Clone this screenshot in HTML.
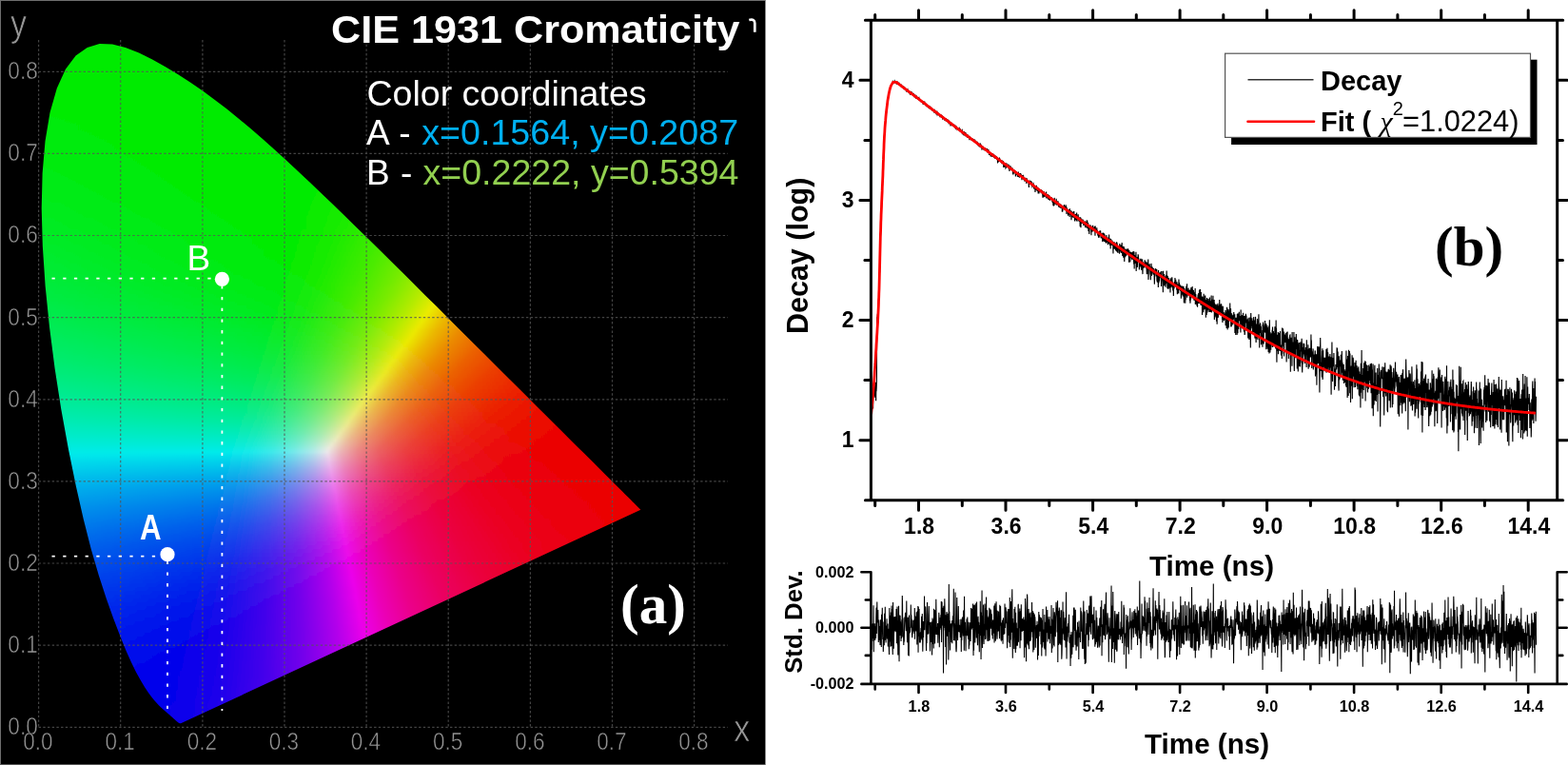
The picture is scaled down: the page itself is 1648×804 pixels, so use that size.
<!DOCTYPE html><html><head><meta charset="utf-8"><title>CIE 1931 chromaticity and decay</title><style>html,body{margin:0;padding:0;background:#fff;overflow:hidden}svg{display:block}</style></head><body><svg width="1648" height="804" viewBox="0 0 1648 804"><rect width="1648" height="804" fill="#fff"/><defs><linearGradient id="g0" gradientUnits="userSpaceOnUse" x1="91" x2="129"><stop offset="0" stop-color="#00eb00"/><stop offset="1" stop-color="#00eb00"/></linearGradient><linearGradient id="g1" gradientUnits="userSpaceOnUse" x1="83" x2="143"><stop offset="0" stop-color="#00eb00"/><stop offset="1" stop-color="#00eb00"/></linearGradient><linearGradient id="g2" gradientUnits="userSpaceOnUse" x1="77" x2="153"><stop offset="0" stop-color="#00eb00"/><stop offset="1" stop-color="#00eb00"/></linearGradient><linearGradient id="g3" gradientUnits="userSpaceOnUse" x1="73" x2="161"><stop offset="0" stop-color="#00eb00"/><stop offset="1" stop-color="#00eb00"/></linearGradient><linearGradient id="g4" gradientUnits="userSpaceOnUse" x1="70" x2="168"><stop offset="0" stop-color="#00eb00"/><stop offset="1" stop-color="#00eb00"/></linearGradient><linearGradient id="g5" gradientUnits="userSpaceOnUse" x1="67" x2="175"><stop offset="0" stop-color="#00eb00"/><stop offset="1" stop-color="#00eb00"/></linearGradient><linearGradient id="g6" gradientUnits="userSpaceOnUse" x1="64" x2="181"><stop offset="0" stop-color="#00eb00"/><stop offset="1" stop-color="#00eb00"/></linearGradient><linearGradient id="g7" gradientUnits="userSpaceOnUse" x1="62" x2="188"><stop offset="0" stop-color="#00eb00"/><stop offset="1" stop-color="#00eb00"/></linearGradient><linearGradient id="g8" gradientUnits="userSpaceOnUse" x1="61" x2="195"><stop offset="0" stop-color="#00eb00"/><stop offset="1" stop-color="#00eb00"/></linearGradient><linearGradient id="g9" gradientUnits="userSpaceOnUse" x1="59" x2="201"><stop offset="0" stop-color="#00eb01"/><stop offset="1" stop-color="#00eb00"/></linearGradient><linearGradient id="g10" gradientUnits="userSpaceOnUse" x1="57" x2="207"><stop offset="0" stop-color="#00eb01"/><stop offset="1" stop-color="#00eb00"/></linearGradient><linearGradient id="g11" gradientUnits="userSpaceOnUse" x1="55" x2="213"><stop offset="0" stop-color="#00eb02"/><stop offset="1" stop-color="#00eb00"/></linearGradient><linearGradient id="g12" gradientUnits="userSpaceOnUse" x1="54" x2="219"><stop offset="0" stop-color="#00eb02"/><stop offset="1" stop-color="#00eb00"/></linearGradient><linearGradient id="g13" gradientUnits="userSpaceOnUse" x1="52" x2="224"><stop offset="0" stop-color="#00eb03"/><stop offset="0.901" stop-color="#00eb00"/><stop offset="1" stop-color="#00eb00"/></linearGradient><linearGradient id="g14" gradientUnits="userSpaceOnUse" x1="51" x2="230"><stop offset="0" stop-color="#00eb03"/><stop offset="0.715" stop-color="#00eb00"/><stop offset="1" stop-color="#00eb00"/></linearGradient><linearGradient id="g15" gradientUnits="userSpaceOnUse" x1="50" x2="236"><stop offset="0" stop-color="#00eb04"/><stop offset="0.634" stop-color="#00eb00"/><stop offset="1" stop-color="#00eb00"/></linearGradient><linearGradient id="g16" gradientUnits="userSpaceOnUse" x1="49" x2="241"><stop offset="0" stop-color="#00eb05"/><stop offset="0.599" stop-color="#00eb00"/><stop offset="1" stop-color="#00eb00"/></linearGradient><linearGradient id="g17" gradientUnits="userSpaceOnUse" x1="48" x2="245"><stop offset="0" stop-color="#00eb05"/><stop offset="0.579" stop-color="#00eb00"/><stop offset="1" stop-color="#00eb00"/></linearGradient><linearGradient id="g18" gradientUnits="userSpaceOnUse" x1="48" x2="250"><stop offset="0" stop-color="#00eb06"/><stop offset="0.569" stop-color="#00eb00"/><stop offset="1" stop-color="#00eb00"/></linearGradient><linearGradient id="g19" gradientUnits="userSpaceOnUse" x1="47" x2="255"><stop offset="0" stop-color="#00eb06"/><stop offset="0.562" stop-color="#00eb00"/><stop offset="1" stop-color="#00eb00"/></linearGradient><linearGradient id="g20" gradientUnits="userSpaceOnUse" x1="46" x2="261"><stop offset="0" stop-color="#00eb07"/><stop offset="0.558" stop-color="#00eb00"/><stop offset="1" stop-color="#00eb00"/></linearGradient><linearGradient id="g21" gradientUnits="userSpaceOnUse" x1="45" x2="265"><stop offset="0" stop-color="#00eb08"/><stop offset="0.559" stop-color="#00eb00"/><stop offset="1" stop-color="#00eb00"/></linearGradient><linearGradient id="g22" gradientUnits="userSpaceOnUse" x1="45" x2="269"><stop offset="0" stop-color="#00eb09"/><stop offset="0.562" stop-color="#00eb00"/><stop offset="1" stop-color="#00eb00"/></linearGradient><linearGradient id="g23" gradientUnits="userSpaceOnUse" x1="44" x2="274"><stop offset="0" stop-color="#00eb09"/><stop offset="0.565" stop-color="#00eb00"/><stop offset="1" stop-color="#00eb00"/></linearGradient><linearGradient id="g24" gradientUnits="userSpaceOnUse" x1="44" x2="279"><stop offset="0" stop-color="#00eb0a"/><stop offset="0.57" stop-color="#00eb00"/><stop offset="1" stop-color="#00eb00"/></linearGradient><linearGradient id="g25" gradientUnits="userSpaceOnUse" x1="43" x2="283"><stop offset="0" stop-color="#00eb0b"/><stop offset="0.575" stop-color="#00eb00"/><stop offset="1" stop-color="#00eb00"/></linearGradient><linearGradient id="g26" gradientUnits="userSpaceOnUse" x1="43" x2="287"><stop offset="0" stop-color="#00eb0c"/><stop offset="0.582" stop-color="#00eb00"/><stop offset="1" stop-color="#00eb00"/></linearGradient><linearGradient id="g27" gradientUnits="userSpaceOnUse" x1="42" x2="293"><stop offset="0" stop-color="#00eb0d"/><stop offset="0.586" stop-color="#00eb00"/><stop offset="1" stop-color="#00eb00"/></linearGradient><linearGradient id="g28" gradientUnits="userSpaceOnUse" x1="42" x2="297"><stop offset="0" stop-color="#00eb0d"/><stop offset="0.592" stop-color="#00eb00"/><stop offset="1" stop-color="#00eb00"/></linearGradient><linearGradient id="g29" gradientUnits="userSpaceOnUse" x1="41" x2="301"><stop offset="0" stop-color="#00eb0e"/><stop offset="0.6" stop-color="#00eb00"/><stop offset="1" stop-color="#00eb00"/></linearGradient><linearGradient id="g30" gradientUnits="userSpaceOnUse" x1="41" x2="305"><stop offset="0" stop-color="#00eb0f"/><stop offset="0.606" stop-color="#00eb00"/><stop offset="1" stop-color="#00eb00"/></linearGradient><linearGradient id="g31" gradientUnits="userSpaceOnUse" x1="41" x2="310"><stop offset="0" stop-color="#00eb10"/><stop offset="0.61" stop-color="#00eb00"/><stop offset="1" stop-color="#00eb00"/></linearGradient><linearGradient id="g32" gradientUnits="userSpaceOnUse" x1="40" x2="314"><stop offset="0" stop-color="#00eb11"/><stop offset="0.617" stop-color="#00eb00"/><stop offset="1" stop-color="#00eb00"/></linearGradient><linearGradient id="g33" gradientUnits="userSpaceOnUse" x1="40" x2="318"><stop offset="0" stop-color="#00eb12"/><stop offset="0.626" stop-color="#00eb00"/><stop offset="1" stop-color="#00eb00"/></linearGradient><linearGradient id="g34" gradientUnits="userSpaceOnUse" x1="40" x2="322"><stop offset="0" stop-color="#00eb13"/><stop offset="0.631" stop-color="#00eb00"/><stop offset="1" stop-color="#01eb00"/></linearGradient><linearGradient id="g35" gradientUnits="userSpaceOnUse" x1="40" x2="327"><stop offset="0" stop-color="#00eb14"/><stop offset="0.638" stop-color="#00eb00"/><stop offset="1" stop-color="#02eb00"/></linearGradient><linearGradient id="g36" gradientUnits="userSpaceOnUse" x1="39" x2="332"><stop offset="0" stop-color="#00eb15"/><stop offset="0.642" stop-color="#00eb00"/><stop offset="0.98" stop-color="#02eb00"/><stop offset="1" stop-color="#04eb00"/></linearGradient><linearGradient id="g37" gradientUnits="userSpaceOnUse" x1="39" x2="336"><stop offset="0" stop-color="#00eb16"/><stop offset="0.65" stop-color="#00eb00"/><stop offset="0.963" stop-color="#02eb00"/><stop offset="1" stop-color="#06eb00"/></linearGradient><linearGradient id="g38" gradientUnits="userSpaceOnUse" x1="39" x2="340"><stop offset="0" stop-color="#00eb17"/><stop offset="0.654" stop-color="#00eb00"/><stop offset="0.947" stop-color="#02eb00"/><stop offset="1" stop-color="#08eb00"/></linearGradient><linearGradient id="g39" gradientUnits="userSpaceOnUse" x1="39" x2="344"><stop offset="0" stop-color="#00eb18"/><stop offset="0.662" stop-color="#00eb00"/><stop offset="0.931" stop-color="#02eb00"/><stop offset="1" stop-color="#0aeb00"/></linearGradient><linearGradient id="g40" gradientUnits="userSpaceOnUse" x1="39" x2="348"><stop offset="0" stop-color="#00eb19"/><stop offset="0.67" stop-color="#00eb00"/><stop offset="0.916" stop-color="#02eb00"/><stop offset="1" stop-color="#0deb00"/></linearGradient><linearGradient id="g41" gradientUnits="userSpaceOnUse" x1="39" x2="352"><stop offset="0" stop-color="#00eb1a"/><stop offset="0.677" stop-color="#00eb00"/><stop offset="0.901" stop-color="#02eb00"/><stop offset="1" stop-color="#10eb00"/></linearGradient><linearGradient id="g42" gradientUnits="userSpaceOnUse" x1="39" x2="356"><stop offset="0" stop-color="#00eb1b"/><stop offset="0.685" stop-color="#00eb00"/><stop offset="0.883" stop-color="#02eb00"/><stop offset="1" stop-color="#13eb00"/></linearGradient><linearGradient id="g43" gradientUnits="userSpaceOnUse" x1="39" x2="360"><stop offset="0" stop-color="#00eb1d"/><stop offset="0.692" stop-color="#00eb00"/><stop offset="0.869" stop-color="#02eb00"/><stop offset="1" stop-color="#16eb00"/></linearGradient><linearGradient id="g44" gradientUnits="userSpaceOnUse" x1="39" x2="364"><stop offset="0" stop-color="#00eb1e"/><stop offset="0.698" stop-color="#00eb00"/><stop offset="0.855" stop-color="#02eb00"/><stop offset="1" stop-color="#19eb00"/></linearGradient><linearGradient id="g45" gradientUnits="userSpaceOnUse" x1="39" x2="368"><stop offset="0" stop-color="#00eb1f"/><stop offset="0.702" stop-color="#00eb00"/><stop offset="0.845" stop-color="#03eb00"/><stop offset="0.988" stop-color="#1aeb00"/><stop offset="1" stop-color="#1deb00"/></linearGradient><linearGradient id="g46" gradientUnits="userSpaceOnUse" x1="39" x2="373"><stop offset="0" stop-color="#00eb20"/><stop offset="0.71" stop-color="#00eb00"/><stop offset="0.829" stop-color="#03eb00"/><stop offset="0.967" stop-color="#1aeb00"/><stop offset="1" stop-color="#22eb00"/></linearGradient><linearGradient id="g47" gradientUnits="userSpaceOnUse" x1="39" x2="377"><stop offset="0" stop-color="#00eb22"/><stop offset="0.716" stop-color="#00eb00"/><stop offset="0.82" stop-color="#03eb00"/><stop offset="0.956" stop-color="#1beb00"/><stop offset="1" stop-color="#26eb00"/></linearGradient><linearGradient id="g48" gradientUnits="userSpaceOnUse" x1="40" x2="381"><stop offset="0" stop-color="#00eb23"/><stop offset="0.721" stop-color="#00eb00"/><stop offset="0.809" stop-color="#03eb00"/><stop offset="0.944" stop-color="#1ceb00"/><stop offset="1" stop-color="#2beb00"/></linearGradient><linearGradient id="g49" gradientUnits="userSpaceOnUse" x1="40" x2="385"><stop offset="0" stop-color="#00eb24"/><stop offset="0.728" stop-color="#00eb00"/><stop offset="0.809" stop-color="#05eb00"/><stop offset="0.945" stop-color="#20eb00"/><stop offset="1" stop-color="#30eb00"/></linearGradient><linearGradient id="g50" gradientUnits="userSpaceOnUse" x1="40" x2="389"><stop offset="0" stop-color="#00eb26"/><stop offset="0.734" stop-color="#00eb00"/><stop offset="0.825" stop-color="#0aeb00"/><stop offset="0.96" stop-color="#29eb00"/><stop offset="1" stop-color="#35eb00"/></linearGradient><linearGradient id="g51" gradientUnits="userSpaceOnUse" x1="40" x2="393"><stop offset="0" stop-color="#00eb27"/><stop offset="0.739" stop-color="#00eb00"/><stop offset="0.856" stop-color="#12eb00"/><stop offset="0.989" stop-color="#37eb00"/><stop offset="1" stop-color="#3beb00"/></linearGradient><linearGradient id="g52" gradientUnits="userSpaceOnUse" x1="40" x2="397"><stop offset="0" stop-color="#00eb29"/><stop offset="0.745" stop-color="#02eb00"/><stop offset="0.866" stop-color="#18eb00"/><stop offset="0.994" stop-color="#3feb00"/><stop offset="1" stop-color="#41eb00"/></linearGradient><linearGradient id="g53" gradientUnits="userSpaceOnUse" x1="40" x2="401"><stop offset="0" stop-color="#00eb2a"/><stop offset="0.734" stop-color="#02eb00"/><stop offset="0.853" stop-color="#18eb00"/><stop offset="0.981" stop-color="#40eb00"/><stop offset="1" stop-color="#47eb00"/></linearGradient><linearGradient id="g54" gradientUnits="userSpaceOnUse" x1="40" x2="405"><stop offset="0" stop-color="#00eb2c"/><stop offset="0.723" stop-color="#02eb01"/><stop offset="0.841" stop-color="#19eb00"/><stop offset="0.964" stop-color="#40eb00"/><stop offset="1" stop-color="#4eeb00"/></linearGradient><linearGradient id="g55" gradientUnits="userSpaceOnUse" x1="40" x2="409"><stop offset="0" stop-color="#00eb2d"/><stop offset="0.713" stop-color="#02eb02"/><stop offset="0.827" stop-color="#18eb00"/><stop offset="0.949" stop-color="#40eb00"/><stop offset="1" stop-color="#55eb00"/></linearGradient><linearGradient id="g56" gradientUnits="userSpaceOnUse" x1="40" x2="413"><stop offset="0" stop-color="#00eb2f"/><stop offset="0.702" stop-color="#02eb02"/><stop offset="0.815" stop-color="#19eb00"/><stop offset="0.936" stop-color="#41eb00"/><stop offset="1" stop-color="#5deb00"/></linearGradient><linearGradient id="g57" gradientUnits="userSpaceOnUse" x1="41" x2="417"><stop offset="0" stop-color="#00eb30"/><stop offset="0.691" stop-color="#02eb03"/><stop offset="0.803" stop-color="#19eb00"/><stop offset="0.92" stop-color="#41eb00"/><stop offset="1" stop-color="#65eb00"/></linearGradient><linearGradient id="g58" gradientUnits="userSpaceOnUse" x1="41" x2="422"><stop offset="0" stop-color="#00eb32"/><stop offset="0.677" stop-color="#02eb05"/><stop offset="0.785" stop-color="#18eb00"/><stop offset="0.9" stop-color="#3feb00"/><stop offset="1" stop-color="#6feb00"/></linearGradient><linearGradient id="g59" gradientUnits="userSpaceOnUse" x1="41" x2="426"><stop offset="0" stop-color="#00eb34"/><stop offset="0.668" stop-color="#02eb06"/><stop offset="0.774" stop-color="#18eb00"/><stop offset="0.886" stop-color="#3feb00"/><stop offset="0.99" stop-color="#73eb00"/><stop offset="1" stop-color="#79eb00"/></linearGradient><linearGradient id="g60" gradientUnits="userSpaceOnUse" x1="42" x2="430"><stop offset="0" stop-color="#00eb35"/><stop offset="0.657" stop-color="#02eb07"/><stop offset="0.76" stop-color="#18eb01"/><stop offset="0.871" stop-color="#3feb00"/><stop offset="0.974" stop-color="#73eb00"/><stop offset="1" stop-color="#83eb00"/></linearGradient><linearGradient id="g61" gradientUnits="userSpaceOnUse" x1="42" x2="434"><stop offset="0" stop-color="#00eb37"/><stop offset="0.648" stop-color="#02eb08"/><stop offset="0.75" stop-color="#18eb02"/><stop offset="0.86" stop-color="#40eb00"/><stop offset="0.959" stop-color="#74eb00"/><stop offset="1" stop-color="#8deb00"/></linearGradient><linearGradient id="g62" gradientUnits="userSpaceOnUse" x1="42" x2="438"><stop offset="0" stop-color="#00eb39"/><stop offset="0.639" stop-color="#02eb0a"/><stop offset="0.74" stop-color="#19eb03"/><stop offset="0.846" stop-color="#40eb00"/><stop offset="0.944" stop-color="#74eb00"/><stop offset="1" stop-color="#99eb00"/></linearGradient><linearGradient id="g63" gradientUnits="userSpaceOnUse" x1="42" x2="442"><stop offset="0" stop-color="#00eb3b"/><stop offset="0.627" stop-color="#02eb0c"/><stop offset="0.725" stop-color="#18eb04"/><stop offset="0.83" stop-color="#3feb00"/><stop offset="0.927" stop-color="#73eb00"/><stop offset="1" stop-color="#a5eb00"/></linearGradient><linearGradient id="g64" gradientUnits="userSpaceOnUse" x1="43" x2="446"><stop offset="0" stop-color="#00eb3d"/><stop offset="0.618" stop-color="#02eb0d"/><stop offset="0.715" stop-color="#18eb05"/><stop offset="0.816" stop-color="#3feb00"/><stop offset="0.911" stop-color="#72eb00"/><stop offset="0.995" stop-color="#aeeb00"/><stop offset="1" stop-color="#b2eb00"/></linearGradient><linearGradient id="g65" gradientUnits="userSpaceOnUse" x1="43" x2="450"><stop offset="0" stop-color="#00eb3f"/><stop offset="0.582" stop-color="#00eb11"/><stop offset="0.651" stop-color="#0aeb0b"/><stop offset="0.752" stop-color="#29eb03"/><stop offset="0.85" stop-color="#57eb00"/><stop offset="0.939" stop-color="#8feb00"/><stop offset="1" stop-color="#c0eb00"/></linearGradient><linearGradient id="g66" gradientUnits="userSpaceOnUse" x1="43" x2="454"><stop offset="0" stop-color="#00eb41"/><stop offset="0.557" stop-color="#00eb15"/><stop offset="0.616" stop-color="#04eb10"/><stop offset="0.713" stop-color="#1feb07"/><stop offset="0.81" stop-color="#49eb00"/><stop offset="0.9" stop-color="#7eeb00"/><stop offset="0.981" stop-color="#bdeb00"/><stop offset="1" stop-color="#cfeb00"/></linearGradient><linearGradient id="g67" gradientUnits="userSpaceOnUse" x1="43" x2="457"><stop offset="0" stop-color="#00eb43"/><stop offset="0.536" stop-color="#00eb18"/><stop offset="0.601" stop-color="#03eb12"/><stop offset="0.696" stop-color="#1ceb09"/><stop offset="0.792" stop-color="#45eb01"/><stop offset="0.882" stop-color="#7aeb00"/><stop offset="0.961" stop-color="#b8eb00"/><stop offset="1" stop-color="#ddeb00"/></linearGradient><linearGradient id="g68" gradientUnits="userSpaceOnUse" x1="44" x2="461"><stop offset="0" stop-color="#00eb45"/><stop offset="0.52" stop-color="#00eb1b"/><stop offset="0.59" stop-color="#03eb14"/><stop offset="0.681" stop-color="#1beb0b"/><stop offset="0.777" stop-color="#44eb03"/><stop offset="0.863" stop-color="#77eb00"/><stop offset="0.942" stop-color="#b5eb00"/><stop offset="0.998" stop-color="#ebea00"/><stop offset="1" stop-color="#ebe700"/></linearGradient><linearGradient id="g69" gradientUnits="userSpaceOnUse" x1="44" x2="465"><stop offset="0" stop-color="#00eb47"/><stop offset="0.504" stop-color="#00eb1e"/><stop offset="0.58" stop-color="#03eb17"/><stop offset="0.667" stop-color="#1aeb0e"/><stop offset="0.76" stop-color="#41eb05"/><stop offset="0.846" stop-color="#75eb00"/><stop offset="0.922" stop-color="#b1eb00"/><stop offset="0.981" stop-color="#ebea00"/><stop offset="1" stop-color="#ebd700"/></linearGradient><linearGradient id="g70" gradientUnits="userSpaceOnUse" x1="45" x2="470"><stop offset="0" stop-color="#00eb4a"/><stop offset="0.489" stop-color="#00eb21"/><stop offset="0.569" stop-color="#03eb19"/><stop offset="0.656" stop-color="#1aeb10"/><stop offset="0.748" stop-color="#43eb06"/><stop offset="0.833" stop-color="#77eb00"/><stop offset="0.908" stop-color="#b4eb00"/><stop offset="0.962" stop-color="#ebea00"/><stop offset="1" stop-color="#ebc500"/></linearGradient><linearGradient id="g71" gradientUnits="userSpaceOnUse" x1="45" x2="474"><stop offset="0" stop-color="#00eb4c"/><stop offset="0.476" stop-color="#00eb24"/><stop offset="0.559" stop-color="#02eb1b"/><stop offset="0.646" stop-color="#1aeb12"/><stop offset="0.734" stop-color="#41eb09"/><stop offset="0.816" stop-color="#74eb01"/><stop offset="0.89" stop-color="#b1eb00"/><stop offset="0.946" stop-color="#ebeb00"/><stop offset="0.998" stop-color="#ebb900"/><stop offset="1" stop-color="#ebb700"/></linearGradient><linearGradient id="g72" gradientUnits="userSpaceOnUse" x1="45" x2="478"><stop offset="0" stop-color="#00eb4e"/><stop offset="0.462" stop-color="#00eb27"/><stop offset="0.552" stop-color="#02eb1e"/><stop offset="0.635" stop-color="#19eb15"/><stop offset="0.723" stop-color="#41eb0b"/><stop offset="0.804" stop-color="#75eb02"/><stop offset="0.875" stop-color="#b1eb00"/><stop offset="0.931" stop-color="#eaeb00"/><stop offset="0.984" stop-color="#ebb700"/><stop offset="1" stop-color="#ebaa00"/></linearGradient><linearGradient id="g73" gradientUnits="userSpaceOnUse" x1="46" x2="482"><stop offset="0" stop-color="#00eb51"/><stop offset="0.452" stop-color="#00eb2a"/><stop offset="0.544" stop-color="#02eb20"/><stop offset="0.626" stop-color="#1aeb17"/><stop offset="0.713" stop-color="#42eb0d"/><stop offset="0.794" stop-color="#77eb04"/><stop offset="0.865" stop-color="#b4eb00"/><stop offset="0.915" stop-color="#eaeb00"/><stop offset="0.968" stop-color="#ebb600"/><stop offset="1" stop-color="#eb9d00"/></linearGradient><linearGradient id="g74" gradientUnits="userSpaceOnUse" x1="46" x2="486"><stop offset="0" stop-color="#00eb53"/><stop offset="0.441" stop-color="#00eb2d"/><stop offset="0.534" stop-color="#02eb23"/><stop offset="0.614" stop-color="#19eb1a"/><stop offset="0.698" stop-color="#40eb10"/><stop offset="0.775" stop-color="#72eb06"/><stop offset="0.845" stop-color="#afeb00"/><stop offset="0.902" stop-color="#ebe900"/><stop offset="0.952" stop-color="#ebb600"/><stop offset="1" stop-color="#eb9200"/></linearGradient><linearGradient id="g75" gradientUnits="userSpaceOnUse" x1="46" x2="490"><stop offset="0" stop-color="#00eb56"/><stop offset="0.432" stop-color="#00eb30"/><stop offset="0.527" stop-color="#02eb26"/><stop offset="0.606" stop-color="#19eb1d"/><stop offset="0.689" stop-color="#41eb12"/><stop offset="0.766" stop-color="#75eb08"/><stop offset="0.833" stop-color="#b1eb01"/><stop offset="0.887" stop-color="#ebe900"/><stop offset="0.937" stop-color="#ebb600"/><stop offset="0.998" stop-color="#eb8800"/><stop offset="1" stop-color="#eb8700"/></linearGradient><linearGradient id="g76" gradientUnits="userSpaceOnUse" x1="47" x2="494"><stop offset="0" stop-color="#00eb58"/><stop offset="0.423" stop-color="#00eb34"/><stop offset="0.519" stop-color="#02eb29"/><stop offset="0.597" stop-color="#1aeb1f"/><stop offset="0.678" stop-color="#41eb15"/><stop offset="0.754" stop-color="#75eb0b"/><stop offset="0.821" stop-color="#b2eb03"/><stop offset="0.872" stop-color="#ebe900"/><stop offset="0.919" stop-color="#ebb700"/><stop offset="0.98" stop-color="#eb8900"/><stop offset="1" stop-color="#eb7d00"/></linearGradient><linearGradient id="g77" gradientUnits="userSpaceOnUse" x1="47" x2="498"><stop offset="0" stop-color="#00eb5b"/><stop offset="0.415" stop-color="#00eb37"/><stop offset="0.512" stop-color="#02eb2c"/><stop offset="0.588" stop-color="#19eb22"/><stop offset="0.667" stop-color="#41eb18"/><stop offset="0.741" stop-color="#74eb0e"/><stop offset="0.807" stop-color="#b1eb05"/><stop offset="0.858" stop-color="#ebe900"/><stop offset="0.905" stop-color="#ebb700"/><stop offset="0.962" stop-color="#eb8a00"/><stop offset="1" stop-color="#eb7300"/></linearGradient><linearGradient id="g78" gradientUnits="userSpaceOnUse" x1="48" x2="502"><stop offset="0" stop-color="#00eb5e"/><stop offset="0.407" stop-color="#00eb3a"/><stop offset="0.502" stop-color="#02eb2f"/><stop offset="0.577" stop-color="#19eb26"/><stop offset="0.656" stop-color="#41eb1b"/><stop offset="0.729" stop-color="#75eb11"/><stop offset="0.793" stop-color="#b1eb08"/><stop offset="0.844" stop-color="#ebe901"/><stop offset="0.89" stop-color="#ebb700"/><stop offset="0.947" stop-color="#eb8900"/><stop offset="1" stop-color="#eb6b00"/></linearGradient><linearGradient id="g79" gradientUnits="userSpaceOnUse" x1="48" x2="506"><stop offset="0" stop-color="#00eb61"/><stop offset="0.4" stop-color="#00eb3e"/><stop offset="0.496" stop-color="#02eb32"/><stop offset="0.568" stop-color="#19eb29"/><stop offset="0.644" stop-color="#40eb1f"/><stop offset="0.716" stop-color="#74eb14"/><stop offset="0.779" stop-color="#b0eb0b"/><stop offset="0.83" stop-color="#ebea04"/><stop offset="0.876" stop-color="#ebb600"/><stop offset="0.932" stop-color="#eb8900"/><stop offset="1" stop-color="#eb6200"/></linearGradient><linearGradient id="g80" gradientUnits="userSpaceOnUse" x1="49" x2="510"><stop offset="0" stop-color="#00eb64"/><stop offset="0.393" stop-color="#00eb41"/><stop offset="0.488" stop-color="#02eb36"/><stop offset="0.56" stop-color="#19eb2c"/><stop offset="0.636" stop-color="#41eb22"/><stop offset="0.705" stop-color="#74eb17"/><stop offset="0.768" stop-color="#b1eb0d"/><stop offset="0.816" stop-color="#ebea06"/><stop offset="0.859" stop-color="#ebb801"/><stop offset="0.913" stop-color="#eb8b00"/><stop offset="0.983" stop-color="#eb6300"/><stop offset="1" stop-color="#eb5b00"/></linearGradient><linearGradient id="g81" gradientUnits="userSpaceOnUse" x1="49" x2="514"><stop offset="0" stop-color="#00eb67"/><stop offset="0.387" stop-color="#00eb44"/><stop offset="0.482" stop-color="#02eb39"/><stop offset="0.553" stop-color="#1aeb30"/><stop offset="0.626" stop-color="#41eb25"/><stop offset="0.695" stop-color="#75eb1b"/><stop offset="0.755" stop-color="#b0eb11"/><stop offset="0.802" stop-color="#ebea09"/><stop offset="0.845" stop-color="#ebb802"/><stop offset="0.899" stop-color="#eb8a00"/><stop offset="0.968" stop-color="#eb6200"/><stop offset="1" stop-color="#eb5300"/></linearGradient><linearGradient id="g82" gradientUnits="userSpaceOnUse" x1="50" x2="518"><stop offset="0" stop-color="#00eb6a"/><stop offset="0.38" stop-color="#00eb48"/><stop offset="0.474" stop-color="#02eb3d"/><stop offset="0.543" stop-color="#19eb34"/><stop offset="0.615" stop-color="#41eb29"/><stop offset="0.682" stop-color="#74eb1f"/><stop offset="0.741" stop-color="#b0eb15"/><stop offset="0.788" stop-color="#ebea0d"/><stop offset="0.831" stop-color="#ebb804"/><stop offset="0.885" stop-color="#eb8a00"/><stop offset="0.953" stop-color="#eb6100"/><stop offset="1" stop-color="#eb4c00"/></linearGradient><linearGradient id="g83" gradientUnits="userSpaceOnUse" x1="51" x2="522"><stop offset="0" stop-color="#00eb6d"/><stop offset="0.376" stop-color="#00eb4c"/><stop offset="0.465" stop-color="#02eb41"/><stop offset="0.533" stop-color="#19eb38"/><stop offset="0.605" stop-color="#41eb2d"/><stop offset="0.671" stop-color="#74eb23"/><stop offset="0.73" stop-color="#b1eb18"/><stop offset="0.775" stop-color="#ebeb10"/><stop offset="0.817" stop-color="#ebb707"/><stop offset="0.868" stop-color="#eb8b01"/><stop offset="0.934" stop-color="#eb6200"/><stop offset="1" stop-color="#eb4600"/></linearGradient><linearGradient id="g84" gradientUnits="userSpaceOnUse" x1="51" x2="526"><stop offset="0" stop-color="#00eb70"/><stop offset="0.371" stop-color="#00eb50"/><stop offset="0.459" stop-color="#02eb45"/><stop offset="0.524" stop-color="#18eb3c"/><stop offset="0.594" stop-color="#3feb32"/><stop offset="0.659" stop-color="#73eb27"/><stop offset="0.716" stop-color="#aeeb1d"/><stop offset="0.762" stop-color="#eaeb15"/><stop offset="0.804" stop-color="#ebb70a"/><stop offset="0.855" stop-color="#eb8a02"/><stop offset="0.92" stop-color="#eb6100"/><stop offset="1" stop-color="#eb4000"/></linearGradient><linearGradient id="g85" gradientUnits="userSpaceOnUse" x1="52" x2="530"><stop offset="0" stop-color="#00eb73"/><stop offset="0.366" stop-color="#00eb53"/><stop offset="0.452" stop-color="#02eb49"/><stop offset="0.517" stop-color="#19eb40"/><stop offset="0.586" stop-color="#41eb36"/><stop offset="0.649" stop-color="#73eb2c"/><stop offset="0.705" stop-color="#b0eb21"/><stop offset="0.749" stop-color="#eaeb19"/><stop offset="0.791" stop-color="#ebb70d"/><stop offset="0.841" stop-color="#eb8904"/><stop offset="0.906" stop-color="#eb6000"/><stop offset="0.99" stop-color="#eb3e00"/><stop offset="1" stop-color="#eb3a00"/></linearGradient><linearGradient id="g86" gradientUnits="userSpaceOnUse" x1="52" x2="534"><stop offset="0" stop-color="#00eb77"/><stop offset="0.361" stop-color="#00eb57"/><stop offset="0.446" stop-color="#02eb4d"/><stop offset="0.51" stop-color="#1aeb45"/><stop offset="0.577" stop-color="#41eb3b"/><stop offset="0.639" stop-color="#74eb30"/><stop offset="0.695" stop-color="#b1eb26"/><stop offset="0.737" stop-color="#eaeb1e"/><stop offset="0.78" stop-color="#ebb410"/><stop offset="0.83" stop-color="#eb8706"/><stop offset="0.894" stop-color="#eb5e00"/><stop offset="0.979" stop-color="#eb3b00"/><stop offset="1" stop-color="#eb3500"/></linearGradient><linearGradient id="g87" gradientUnits="userSpaceOnUse" x1="53" x2="538"><stop offset="0" stop-color="#00eb7a"/><stop offset="0.357" stop-color="#00eb5c"/><stop offset="0.439" stop-color="#02eb52"/><stop offset="0.501" stop-color="#19eb49"/><stop offset="0.567" stop-color="#41eb3f"/><stop offset="0.629" stop-color="#75eb35"/><stop offset="0.682" stop-color="#b0eb2b"/><stop offset="0.726" stop-color="#ebe922"/><stop offset="0.765" stop-color="#ebb614"/><stop offset="0.812" stop-color="#eb8909"/><stop offset="0.874" stop-color="#eb6101"/><stop offset="0.955" stop-color="#eb3e00"/><stop offset="1" stop-color="#eb3000"/></linearGradient><linearGradient id="g88" gradientUnits="userSpaceOnUse" x1="53" x2="542"><stop offset="0" stop-color="#00eb7e"/><stop offset="0.354" stop-color="#00eb60"/><stop offset="0.431" stop-color="#02eb57"/><stop offset="0.493" stop-color="#19eb4e"/><stop offset="0.558" stop-color="#41eb45"/><stop offset="0.618" stop-color="#73eb3b"/><stop offset="0.671" stop-color="#b0eb31"/><stop offset="0.714" stop-color="#ebe928"/><stop offset="0.751" stop-color="#ebb819"/><stop offset="0.798" stop-color="#eb8a0c"/><stop offset="0.857" stop-color="#eb6203"/><stop offset="0.935" stop-color="#eb3f00"/><stop offset="1" stop-color="#eb2b00"/></linearGradient><linearGradient id="g89" gradientUnits="userSpaceOnUse" x1="54" x2="546"><stop offset="0" stop-color="#00eb82"/><stop offset="0.352" stop-color="#00eb64"/><stop offset="0.425" stop-color="#02eb5b"/><stop offset="0.484" stop-color="#18eb54"/><stop offset="0.547" stop-color="#3feb4a"/><stop offset="0.606" stop-color="#72eb40"/><stop offset="0.659" stop-color="#afeb36"/><stop offset="0.701" stop-color="#ebe92d"/><stop offset="0.738" stop-color="#ebb71d"/><stop offset="0.785" stop-color="#eb890f"/><stop offset="0.843" stop-color="#eb6105"/><stop offset="0.921" stop-color="#eb3e00"/><stop offset="1" stop-color="#eb2700"/></linearGradient><linearGradient id="g90" gradientUnits="userSpaceOnUse" x1="54" x2="550"><stop offset="0" stop-color="#00eb86"/><stop offset="0.349" stop-color="#00eb69"/><stop offset="0.419" stop-color="#02eb60"/><stop offset="0.478" stop-color="#19eb59"/><stop offset="0.54" stop-color="#40eb4f"/><stop offset="0.597" stop-color="#73eb46"/><stop offset="0.647" stop-color="#aeeb3c"/><stop offset="0.69" stop-color="#ebe933"/><stop offset="0.726" stop-color="#ebb722"/><stop offset="0.77" stop-color="#eb8a13"/><stop offset="0.829" stop-color="#eb6107"/><stop offset="0.905" stop-color="#eb3e00"/><stop offset="1" stop-color="#eb2300"/></linearGradient><linearGradient id="g91" gradientUnits="userSpaceOnUse" x1="55" x2="554"><stop offset="0" stop-color="#00eb8a"/><stop offset="0.347" stop-color="#00eb6d"/><stop offset="0.413" stop-color="#02eb66"/><stop offset="0.471" stop-color="#19eb5e"/><stop offset="0.531" stop-color="#40eb55"/><stop offset="0.587" stop-color="#73eb4c"/><stop offset="0.637" stop-color="#b0eb42"/><stop offset="0.677" stop-color="#ebea3a"/><stop offset="0.713" stop-color="#ebb727"/><stop offset="0.758" stop-color="#eb8a17"/><stop offset="0.814" stop-color="#eb620a"/><stop offset="0.888" stop-color="#eb3f01"/><stop offset="0.988" stop-color="#eb2100"/><stop offset="1" stop-color="#eb1f00"/></linearGradient><linearGradient id="g92" gradientUnits="userSpaceOnUse" x1="56" x2="558"><stop offset="0" stop-color="#00eb8e"/><stop offset="0.345" stop-color="#00eb72"/><stop offset="0.406" stop-color="#02eb6b"/><stop offset="0.464" stop-color="#1aeb64"/><stop offset="0.524" stop-color="#42eb5b"/><stop offset="0.58" stop-color="#76eb52"/><stop offset="0.629" stop-color="#b4eb48"/><stop offset="0.665" stop-color="#ebea41"/><stop offset="0.699" stop-color="#ebb92d"/><stop offset="0.743" stop-color="#eb8b1c"/><stop offset="0.799" stop-color="#eb620d"/><stop offset="0.873" stop-color="#eb3e02"/><stop offset="0.972" stop-color="#eb2100"/><stop offset="1" stop-color="#eb1b00"/></linearGradient><linearGradient id="g93" gradientUnits="userSpaceOnUse" x1="56" x2="562"><stop offset="0" stop-color="#00eb92"/><stop offset="0.344" stop-color="#00eb77"/><stop offset="0.401" stop-color="#02eb71"/><stop offset="0.457" stop-color="#1aeb6a"/><stop offset="0.516" stop-color="#42eb61"/><stop offset="0.569" stop-color="#75eb59"/><stop offset="0.617" stop-color="#b0eb50"/><stop offset="0.654" stop-color="#ebea48"/><stop offset="0.688" stop-color="#ebb833"/><stop offset="0.729" stop-color="#eb8c20"/><stop offset="0.783" stop-color="#eb6311"/><stop offset="0.854" stop-color="#eb4005"/><stop offset="0.949" stop-color="#eb2200"/><stop offset="1" stop-color="#eb1800"/></linearGradient><linearGradient id="g94" gradientUnits="userSpaceOnUse" x1="57" x2="566"><stop offset="0" stop-color="#00eb97"/><stop offset="0.344" stop-color="#00eb7c"/><stop offset="0.395" stop-color="#03eb77"/><stop offset="0.45" stop-color="#1aeb70"/><stop offset="0.507" stop-color="#42eb68"/><stop offset="0.56" stop-color="#76eb5f"/><stop offset="0.607" stop-color="#b2eb57"/><stop offset="0.642" stop-color="#ebea50"/><stop offset="0.676" stop-color="#ebb839"/><stop offset="0.717" stop-color="#eb8b25"/><stop offset="0.77" stop-color="#eb6214"/><stop offset="0.839" stop-color="#eb3f07"/><stop offset="0.933" stop-color="#eb2200"/><stop offset="1" stop-color="#eb1500"/></linearGradient><linearGradient id="g95" gradientUnits="userSpaceOnUse" x1="58" x2="570"><stop offset="0" stop-color="#00eb9b"/><stop offset="0.344" stop-color="#00eb82"/><stop offset="0.389" stop-color="#03eb7d"/><stop offset="0.443" stop-color="#1beb76"/><stop offset="0.5" stop-color="#44eb6f"/><stop offset="0.551" stop-color="#76eb67"/><stop offset="0.598" stop-color="#b4eb5e"/><stop offset="0.631" stop-color="#ebeb58"/><stop offset="0.664" stop-color="#ebb83f"/><stop offset="0.705" stop-color="#eb8a2a"/><stop offset="0.758" stop-color="#eb6117"/><stop offset="0.826" stop-color="#eb3e09"/><stop offset="0.92" stop-color="#eb2100"/><stop offset="1" stop-color="#eb1200"/></linearGradient><linearGradient id="g96" gradientUnits="userSpaceOnUse" x1="58" x2="574"><stop offset="0" stop-color="#00eba0"/><stop offset="0.345" stop-color="#00eb87"/><stop offset="0.384" stop-color="#03eb83"/><stop offset="0.436" stop-color="#1aeb7d"/><stop offset="0.49" stop-color="#42eb76"/><stop offset="0.541" stop-color="#75eb6f"/><stop offset="0.585" stop-color="#b0eb67"/><stop offset="0.62" stop-color="#eaeb60"/><stop offset="0.653" stop-color="#ebb746"/><stop offset="0.694" stop-color="#eb892f"/><stop offset="0.744" stop-color="#eb621b"/><stop offset="0.812" stop-color="#eb3e0b"/><stop offset="0.903" stop-color="#eb2101"/><stop offset="1" stop-color="#eb0f00"/></linearGradient><linearGradient id="g97" gradientUnits="userSpaceOnUse" x1="59" x2="578"><stop offset="0" stop-color="#00eba5"/><stop offset="0.347" stop-color="#00eb8d"/><stop offset="0.38" stop-color="#03eb8a"/><stop offset="0.432" stop-color="#1ceb84"/><stop offset="0.486" stop-color="#45eb7d"/><stop offset="0.536" stop-color="#7aeb76"/><stop offset="0.58" stop-color="#b8eb6f"/><stop offset="0.609" stop-color="#eaeb69"/><stop offset="0.644" stop-color="#ebb44b"/><stop offset="0.684" stop-color="#eb8733"/><stop offset="0.736" stop-color="#eb5e1e"/><stop offset="0.803" stop-color="#eb3c0d"/><stop offset="0.896" stop-color="#eb1f01"/><stop offset="1" stop-color="#eb0c00"/></linearGradient><linearGradient id="g98" gradientUnits="userSpaceOnUse" x1="60" x2="582"><stop offset="0" stop-color="#00ebaa"/><stop offset="0.351" stop-color="#00eb93"/><stop offset="0.383" stop-color="#07eb90"/><stop offset="0.435" stop-color="#23eb8a"/><stop offset="0.487" stop-color="#4eeb84"/><stop offset="0.534" stop-color="#85eb7d"/><stop offset="0.577" stop-color="#c4eb76"/><stop offset="0.598" stop-color="#eaeb73"/><stop offset="0.632" stop-color="#ebb453"/><stop offset="0.67" stop-color="#eb8839"/><stop offset="0.72" stop-color="#eb5f23"/><stop offset="0.785" stop-color="#eb3d11"/><stop offset="0.874" stop-color="#eb2004"/><stop offset="0.994" stop-color="#eb0b00"/><stop offset="1" stop-color="#eb0a00"/></linearGradient><linearGradient id="g99" gradientUnits="userSpaceOnUse" x1="60" x2="586"><stop offset="0" stop-color="#00ebaf"/><stop offset="0.356" stop-color="#00eb99"/><stop offset="0.401" stop-color="#12eb95"/><stop offset="0.452" stop-color="#36eb8f"/><stop offset="0.502" stop-color="#67eb89"/><stop offset="0.546" stop-color="#a2eb83"/><stop offset="0.584" stop-color="#e2eb7d"/><stop offset="0.589" stop-color="#ebe87b"/><stop offset="0.62" stop-color="#ebb65c"/><stop offset="0.658" stop-color="#eb8940"/><stop offset="0.705" stop-color="#eb6129"/><stop offset="0.768" stop-color="#eb3e15"/><stop offset="0.854" stop-color="#eb2106"/><stop offset="0.962" stop-color="#eb0d00"/><stop offset="1" stop-color="#eb0800"/></linearGradient><linearGradient id="g100" gradientUnits="userSpaceOnUse" x1="61" x2="590"><stop offset="0" stop-color="#00ebb4"/><stop offset="0.355" stop-color="#02eba0"/><stop offset="0.403" stop-color="#17eb9c"/><stop offset="0.454" stop-color="#3eeb97"/><stop offset="0.501" stop-color="#71eb91"/><stop offset="0.543" stop-color="#aceb8c"/><stop offset="0.577" stop-color="#e9eb87"/><stop offset="0.612" stop-color="#ebb060"/><stop offset="0.65" stop-color="#eb8444"/><stop offset="0.699" stop-color="#eb5c2b"/><stop offset="0.764" stop-color="#eb3a16"/><stop offset="0.853" stop-color="#eb1d06"/><stop offset="0.962" stop-color="#eb0a00"/><stop offset="1" stop-color="#eb0600"/></linearGradient><linearGradient id="g101" gradientUnits="userSpaceOnUse" x1="62" x2="594"><stop offset="0" stop-color="#00ebba"/><stop offset="0.35" stop-color="#02eba8"/><stop offset="0.397" stop-color="#18eba4"/><stop offset="0.445" stop-color="#3eeba0"/><stop offset="0.491" stop-color="#6feb9b"/><stop offset="0.532" stop-color="#abeb96"/><stop offset="0.568" stop-color="#ebe990"/><stop offset="0.596" stop-color="#ebb86e"/><stop offset="0.632" stop-color="#eb8b50"/><stop offset="0.677" stop-color="#eb6335"/><stop offset="0.737" stop-color="#eb3f1e"/><stop offset="0.818" stop-color="#eb220b"/><stop offset="0.932" stop-color="#eb0c00"/><stop offset="1" stop-color="#eb0400"/></linearGradient><linearGradient id="g102" gradientUnits="userSpaceOnUse" x1="62" x2="598"><stop offset="0" stop-color="#00ebc0"/><stop offset="0.345" stop-color="#02ebb0"/><stop offset="0.39" stop-color="#17ebad"/><stop offset="0.438" stop-color="#3eeba9"/><stop offset="0.483" stop-color="#70eba5"/><stop offset="0.524" stop-color="#adeba1"/><stop offset="0.558" stop-color="#ebe99c"/><stop offset="0.586" stop-color="#ebb777"/><stop offset="0.621" stop-color="#eb8a57"/><stop offset="0.666" stop-color="#eb623a"/><stop offset="0.726" stop-color="#eb3e21"/><stop offset="0.806" stop-color="#eb210e"/><stop offset="0.92" stop-color="#eb0b01"/><stop offset="1" stop-color="#eb0300"/></linearGradient><linearGradient id="g103" gradientUnits="userSpaceOnUse" x1="63" x2="602"><stop offset="0" stop-color="#00ebc6"/><stop offset="0.34" stop-color="#02ebb9"/><stop offset="0.384" stop-color="#18ebb6"/><stop offset="0.432" stop-color="#40ebb3"/><stop offset="0.477" stop-color="#73ebaf"/><stop offset="0.516" stop-color="#afebac"/><stop offset="0.547" stop-color="#ebe9a8"/><stop offset="0.575" stop-color="#ebb781"/><stop offset="0.61" stop-color="#eb895e"/><stop offset="0.655" stop-color="#eb613f"/><stop offset="0.712" stop-color="#eb3e25"/><stop offset="0.792" stop-color="#eb2110"/><stop offset="0.904" stop-color="#eb0b02"/><stop offset="1" stop-color="#eb0100"/></linearGradient><linearGradient id="g104" gradientUnits="userSpaceOnUse" x1="63" x2="607"><stop offset="0" stop-color="#00ebcc"/><stop offset="0.335" stop-color="#02ebc2"/><stop offset="0.379" stop-color="#19ebc0"/><stop offset="0.425" stop-color="#40ebbd"/><stop offset="0.467" stop-color="#72ebbb"/><stop offset="0.506" stop-color="#aeebb8"/><stop offset="0.537" stop-color="#ebeab4"/><stop offset="0.564" stop-color="#ebb78b"/><stop offset="0.597" stop-color="#eb8a67"/><stop offset="0.64" stop-color="#eb6247"/><stop offset="0.697" stop-color="#eb3f2b"/><stop offset="0.774" stop-color="#eb2114"/><stop offset="0.882" stop-color="#eb0b04"/><stop offset="1" stop-color="#eb0000"/></linearGradient><linearGradient id="g105" gradientUnits="userSpaceOnUse" x1="64" x2="611"><stop offset="0" stop-color="#00ebd2"/><stop offset="0.327" stop-color="#02ebcb"/><stop offset="0.369" stop-color="#17ebca"/><stop offset="0.415" stop-color="#3eebc8"/><stop offset="0.457" stop-color="#70ebc6"/><stop offset="0.495" stop-color="#adebc4"/><stop offset="0.527" stop-color="#ebeac2"/><stop offset="0.552" stop-color="#ebb998"/><stop offset="0.585" stop-color="#eb8b71"/><stop offset="0.627" stop-color="#eb634e"/><stop offset="0.682" stop-color="#eb3f31"/><stop offset="0.757" stop-color="#eb2218"/><stop offset="0.861" stop-color="#eb0b06"/><stop offset="0.978" stop-color="#eb0000"/><stop offset="1" stop-color="#eb0000"/></linearGradient><linearGradient id="g106" gradientUnits="userSpaceOnUse" x1="65" x2="615"><stop offset="0" stop-color="#00ebd9"/><stop offset="0.322" stop-color="#02ebd5"/><stop offset="0.364" stop-color="#18ebd4"/><stop offset="0.407" stop-color="#3eebd3"/><stop offset="0.449" stop-color="#71ebd2"/><stop offset="0.485" stop-color="#acebd1"/><stop offset="0.516" stop-color="#ebead0"/><stop offset="0.542" stop-color="#ebb9a3"/><stop offset="0.575" stop-color="#eb8a79"/><stop offset="0.616" stop-color="#eb6155"/><stop offset="0.671" stop-color="#eb3e35"/><stop offset="0.745" stop-color="#eb211b"/><stop offset="0.849" stop-color="#eb0b08"/><stop offset="0.969" stop-color="#eb0000"/><stop offset="1" stop-color="#eb0000"/></linearGradient><linearGradient id="g107" gradientUnits="userSpaceOnUse" x1="66" x2="619"><stop offset="0" stop-color="#00ebe0"/><stop offset="0.316" stop-color="#02ebdf"/><stop offset="0.356" stop-color="#17ebdf"/><stop offset="0.4" stop-color="#3debdf"/><stop offset="0.439" stop-color="#6febdf"/><stop offset="0.476" stop-color="#abebdf"/><stop offset="0.506" stop-color="#ebebdf"/><stop offset="0.532" stop-color="#ebb8af"/><stop offset="0.562" stop-color="#eb8c85"/><stop offset="0.602" stop-color="#eb635e"/><stop offset="0.655" stop-color="#eb403c"/><stop offset="0.725" stop-color="#eb2221"/><stop offset="0.825" stop-color="#eb0c0b"/><stop offset="0.953" stop-color="#eb0000"/><stop offset="1" stop-color="#eb0000"/></linearGradient><linearGradient id="g108" gradientUnits="userSpaceOnUse" x1="67" x2="622"><stop offset="0" stop-color="#00ebe7"/><stop offset="0.312" stop-color="#02ebea"/><stop offset="0.351" stop-color="#18eaeb"/><stop offset="0.395" stop-color="#3fe9eb"/><stop offset="0.434" stop-color="#72e9eb"/><stop offset="0.47" stop-color="#aee8eb"/><stop offset="0.499" stop-color="#ebe7ea"/><stop offset="0.524" stop-color="#ebb5b8"/><stop offset="0.555" stop-color="#eb888c"/><stop offset="0.595" stop-color="#eb6064"/><stop offset="0.647" stop-color="#eb3e40"/><stop offset="0.717" stop-color="#eb2123"/><stop offset="0.816" stop-color="#eb0b0d"/><stop offset="0.939" stop-color="#eb0000"/><stop offset="1" stop-color="#eb0000"/></linearGradient><linearGradient id="g109" gradientUnits="userSpaceOnUse" x1="67" x2="626"><stop offset="0" stop-color="#00e7eb"/><stop offset="0.308" stop-color="#02e0eb"/><stop offset="0.349" stop-color="#19dfeb"/><stop offset="0.392" stop-color="#3fddeb"/><stop offset="0.431" stop-color="#71dbeb"/><stop offset="0.467" stop-color="#acd9eb"/><stop offset="0.497" stop-color="#ebd7ea"/><stop offset="0.522" stop-color="#eba8b8"/><stop offset="0.555" stop-color="#eb7d8a"/><stop offset="0.596" stop-color="#eb5762"/><stop offset="0.649" stop-color="#eb363f"/><stop offset="0.723" stop-color="#eb1b22"/><stop offset="0.826" stop-color="#eb070b"/><stop offset="0.939" stop-color="#eb0001"/><stop offset="1" stop-color="#eb0000"/></linearGradient><linearGradient id="g110" gradientUnits="userSpaceOnUse" x1="68" x2="631"><stop offset="0" stop-color="#00e0eb"/><stop offset="0.302" stop-color="#02d6eb"/><stop offset="0.343" stop-color="#18d4eb"/><stop offset="0.387" stop-color="#40d1eb"/><stop offset="0.428" stop-color="#73cfeb"/><stop offset="0.465" stop-color="#b1cceb"/><stop offset="0.494" stop-color="#ebc8e9"/><stop offset="0.519" stop-color="#eb9cb8"/><stop offset="0.551" stop-color="#eb748b"/><stop offset="0.591" stop-color="#eb5063"/><stop offset="0.645" stop-color="#eb3140"/><stop offset="0.718" stop-color="#eb1823"/><stop offset="0.821" stop-color="#eb060c"/><stop offset="0.929" stop-color="#eb0001"/><stop offset="1" stop-color="#eb0000"/></linearGradient><linearGradient id="g111" gradientUnits="userSpaceOnUse" x1="69" x2="634"><stop offset="0" stop-color="#00d8eb"/><stop offset="0.297" stop-color="#02cceb"/><stop offset="0.338" stop-color="#18c9eb"/><stop offset="0.382" stop-color="#3ec6eb"/><stop offset="0.423" stop-color="#70c3eb"/><stop offset="0.46" stop-color="#acbfeb"/><stop offset="0.49" stop-color="#e9bceb"/><stop offset="0.52" stop-color="#eb8cb3"/><stop offset="0.554" stop-color="#eb6686"/><stop offset="0.596" stop-color="#eb455e"/><stop offset="0.653" stop-color="#eb293c"/><stop offset="0.731" stop-color="#eb121f"/><stop offset="0.841" stop-color="#eb020a"/><stop offset="0.972" stop-color="#eb0000"/><stop offset="1" stop-color="#eb0000"/></linearGradient><linearGradient id="g112" gradientUnits="userSpaceOnUse" x1="70" x2="639"><stop offset="0" stop-color="#00d2eb"/><stop offset="0.292" stop-color="#02c3eb"/><stop offset="0.334" stop-color="#18bfeb"/><stop offset="0.38" stop-color="#41bbeb"/><stop offset="0.422" stop-color="#75b7eb"/><stop offset="0.459" stop-color="#b1b3eb"/><stop offset="0.487" stop-color="#eaafeb"/><stop offset="0.515" stop-color="#eb84b6"/><stop offset="0.548" stop-color="#eb6088"/><stop offset="0.591" stop-color="#eb4061"/><stop offset="0.647" stop-color="#eb253e"/><stop offset="0.722" stop-color="#eb1021"/><stop offset="0.83" stop-color="#eb010b"/><stop offset="0.965" stop-color="#eb0000"/><stop offset="1" stop-color="#eb0000"/></linearGradient><linearGradient id="g113" gradientUnits="userSpaceOnUse" x1="71" x2="642"><stop offset="0" stop-color="#00cbeb"/><stop offset="0.287" stop-color="#02baeb"/><stop offset="0.329" stop-color="#18b6eb"/><stop offset="0.375" stop-color="#3fb1eb"/><stop offset="0.417" stop-color="#72aceb"/><stop offset="0.455" stop-color="#afa7eb"/><stop offset="0.485" stop-color="#eba2ea"/><stop offset="0.511" stop-color="#eb7cb9"/><stop offset="0.545" stop-color="#eb5a8b"/><stop offset="0.587" stop-color="#eb3c63"/><stop offset="0.643" stop-color="#eb2240"/><stop offset="0.718" stop-color="#eb0e23"/><stop offset="0.825" stop-color="#eb010c"/><stop offset="0.965" stop-color="#eb0000"/><stop offset="1" stop-color="#eb0000"/></linearGradient><linearGradient id="g114" gradientUnits="userSpaceOnUse" x1="71" x2="646"><stop offset="0" stop-color="#00c4eb"/><stop offset="0.283" stop-color="#02b1eb"/><stop offset="0.327" stop-color="#19adeb"/><stop offset="0.372" stop-color="#40a7eb"/><stop offset="0.414" stop-color="#72a2eb"/><stop offset="0.452" stop-color="#ae9ceb"/><stop offset="0.483" stop-color="#eb96ea"/><stop offset="0.51" stop-color="#eb73b9"/><stop offset="0.543" stop-color="#eb538c"/><stop offset="0.584" stop-color="#eb3764"/><stop offset="0.64" stop-color="#eb1e41"/><stop offset="0.715" stop-color="#eb0c24"/><stop offset="0.821" stop-color="#eb000d"/><stop offset="0.963" stop-color="#eb0000"/><stop offset="1" stop-color="#eb0000"/></linearGradient><linearGradient id="g115" gradientUnits="userSpaceOnUse" x1="72" x2="650"><stop offset="0" stop-color="#00beeb"/><stop offset="0.279" stop-color="#02a9eb"/><stop offset="0.322" stop-color="#18a4eb"/><stop offset="0.369" stop-color="#409eeb"/><stop offset="0.412" stop-color="#7498eb"/><stop offset="0.45" stop-color="#af91eb"/><stop offset="0.481" stop-color="#eb8ae9"/><stop offset="0.509" stop-color="#eb68b6"/><stop offset="0.543" stop-color="#eb4989"/><stop offset="0.587" stop-color="#eb2f61"/><stop offset="0.644" stop-color="#eb193e"/><stop offset="0.721" stop-color="#eb0821"/><stop offset="0.82" stop-color="#eb000d"/><stop offset="0.964" stop-color="#eb0000"/><stop offset="1" stop-color="#eb0000"/></linearGradient><linearGradient id="g116" gradientUnits="userSpaceOnUse" x1="73" x2="655"><stop offset="0" stop-color="#00b8eb"/><stop offset="0.273" stop-color="#02a1eb"/><stop offset="0.318" stop-color="#199ceb"/><stop offset="0.364" stop-color="#4095eb"/><stop offset="0.407" stop-color="#738eeb"/><stop offset="0.447" stop-color="#b187eb"/><stop offset="0.476" stop-color="#ea81eb"/><stop offset="0.507" stop-color="#eb5eb4"/><stop offset="0.541" stop-color="#eb4287"/><stop offset="0.586" stop-color="#eb295f"/><stop offset="0.644" stop-color="#eb143d"/><stop offset="0.725" stop-color="#eb0520"/><stop offset="0.82" stop-color="#eb000d"/><stop offset="0.964" stop-color="#eb0000"/><stop offset="1" stop-color="#eb0000"/></linearGradient><linearGradient id="g117" gradientUnits="userSpaceOnUse" x1="74" x2="658"><stop offset="0" stop-color="#00b1eb"/><stop offset="0.269" stop-color="#0299eb"/><stop offset="0.313" stop-color="#1994eb"/><stop offset="0.361" stop-color="#418deb"/><stop offset="0.406" stop-color="#7585eb"/><stop offset="0.445" stop-color="#b27eeb"/><stop offset="0.474" stop-color="#ea77eb"/><stop offset="0.503" stop-color="#eb57b6"/><stop offset="0.538" stop-color="#eb3d8a"/><stop offset="0.582" stop-color="#eb2562"/><stop offset="0.64" stop-color="#eb123f"/><stop offset="0.719" stop-color="#eb0422"/><stop offset="0.82" stop-color="#eb000d"/><stop offset="0.966" stop-color="#eb0000"/><stop offset="1" stop-color="#eb0000"/></linearGradient><linearGradient id="g118" gradientUnits="userSpaceOnUse" x1="75" x2="663"><stop offset="0" stop-color="#00abeb"/><stop offset="0.264" stop-color="#0292eb"/><stop offset="0.308" stop-color="#188ceb"/><stop offset="0.355" stop-color="#3f85eb"/><stop offset="0.4" stop-color="#737deb"/><stop offset="0.439" stop-color="#ae75eb"/><stop offset="0.471" stop-color="#eb6dea"/><stop offset="0.498" stop-color="#eb51b9"/><stop offset="0.532" stop-color="#eb388d"/><stop offset="0.577" stop-color="#eb2264"/><stop offset="0.634" stop-color="#eb1041"/><stop offset="0.713" stop-color="#eb0323"/><stop offset="0.823" stop-color="#eb000d"/><stop offset="0.971" stop-color="#eb0000"/><stop offset="1" stop-color="#eb0000"/></linearGradient><linearGradient id="g119" gradientUnits="userSpaceOnUse" x1="76" x2="667"><stop offset="0" stop-color="#00a6eb"/><stop offset="0.259" stop-color="#028beb"/><stop offset="0.305" stop-color="#1985eb"/><stop offset="0.352" stop-color="#407deb"/><stop offset="0.396" stop-color="#7275eb"/><stop offset="0.437" stop-color="#af6ceb"/><stop offset="0.469" stop-color="#eb64e9"/><stop offset="0.497" stop-color="#eb48b7"/><stop offset="0.533" stop-color="#eb3089"/><stop offset="0.579" stop-color="#eb1c61"/><stop offset="0.638" stop-color="#eb0c3e"/><stop offset="0.719" stop-color="#eb0121"/><stop offset="0.834" stop-color="#eb000b"/><stop offset="0.981" stop-color="#eb0000"/><stop offset="1" stop-color="#eb0000"/></linearGradient><linearGradient id="g120" gradientUnits="userSpaceOnUse" x1="77" x2="671"><stop offset="0" stop-color="#00a0eb"/><stop offset="0.254" stop-color="#0285eb"/><stop offset="0.3" stop-color="#197eeb"/><stop offset="0.348" stop-color="#4075eb"/><stop offset="0.394" stop-color="#746deb"/><stop offset="0.434" stop-color="#b164eb"/><stop offset="0.466" stop-color="#eb5be9"/><stop offset="0.495" stop-color="#eb42b7"/><stop offset="0.53" stop-color="#eb2b8a"/><stop offset="0.576" stop-color="#eb1862"/><stop offset="0.636" stop-color="#eb093f"/><stop offset="0.719" stop-color="#eb0021"/><stop offset="0.835" stop-color="#eb000b"/><stop offset="0.983" stop-color="#eb0000"/><stop offset="1" stop-color="#eb0000"/></linearGradient><linearGradient id="g121" gradientUnits="userSpaceOnUse" x1="77" x2="675"><stop offset="0" stop-color="#009beb"/><stop offset="0.251" stop-color="#027eeb"/><stop offset="0.298" stop-color="#1977eb"/><stop offset="0.346" stop-color="#416eeb"/><stop offset="0.391" stop-color="#7465eb"/><stop offset="0.431" stop-color="#af5ceb"/><stop offset="0.463" stop-color="#ea54eb"/><stop offset="0.495" stop-color="#eb3ab4"/><stop offset="0.532" stop-color="#eb2587"/><stop offset="0.579" stop-color="#eb135f"/><stop offset="0.64" stop-color="#eb063d"/><stop offset="0.722" stop-color="#eb0021"/><stop offset="0.841" stop-color="#eb000b"/><stop offset="0.988" stop-color="#eb0000"/><stop offset="1" stop-color="#eb0000"/></linearGradient><linearGradient id="g122" gradientUnits="userSpaceOnUse" x1="78" x2="678"><stop offset="0" stop-color="#0095eb"/><stop offset="0.245" stop-color="#0278eb"/><stop offset="0.292" stop-color="#1871eb"/><stop offset="0.342" stop-color="#3f68eb"/><stop offset="0.388" stop-color="#735eeb"/><stop offset="0.43" stop-color="#b054eb"/><stop offset="0.462" stop-color="#ea4ceb"/><stop offset="0.492" stop-color="#eb35b7"/><stop offset="0.528" stop-color="#eb218a"/><stop offset="0.575" stop-color="#eb1161"/><stop offset="0.637" stop-color="#eb043e"/><stop offset="0.72" stop-color="#eb0021"/><stop offset="0.838" stop-color="#eb000b"/><stop offset="0.99" stop-color="#eb0000"/><stop offset="1" stop-color="#eb0000"/></linearGradient><linearGradient id="g123" gradientUnits="userSpaceOnUse" x1="79" x2="678"><stop offset="0" stop-color="#0090eb"/><stop offset="0.242" stop-color="#0272eb"/><stop offset="0.289" stop-color="#176beb"/><stop offset="0.339" stop-color="#3e62eb"/><stop offset="0.386" stop-color="#7158eb"/><stop offset="0.427" stop-color="#ac4eeb"/><stop offset="0.462" stop-color="#eb45ea"/><stop offset="0.492" stop-color="#eb2fb7"/><stop offset="0.529" stop-color="#eb1d8a"/><stop offset="0.576" stop-color="#eb0e62"/><stop offset="0.638" stop-color="#eb033f"/><stop offset="0.723" stop-color="#eb0022"/><stop offset="0.843" stop-color="#eb000b"/><stop offset="0.997" stop-color="#eb0000"/><stop offset="1" stop-color="#eb0000"/></linearGradient><linearGradient id="g124" gradientUnits="userSpaceOnUse" x1="80" x2="678"><stop offset="0" stop-color="#008beb"/><stop offset="0.239" stop-color="#026deb"/><stop offset="0.286" stop-color="#1765eb"/><stop offset="0.338" stop-color="#3e5beb"/><stop offset="0.386" stop-color="#7351eb"/><stop offset="0.43" stop-color="#b047eb"/><stop offset="0.463" stop-color="#eb3ee9"/><stop offset="0.493" stop-color="#eb2ab7"/><stop offset="0.53" stop-color="#eb198b"/><stop offset="0.579" stop-color="#eb0b62"/><stop offset="0.642" stop-color="#eb013f"/><stop offset="0.729" stop-color="#eb0021"/><stop offset="0.851" stop-color="#eb000b"/><stop offset="1" stop-color="#eb0000"/></linearGradient><linearGradient id="g125" gradientUnits="userSpaceOnUse" x1="81" x2="674"><stop offset="0" stop-color="#0086eb"/><stop offset="0.238" stop-color="#0267eb"/><stop offset="0.287" stop-color="#185feb"/><stop offset="0.339" stop-color="#3f55eb"/><stop offset="0.388" stop-color="#724beb"/><stop offset="0.432" stop-color="#af40eb"/><stop offset="0.467" stop-color="#eb37e9"/><stop offset="0.497" stop-color="#eb24b7"/><stop offset="0.536" stop-color="#eb148a"/><stop offset="0.585" stop-color="#eb0862"/><stop offset="0.649" stop-color="#eb003f"/><stop offset="0.737" stop-color="#eb0022"/><stop offset="0.862" stop-color="#eb000b"/><stop offset="1" stop-color="#eb0001"/></linearGradient><linearGradient id="g126" gradientUnits="userSpaceOnUse" x1="82" x2="665"><stop offset="0" stop-color="#0081eb"/><stop offset="0.238" stop-color="#0262eb"/><stop offset="0.288" stop-color="#175aeb"/><stop offset="0.343" stop-color="#3f50eb"/><stop offset="0.393" stop-color="#7245eb"/><stop offset="0.437" stop-color="#ae3beb"/><stop offset="0.473" stop-color="#ea31eb"/><stop offset="0.508" stop-color="#eb1fb5"/><stop offset="0.547" stop-color="#eb1189"/><stop offset="0.599" stop-color="#eb0560"/><stop offset="0.666" stop-color="#eb003e"/><stop offset="0.758" stop-color="#eb0021"/><stop offset="0.889" stop-color="#eb000b"/><stop offset="1" stop-color="#eb0002"/></linearGradient><linearGradient id="g127" gradientUnits="userSpaceOnUse" x1="83" x2="657"><stop offset="0" stop-color="#007ceb"/><stop offset="0.239" stop-color="#025deb"/><stop offset="0.291" stop-color="#1854eb"/><stop offset="0.347" stop-color="#3f4aeb"/><stop offset="0.399" stop-color="#743feb"/><stop offset="0.446" stop-color="#b134eb"/><stop offset="0.481" stop-color="#eb2beb"/><stop offset="0.514" stop-color="#eb1bb8"/><stop offset="0.554" stop-color="#eb0e8b"/><stop offset="0.606" stop-color="#eb0362"/><stop offset="0.674" stop-color="#eb003f"/><stop offset="0.767" stop-color="#eb0022"/><stop offset="0.897" stop-color="#eb000c"/><stop offset="1" stop-color="#eb0003"/></linearGradient><linearGradient id="g128" gradientUnits="userSpaceOnUse" x1="84" x2="648"><stop offset="0" stop-color="#0077eb"/><stop offset="0.239" stop-color="#0258eb"/><stop offset="0.293" stop-color="#1850eb"/><stop offset="0.349" stop-color="#3e45eb"/><stop offset="0.402" stop-color="#713aeb"/><stop offset="0.45" stop-color="#ae2feb"/><stop offset="0.489" stop-color="#eb26ea"/><stop offset="0.523" stop-color="#eb17b8"/><stop offset="0.566" stop-color="#eb0a8a"/><stop offset="0.619" stop-color="#eb0262"/><stop offset="0.69" stop-color="#eb003f"/><stop offset="0.785" stop-color="#eb0022"/><stop offset="0.922" stop-color="#eb000b"/><stop offset="1" stop-color="#eb0004"/></linearGradient><linearGradient id="g129" gradientUnits="userSpaceOnUse" x1="85" x2="639"><stop offset="0" stop-color="#0072eb"/><stop offset="0.24" stop-color="#0254eb"/><stop offset="0.296" stop-color="#184beb"/><stop offset="0.356" stop-color="#4040eb"/><stop offset="0.41" stop-color="#7335eb"/><stop offset="0.458" stop-color="#af2aeb"/><stop offset="0.498" stop-color="#eb20e9"/><stop offset="0.532" stop-color="#eb13b8"/><stop offset="0.576" stop-color="#eb088a"/><stop offset="0.632" stop-color="#eb0062"/><stop offset="0.704" stop-color="#eb003f"/><stop offset="0.803" stop-color="#eb0022"/><stop offset="0.944" stop-color="#eb000b"/><stop offset="1" stop-color="#eb0006"/></linearGradient><linearGradient id="g130" gradientUnits="userSpaceOnUse" x1="86" x2="631"><stop offset="0" stop-color="#006eeb"/><stop offset="0.24" stop-color="#024feb"/><stop offset="0.297" stop-color="#1846eb"/><stop offset="0.358" stop-color="#3f3beb"/><stop offset="0.415" stop-color="#7330eb"/><stop offset="0.466" stop-color="#b025eb"/><stop offset="0.506" stop-color="#eb1ce9"/><stop offset="0.543" stop-color="#eb0fb6"/><stop offset="0.589" stop-color="#eb0588"/><stop offset="0.648" stop-color="#eb005f"/><stop offset="0.725" stop-color="#eb003c"/><stop offset="0.829" stop-color="#eb0020"/><stop offset="0.978" stop-color="#eb000a"/><stop offset="1" stop-color="#eb0008"/></linearGradient><linearGradient id="g131" gradientUnits="userSpaceOnUse" x1="87" x2="622"><stop offset="0" stop-color="#006aeb"/><stop offset="0.241" stop-color="#024beb"/><stop offset="0.299" stop-color="#1842eb"/><stop offset="0.363" stop-color="#3f37eb"/><stop offset="0.421" stop-color="#722ceb"/><stop offset="0.473" stop-color="#af21eb"/><stop offset="0.514" stop-color="#ea18eb"/><stop offset="0.553" stop-color="#eb0bb6"/><stop offset="0.6" stop-color="#eb0388"/><stop offset="0.66" stop-color="#eb0060"/><stop offset="0.738" stop-color="#eb003d"/><stop offset="0.845" stop-color="#eb0021"/><stop offset="0.996" stop-color="#eb000b"/><stop offset="1" stop-color="#eb000a"/></linearGradient><linearGradient id="g132" gradientUnits="userSpaceOnUse" x1="88" x2="614"><stop offset="0" stop-color="#0065eb"/><stop offset="0.241" stop-color="#0247eb"/><stop offset="0.302" stop-color="#183deb"/><stop offset="0.367" stop-color="#4032eb"/><stop offset="0.428" stop-color="#7427eb"/><stop offset="0.481" stop-color="#b01ceb"/><stop offset="0.523" stop-color="#eb13ea"/><stop offset="0.561" stop-color="#eb09b8"/><stop offset="0.608" stop-color="#eb018a"/><stop offset="0.669" stop-color="#eb0062"/><stop offset="0.749" stop-color="#eb003f"/><stop offset="0.857" stop-color="#eb0022"/><stop offset="1" stop-color="#eb000d"/></linearGradient><linearGradient id="g133" gradientUnits="userSpaceOnUse" x1="89" x2="605"><stop offset="0" stop-color="#0061eb"/><stop offset="0.242" stop-color="#0243eb"/><stop offset="0.304" stop-color="#183aeb"/><stop offset="0.372" stop-color="#402eeb"/><stop offset="0.434" stop-color="#7323eb"/><stop offset="0.49" stop-color="#b118eb"/><stop offset="0.533" stop-color="#eb0fea"/><stop offset="0.572" stop-color="#eb06b8"/><stop offset="0.62" stop-color="#eb008b"/><stop offset="0.682" stop-color="#eb0063"/><stop offset="0.764" stop-color="#eb0040"/><stop offset="0.874" stop-color="#eb0022"/><stop offset="1" stop-color="#eb000f"/></linearGradient><linearGradient id="g134" gradientUnits="userSpaceOnUse" x1="90" x2="596"><stop offset="0" stop-color="#005deb"/><stop offset="0.243" stop-color="#023feb"/><stop offset="0.308" stop-color="#1836eb"/><stop offset="0.377" stop-color="#402aeb"/><stop offset="0.441" stop-color="#731feb"/><stop offset="0.498" stop-color="#b014eb"/><stop offset="0.543" stop-color="#eb0ce9"/><stop offset="0.583" stop-color="#eb04b8"/><stop offset="0.632" stop-color="#eb008b"/><stop offset="0.696" stop-color="#eb0063"/><stop offset="0.781" stop-color="#eb0040"/><stop offset="0.895" stop-color="#eb0022"/><stop offset="1" stop-color="#eb0012"/></linearGradient><linearGradient id="g135" gradientUnits="userSpaceOnUse" x1="91" x2="588"><stop offset="0" stop-color="#0059eb"/><stop offset="0.243" stop-color="#023ceb"/><stop offset="0.31" stop-color="#1832eb"/><stop offset="0.38" stop-color="#3f27eb"/><stop offset="0.447" stop-color="#731beb"/><stop offset="0.505" stop-color="#af11eb"/><stop offset="0.553" stop-color="#eb08e9"/><stop offset="0.596" stop-color="#eb01b6"/><stop offset="0.648" stop-color="#eb0089"/><stop offset="0.714" stop-color="#eb0061"/><stop offset="0.803" stop-color="#eb003e"/><stop offset="0.924" stop-color="#eb0021"/><stop offset="1" stop-color="#eb0015"/></linearGradient><linearGradient id="g136" gradientUnits="userSpaceOnUse" x1="92" x2="579"><stop offset="0" stop-color="#0055eb"/><stop offset="0.244" stop-color="#0238eb"/><stop offset="0.312" stop-color="#182eeb"/><stop offset="0.386" stop-color="#3f23eb"/><stop offset="0.454" stop-color="#7318eb"/><stop offset="0.515" stop-color="#b00deb"/><stop offset="0.563" stop-color="#ea06eb"/><stop offset="0.608" stop-color="#eb00b6"/><stop offset="0.661" stop-color="#eb008a"/><stop offset="0.731" stop-color="#eb0061"/><stop offset="0.821" stop-color="#eb003e"/><stop offset="0.945" stop-color="#eb0021"/><stop offset="1" stop-color="#eb0019"/></linearGradient><linearGradient id="g137" gradientUnits="userSpaceOnUse" x1="93" x2="571"><stop offset="0" stop-color="#0051eb"/><stop offset="0.245" stop-color="#0235eb"/><stop offset="0.316" stop-color="#182beb"/><stop offset="0.391" stop-color="#4020eb"/><stop offset="0.462" stop-color="#7414eb"/><stop offset="0.525" stop-color="#b10aeb"/><stop offset="0.573" stop-color="#eb03ea"/><stop offset="0.617" stop-color="#eb00b8"/><stop offset="0.672" stop-color="#eb008b"/><stop offset="0.743" stop-color="#eb0063"/><stop offset="0.835" stop-color="#eb0040"/><stop offset="0.96" stop-color="#eb0022"/><stop offset="1" stop-color="#eb001c"/></linearGradient><linearGradient id="g138" gradientUnits="userSpaceOnUse" x1="94" x2="562"><stop offset="0" stop-color="#004eeb"/><stop offset="0.246" stop-color="#0232eb"/><stop offset="0.318" stop-color="#1828eb"/><stop offset="0.397" stop-color="#401ceb"/><stop offset="0.47" stop-color="#7411eb"/><stop offset="0.536" stop-color="#b207eb"/><stop offset="0.585" stop-color="#eb01ea"/><stop offset="0.63" stop-color="#eb00b8"/><stop offset="0.688" stop-color="#eb008b"/><stop offset="0.761" stop-color="#eb0062"/><stop offset="0.857" stop-color="#eb003f"/><stop offset="0.987" stop-color="#eb0022"/><stop offset="1" stop-color="#eb0020"/></linearGradient><linearGradient id="g139" gradientUnits="userSpaceOnUse" x1="96" x2="553"><stop offset="0" stop-color="#004aeb"/><stop offset="0.245" stop-color="#022eeb"/><stop offset="0.322" stop-color="#1924eb"/><stop offset="0.403" stop-color="#4019eb"/><stop offset="0.477" stop-color="#730eeb"/><stop offset="0.545" stop-color="#b105eb"/><stop offset="0.597" stop-color="#eb00e9"/><stop offset="0.646" stop-color="#eb00b7"/><stop offset="0.705" stop-color="#eb008a"/><stop offset="0.781" stop-color="#eb0061"/><stop offset="0.882" stop-color="#eb003e"/><stop offset="1" stop-color="#eb0024"/></linearGradient><linearGradient id="g140" gradientUnits="userSpaceOnUse" x1="97" x2="545"><stop offset="0" stop-color="#0046eb"/><stop offset="0.246" stop-color="#022beb"/><stop offset="0.324" stop-color="#1822eb"/><stop offset="0.406" stop-color="#3f16eb"/><stop offset="0.484" stop-color="#730ceb"/><stop offset="0.554" stop-color="#b003eb"/><stop offset="0.609" stop-color="#eb00e9"/><stop offset="0.658" stop-color="#eb00b7"/><stop offset="0.721" stop-color="#eb0089"/><stop offset="0.799" stop-color="#eb0061"/><stop offset="0.902" stop-color="#eb003e"/><stop offset="1" stop-color="#eb0028"/></linearGradient><linearGradient id="g141" gradientUnits="userSpaceOnUse" x1="98" x2="536"><stop offset="0" stop-color="#0043eb"/><stop offset="0.247" stop-color="#0229eb"/><stop offset="0.326" stop-color="#181feb"/><stop offset="0.413" stop-color="#4014eb"/><stop offset="0.493" stop-color="#7309eb"/><stop offset="0.566" stop-color="#b101eb"/><stop offset="0.621" stop-color="#ea00eb"/><stop offset="0.674" stop-color="#eb00b7"/><stop offset="0.737" stop-color="#eb0089"/><stop offset="0.82" stop-color="#eb0061"/><stop offset="0.927" stop-color="#eb003e"/><stop offset="1" stop-color="#eb002d"/></linearGradient><linearGradient id="g142" gradientUnits="userSpaceOnUse" x1="99" x2="528"><stop offset="0" stop-color="#0040eb"/><stop offset="0.247" stop-color="#0226eb"/><stop offset="0.331" stop-color="#191ceb"/><stop offset="0.42" stop-color="#4011eb"/><stop offset="0.503" stop-color="#7407eb"/><stop offset="0.578" stop-color="#b200eb"/><stop offset="0.634" stop-color="#eb00ea"/><stop offset="0.685" stop-color="#eb00b9"/><stop offset="0.751" stop-color="#eb008b"/><stop offset="0.834" stop-color="#eb0062"/><stop offset="0.944" stop-color="#eb003f"/><stop offset="1" stop-color="#eb0032"/></linearGradient><linearGradient id="g143" gradientUnits="userSpaceOnUse" x1="101" x2="519"><stop offset="0" stop-color="#003ceb"/><stop offset="0.246" stop-color="#0223eb"/><stop offset="0.333" stop-color="#1819eb"/><stop offset="0.426" stop-color="#400eeb"/><stop offset="0.512" stop-color="#7405eb"/><stop offset="0.589" stop-color="#b100eb"/><stop offset="0.648" stop-color="#eb00ea"/><stop offset="0.703" stop-color="#eb00b7"/><stop offset="0.77" stop-color="#eb008a"/><stop offset="0.856" stop-color="#eb0062"/><stop offset="0.971" stop-color="#eb003f"/><stop offset="1" stop-color="#eb0038"/></linearGradient><linearGradient id="g144" gradientUnits="userSpaceOnUse" x1="102" x2="511"><stop offset="0" stop-color="#0039eb"/><stop offset="0.247" stop-color="#0221eb"/><stop offset="0.337" stop-color="#1917eb"/><stop offset="0.433" stop-color="#400ceb"/><stop offset="0.521" stop-color="#7403eb"/><stop offset="0.601" stop-color="#b200eb"/><stop offset="0.663" stop-color="#eb00e9"/><stop offset="0.719" stop-color="#eb00b7"/><stop offset="0.79" stop-color="#eb0089"/><stop offset="0.88" stop-color="#eb0061"/><stop offset="1" stop-color="#eb003e"/></linearGradient><linearGradient id="g145" gradientUnits="userSpaceOnUse" x1="103" x2="502"><stop offset="0" stop-color="#0036eb"/><stop offset="0.248" stop-color="#021eeb"/><stop offset="0.341" stop-color="#1914eb"/><stop offset="0.441" stop-color="#410aeb"/><stop offset="0.534" stop-color="#7501eb"/><stop offset="0.617" stop-color="#b300eb"/><stop offset="0.679" stop-color="#eb00e9"/><stop offset="0.737" stop-color="#eb00b7"/><stop offset="0.81" stop-color="#eb008a"/><stop offset="0.902" stop-color="#eb0062"/><stop offset="1" stop-color="#eb0044"/></linearGradient><linearGradient id="g146" gradientUnits="userSpaceOnUse" x1="104" x2="493"><stop offset="0" stop-color="#0033eb"/><stop offset="0.249" stop-color="#021ceb"/><stop offset="0.344" stop-color="#1812eb"/><stop offset="0.447" stop-color="#4008eb"/><stop offset="0.542" stop-color="#7300eb"/><stop offset="0.627" stop-color="#af00eb"/><stop offset="0.694" stop-color="#eb00eb"/><stop offset="0.756" stop-color="#eb00b7"/><stop offset="0.83" stop-color="#eb008a"/><stop offset="0.925" stop-color="#eb0062"/><stop offset="1" stop-color="#eb004c"/></linearGradient><linearGradient id="g147" gradientUnits="userSpaceOnUse" x1="106" x2="485"><stop offset="0" stop-color="#0030eb"/><stop offset="0.248" stop-color="#021aeb"/><stop offset="0.348" stop-color="#1910eb"/><stop offset="0.454" stop-color="#4006eb"/><stop offset="0.554" stop-color="#7400eb"/><stop offset="0.644" stop-color="#b200eb"/><stop offset="0.71" stop-color="#eb00ea"/><stop offset="0.773" stop-color="#eb00b7"/><stop offset="0.852" stop-color="#eb0089"/><stop offset="0.953" stop-color="#eb0061"/><stop offset="1" stop-color="#eb0053"/></linearGradient><linearGradient id="g148" gradientUnits="userSpaceOnUse" x1="107" x2="476"><stop offset="0" stop-color="#002deb"/><stop offset="0.249" stop-color="#0217eb"/><stop offset="0.352" stop-color="#180eeb"/><stop offset="0.463" stop-color="#4005eb"/><stop offset="0.566" stop-color="#7400eb"/><stop offset="0.659" stop-color="#b100eb"/><stop offset="0.729" stop-color="#eb00ea"/><stop offset="0.794" stop-color="#eb00b7"/><stop offset="0.875" stop-color="#eb008a"/><stop offset="0.978" stop-color="#eb0062"/><stop offset="1" stop-color="#eb005b"/></linearGradient><linearGradient id="g149" gradientUnits="userSpaceOnUse" x1="108" x2="468"><stop offset="0" stop-color="#002aeb"/><stop offset="0.25" stop-color="#0215eb"/><stop offset="0.358" stop-color="#190ceb"/><stop offset="0.472" stop-color="#4103eb"/><stop offset="0.578" stop-color="#7400eb"/><stop offset="0.672" stop-color="#b000eb"/><stop offset="0.747" stop-color="#eb00e9"/><stop offset="0.814" stop-color="#eb00b7"/><stop offset="0.897" stop-color="#eb008a"/><stop offset="1" stop-color="#eb0063"/></linearGradient><linearGradient id="g150" gradientUnits="userSpaceOnUse" x1="110" x2="459"><stop offset="0" stop-color="#0027eb"/><stop offset="0.249" stop-color="#0213eb"/><stop offset="0.361" stop-color="#190aeb"/><stop offset="0.481" stop-color="#4102eb"/><stop offset="0.593" stop-color="#7500eb"/><stop offset="0.693" stop-color="#b300eb"/><stop offset="0.768" stop-color="#eb00e9"/><stop offset="0.84" stop-color="#eb00b6"/><stop offset="0.928" stop-color="#eb0088"/><stop offset="1" stop-color="#eb006d"/></linearGradient><linearGradient id="g151" gradientUnits="userSpaceOnUse" x1="111" x2="450"><stop offset="0" stop-color="#0025eb"/><stop offset="0.251" stop-color="#0212eb"/><stop offset="0.369" stop-color="#1909eb"/><stop offset="0.493" stop-color="#4101eb"/><stop offset="0.608" stop-color="#7500eb"/><stop offset="0.711" stop-color="#b200eb"/><stop offset="0.788" stop-color="#eb00eb"/><stop offset="0.861" stop-color="#eb00b8"/><stop offset="0.953" stop-color="#eb008a"/><stop offset="1" stop-color="#eb0078"/></linearGradient><linearGradient id="g152" gradientUnits="userSpaceOnUse" x1="113" x2="442"><stop offset="0" stop-color="#0022eb"/><stop offset="0.249" stop-color="#0210eb"/><stop offset="0.371" stop-color="#1907eb"/><stop offset="0.502" stop-color="#4100eb"/><stop offset="0.62" stop-color="#7500eb"/><stop offset="0.726" stop-color="#b100eb"/><stop offset="0.809" stop-color="#eb00ea"/><stop offset="0.884" stop-color="#eb00b8"/><stop offset="0.979" stop-color="#eb008a"/><stop offset="1" stop-color="#eb0082"/></linearGradient><linearGradient id="g153" gradientUnits="userSpaceOnUse" x1="115" x2="433"><stop offset="0" stop-color="#001feb"/><stop offset="0.248" stop-color="#020eeb"/><stop offset="0.374" stop-color="#1906eb"/><stop offset="0.509" stop-color="#4000eb"/><stop offset="0.635" stop-color="#7400eb"/><stop offset="0.748" stop-color="#b200eb"/><stop offset="0.833" stop-color="#eb00ea"/><stop offset="0.912" stop-color="#eb00b8"/><stop offset="1" stop-color="#eb008e"/></linearGradient><linearGradient id="g154" gradientUnits="userSpaceOnUse" x1="116" x2="425"><stop offset="0" stop-color="#001deb"/><stop offset="0.249" stop-color="#020ceb"/><stop offset="0.382" stop-color="#1904eb"/><stop offset="0.521" stop-color="#4100eb"/><stop offset="0.65" stop-color="#7400eb"/><stop offset="0.767" stop-color="#b100eb"/><stop offset="0.858" stop-color="#eb00e9"/><stop offset="0.942" stop-color="#eb00b6"/><stop offset="1" stop-color="#eb009b"/></linearGradient><linearGradient id="g155" gradientUnits="userSpaceOnUse" x1="117" x2="416"><stop offset="0" stop-color="#001aeb"/><stop offset="0.251" stop-color="#020beb"/><stop offset="0.388" stop-color="#1903eb"/><stop offset="0.535" stop-color="#4100eb"/><stop offset="0.672" stop-color="#7500eb"/><stop offset="0.793" stop-color="#b200eb"/><stop offset="0.886" stop-color="#eb00e9"/><stop offset="0.973" stop-color="#eb00b6"/><stop offset="1" stop-color="#eb00a9"/></linearGradient><linearGradient id="g156" gradientUnits="userSpaceOnUse" x1="119" x2="408"><stop offset="0" stop-color="#0018eb"/><stop offset="0.249" stop-color="#0209eb"/><stop offset="0.394" stop-color="#1902eb"/><stop offset="0.547" stop-color="#4100eb"/><stop offset="0.689" stop-color="#7500eb"/><stop offset="0.817" stop-color="#b300eb"/><stop offset="0.91" stop-color="#eb00ea"/><stop offset="1" stop-color="#eb00b8"/></linearGradient><linearGradient id="g157" gradientUnits="userSpaceOnUse" x1="120" x2="399"><stop offset="0" stop-color="#0016eb"/><stop offset="0.251" stop-color="#0208eb"/><stop offset="0.401" stop-color="#1901eb"/><stop offset="0.563" stop-color="#4100eb"/><stop offset="0.71" stop-color="#7500eb"/><stop offset="0.842" stop-color="#b200eb"/><stop offset="0.943" stop-color="#eb00ea"/><stop offset="1" stop-color="#eb00c9"/></linearGradient><linearGradient id="g158" gradientUnits="userSpaceOnUse" x1="122" x2="390"><stop offset="0" stop-color="#0014eb"/><stop offset="0.25" stop-color="#0207eb"/><stop offset="0.407" stop-color="#1900eb"/><stop offset="0.575" stop-color="#4000eb"/><stop offset="0.731" stop-color="#7500eb"/><stop offset="0.873" stop-color="#b300eb"/><stop offset="0.978" stop-color="#eb00ea"/><stop offset="1" stop-color="#eb00dd"/></linearGradient><linearGradient id="g159" gradientUnits="userSpaceOnUse" x1="124" x2="382"><stop offset="0" stop-color="#0011eb"/><stop offset="0.248" stop-color="#0206eb"/><stop offset="0.415" stop-color="#1900eb"/><stop offset="0.593" stop-color="#4200eb"/><stop offset="0.756" stop-color="#7600eb"/><stop offset="0.903" stop-color="#b400eb"/><stop offset="1" stop-color="#e600eb"/></linearGradient><linearGradient id="g160" gradientUnits="userSpaceOnUse" x1="126" x2="373"><stop offset="0" stop-color="#000feb"/><stop offset="0.247" stop-color="#0204eb"/><stop offset="0.421" stop-color="#1900eb"/><stop offset="0.607" stop-color="#4100eb"/><stop offset="0.781" stop-color="#7500eb"/><stop offset="0.935" stop-color="#b300eb"/><stop offset="1" stop-color="#d100eb"/></linearGradient><linearGradient id="g161" gradientUnits="userSpaceOnUse" x1="128" x2="365"><stop offset="0" stop-color="#000deb"/><stop offset="0.245" stop-color="#0203eb"/><stop offset="0.43" stop-color="#1900eb"/><stop offset="0.624" stop-color="#4100eb"/><stop offset="0.806" stop-color="#7500eb"/><stop offset="0.97" stop-color="#b300eb"/><stop offset="1" stop-color="#c000eb"/></linearGradient><linearGradient id="g162" gradientUnits="userSpaceOnUse" x1="129" x2="356"><stop offset="0" stop-color="#000ceb"/><stop offset="0.247" stop-color="#0202eb"/><stop offset="0.441" stop-color="#1900eb"/><stop offset="0.648" stop-color="#4100eb"/><stop offset="0.837" stop-color="#7500eb"/><stop offset="1" stop-color="#af00eb"/></linearGradient><linearGradient id="g163" gradientUnits="userSpaceOnUse" x1="130" x2="347"><stop offset="0" stop-color="#000aeb"/><stop offset="0.249" stop-color="#0202eb"/><stop offset="0.452" stop-color="#1900eb"/><stop offset="0.668" stop-color="#4100eb"/><stop offset="0.871" stop-color="#7500eb"/><stop offset="1" stop-color="#9f00eb"/></linearGradient><linearGradient id="g164" gradientUnits="userSpaceOnUse" x1="132" x2="339"><stop offset="0" stop-color="#0008eb"/><stop offset="0.251" stop-color="#0201eb"/><stop offset="0.469" stop-color="#1a00eb"/><stop offset="0.7" stop-color="#4300eb"/><stop offset="0.913" stop-color="#7700eb"/><stop offset="1" stop-color="#9100eb"/></linearGradient><linearGradient id="g165" gradientUnits="userSpaceOnUse" x1="134" x2="330"><stop offset="0" stop-color="#0007eb"/><stop offset="0.25" stop-color="#0200eb"/><stop offset="0.485" stop-color="#1a00eb"/><stop offset="0.73" stop-color="#4300eb"/><stop offset="0.954" stop-color="#7700eb"/><stop offset="1" stop-color="#8400eb"/></linearGradient><linearGradient id="g166" gradientUnits="userSpaceOnUse" x1="136" x2="322"><stop offset="0" stop-color="#0005eb"/><stop offset="0.247" stop-color="#0300eb"/><stop offset="0.495" stop-color="#1a00eb"/><stop offset="0.753" stop-color="#4200eb"/><stop offset="0.995" stop-color="#7700eb"/><stop offset="1" stop-color="#7800eb"/></linearGradient><linearGradient id="g167" gradientUnits="userSpaceOnUse" x1="138" x2="313"><stop offset="0" stop-color="#0004eb"/><stop offset="0.246" stop-color="#0300eb"/><stop offset="0.509" stop-color="#1a00eb"/><stop offset="0.789" stop-color="#4200eb"/><stop offset="1" stop-color="#6c00eb"/></linearGradient><linearGradient id="g168" gradientUnits="userSpaceOnUse" x1="140" x2="304"><stop offset="0" stop-color="#0002eb"/><stop offset="0.244" stop-color="#0300eb"/><stop offset="0.53" stop-color="#1a00eb"/><stop offset="0.829" stop-color="#4300eb"/><stop offset="1" stop-color="#6100eb"/></linearGradient><linearGradient id="g169" gradientUnits="userSpaceOnUse" x1="143" x2="296"><stop offset="0" stop-color="#0001eb"/><stop offset="0.242" stop-color="#0300eb"/><stop offset="0.556" stop-color="#1b00eb"/><stop offset="0.882" stop-color="#4500eb"/><stop offset="1" stop-color="#5800eb"/></linearGradient><linearGradient id="g170" gradientUnits="userSpaceOnUse" x1="145" x2="287"><stop offset="0" stop-color="#0000eb"/><stop offset="0.246" stop-color="#0300eb"/><stop offset="0.585" stop-color="#1c00eb"/><stop offset="0.937" stop-color="#4500eb"/><stop offset="1" stop-color="#4e00eb"/></linearGradient><linearGradient id="g171" gradientUnits="userSpaceOnUse" x1="147" x2="279"><stop offset="0" stop-color="#0000eb"/><stop offset="0.242" stop-color="#0300eb"/><stop offset="0.614" stop-color="#1c00eb"/><stop offset="0.992" stop-color="#4500eb"/><stop offset="1" stop-color="#4600eb"/></linearGradient><linearGradient id="g172" gradientUnits="userSpaceOnUse" x1="150" x2="270"><stop offset="0" stop-color="#0000eb"/><stop offset="0.25" stop-color="#0400eb"/><stop offset="0.658" stop-color="#1d00eb"/><stop offset="1" stop-color="#3e00eb"/></linearGradient><linearGradient id="g173" gradientUnits="userSpaceOnUse" x1="153" x2="262"><stop offset="0" stop-color="#0000eb"/><stop offset="0.275" stop-color="#0500eb"/><stop offset="0.743" stop-color="#2100eb"/><stop offset="1" stop-color="#3700eb"/></linearGradient><linearGradient id="g174" gradientUnits="userSpaceOnUse" x1="156" x2="253"><stop offset="0" stop-color="#0000eb"/><stop offset="0.33" stop-color="#0800eb"/><stop offset="0.866" stop-color="#2600eb"/><stop offset="1" stop-color="#3000eb"/></linearGradient><linearGradient id="g175" gradientUnits="userSpaceOnUse" x1="159" x2="244"><stop offset="0" stop-color="#0000eb"/><stop offset="0.459" stop-color="#0d00eb"/><stop offset="1" stop-color="#2900eb"/></linearGradient><linearGradient id="g176" gradientUnits="userSpaceOnUse" x1="163" x2="236"><stop offset="0" stop-color="#0000eb"/><stop offset="0.63" stop-color="#1300eb"/><stop offset="1" stop-color="#2400eb"/></linearGradient><linearGradient id="g177" gradientUnits="userSpaceOnUse" x1="167" x2="227"><stop offset="0" stop-color="#0100eb"/><stop offset="0.817" stop-color="#1700eb"/><stop offset="1" stop-color="#1e00eb"/></linearGradient><linearGradient id="g178" gradientUnits="userSpaceOnUse" x1="171" x2="219"><stop offset="0" stop-color="#0300eb"/><stop offset="1" stop-color="#1900eb"/></linearGradient><linearGradient id="g179" gradientUnits="userSpaceOnUse" x1="176" x2="210"><stop offset="0" stop-color="#0500eb"/><stop offset="1" stop-color="#1400eb"/></linearGradient><linearGradient id="g180" gradientUnits="userSpaceOnUse" x1="180" x2="201"><stop offset="0" stop-color="#0700eb"/><stop offset="1" stop-color="#1000eb"/></linearGradient><clipPath id="hs"><path d="M190.6,760.0 190.5,760.0 190.5,760.0 190.4,760.0 190.4,760.1 190.3,760.1 190.2,760.0 190.1,760.0 190.0,760.1 190.0,760.1 189.9,760.2 189.8,760.2 189.7,760.2 189.5,760.2 189.4,760.2 189.2,760.2 189.1,760.2 188.9,760.2 188.7,760.1 188.5,760.0 188.2,759.9 187.9,759.7 187.5,759.5 187.1,759.2 186.6,758.8 186.1,758.4 185.4,757.8 184.7,757.3 184.0,756.6 183.1,755.8 182.2,754.9 181.2,754.0 180.0,753.0 178.7,751.8 177.2,750.5 175.5,749.1 173.7,747.5 171.7,745.7 169.5,743.7 167.1,741.4 164.6,738.7 161.9,735.7 158.9,732.1 155.6,727.5 151.8,721.7 147.5,714.5 142.8,705.9 137.7,695.5 132.1,682.9 126.0,667.8 119.2,650.0 111.8,629.2 103.9,604.9 95.7,577.0 87.7,545.4 79.7,510.2 71.8,471.5 64.3,430.2 57.6,387.3 52.0,343.8 47.6,300.6 44.8,258.6 43.7,219.1 44.6,182.1 47.5,148.2 52.5,118.2 59.8,92.8 68.9,72.7 79.6,58.6 91.7,49.9 104.6,46.1 118.1,46.6 131.9,50.1 146.0,55.6 160.1,62.5 173.9,70.2 187.2,78.3 200.3,86.7 213.1,95.6 225.8,104.9 238.4,114.6 250.9,124.7 263.3,135.1 275.7,145.8 288.0,156.8 300.4,168.0 312.7,179.4 325.0,191.0 337.3,202.7 349.6,214.5 362.0,226.5 374.2,238.4 386.5,250.5 398.8,262.5 410.9,274.5 423.1,286.5 435.1,298.5 447.0,310.4 458.9,322.1 470.5,333.7 482.0,345.2 493.3,356.5 504.4,367.5 515.2,378.2 525.7,388.7 536.0,398.9 545.9,408.8 555.4,418.3 564.3,427.2 572.7,435.5 580.7,443.5 588.3,451.1 595.5,458.3 602.2,464.9 608.3,471.0 614.0,476.6 619.3,481.8 624.1,486.6 628.5,491.1 632.5,495.1 636.2,498.7 639.5,502.1 642.6,505.1 645.4,507.9 648.0,510.4 650.3,512.8 652.6,515.0 654.6,517.1 656.5,519.0 658.3,520.7 659.9,522.3 661.4,523.8 662.7,525.1 663.9,526.3 665.0,527.4 665.9,528.3 666.7,529.1 667.5,529.9 668.2,530.6 668.8,531.2 669.3,531.7 669.8,532.2 670.1,532.5 670.5,532.9 670.8,533.2 671.1,533.5 671.3,533.7 671.6,534.0 671.8,534.2 672.1,534.5 672.3,534.7 672.5,534.9 672.7,535.1 672.9,535.3 673.0,535.4 673.1,535.5 673.2,535.6 673.3,535.7 673.3,535.7 673.4,535.8 673.4,535.8Z"/></clipPath><filter id="bl" x="0" y="0" width="1" height="1"><feGaussianBlur stdDeviation="0.5 1.8"/></filter></defs><rect x="0" y="0" width="805" height="804" fill="#000"/><path d="M0 0.5H805M0.5 0V804" stroke="#6e6e6e" stroke-width="1"/><path d="M0 803.5H804" stroke="#555" stroke-width="1"/><path d="M804.5 0V804" stroke="#8a8a8a" stroke-width="1"/><g clip-path="url(#hs)"><g filter="url(#bl)"><rect x="91" y="41" width="38" height="5" fill="url(#g0)"/><rect x="83" y="45" width="60" height="5" fill="url(#g1)"/><rect x="77" y="49" width="76" height="5" fill="url(#g2)"/><rect x="73" y="53" width="88" height="5" fill="url(#g3)"/><rect x="70" y="57" width="98" height="5" fill="url(#g4)"/><rect x="67" y="61" width="108" height="5" fill="url(#g5)"/><rect x="64" y="65" width="117" height="5" fill="url(#g6)"/><rect x="62" y="69" width="126" height="5" fill="url(#g7)"/><rect x="61" y="73" width="134" height="5" fill="url(#g8)"/><rect x="59" y="77" width="142" height="5" fill="url(#g9)"/><rect x="57" y="81" width="150" height="5" fill="url(#g10)"/><rect x="55" y="85" width="158" height="5" fill="url(#g11)"/><rect x="54" y="89" width="165" height="5" fill="url(#g12)"/><rect x="52" y="93" width="172" height="5" fill="url(#g13)"/><rect x="51" y="97" width="179" height="5" fill="url(#g14)"/><rect x="50" y="101" width="186" height="5" fill="url(#g15)"/><rect x="49" y="105" width="192" height="5" fill="url(#g16)"/><rect x="48" y="109" width="197" height="5" fill="url(#g17)"/><rect x="48" y="113" width="202" height="5" fill="url(#g18)"/><rect x="47" y="117" width="208" height="5" fill="url(#g19)"/><rect x="46" y="121" width="215" height="5" fill="url(#g20)"/><rect x="45" y="125" width="220" height="5" fill="url(#g21)"/><rect x="45" y="129" width="224" height="5" fill="url(#g22)"/><rect x="44" y="133" width="230" height="5" fill="url(#g23)"/><rect x="44" y="137" width="235" height="5" fill="url(#g24)"/><rect x="43" y="141" width="240" height="5" fill="url(#g25)"/><rect x="43" y="145" width="244" height="5" fill="url(#g26)"/><rect x="42" y="149" width="251" height="5" fill="url(#g27)"/><rect x="42" y="153" width="255" height="5" fill="url(#g28)"/><rect x="41" y="157" width="260" height="5" fill="url(#g29)"/><rect x="41" y="161" width="264" height="5" fill="url(#g30)"/><rect x="41" y="165" width="269" height="5" fill="url(#g31)"/><rect x="40" y="169" width="274" height="5" fill="url(#g32)"/><rect x="40" y="173" width="278" height="5" fill="url(#g33)"/><rect x="40" y="177" width="282" height="5" fill="url(#g34)"/><rect x="40" y="181" width="287" height="5" fill="url(#g35)"/><rect x="39" y="185" width="293" height="5" fill="url(#g36)"/><rect x="39" y="189" width="297" height="5" fill="url(#g37)"/><rect x="39" y="193" width="301" height="5" fill="url(#g38)"/><rect x="39" y="197" width="305" height="5" fill="url(#g39)"/><rect x="39" y="201" width="309" height="5" fill="url(#g40)"/><rect x="39" y="205" width="313" height="5" fill="url(#g41)"/><rect x="39" y="209" width="317" height="5" fill="url(#g42)"/><rect x="39" y="213" width="321" height="5" fill="url(#g43)"/><rect x="39" y="217" width="325" height="5" fill="url(#g44)"/><rect x="39" y="221" width="329" height="5" fill="url(#g45)"/><rect x="39" y="225" width="334" height="5" fill="url(#g46)"/><rect x="39" y="229" width="338" height="5" fill="url(#g47)"/><rect x="40" y="233" width="341" height="5" fill="url(#g48)"/><rect x="40" y="237" width="345" height="5" fill="url(#g49)"/><rect x="40" y="241" width="349" height="5" fill="url(#g50)"/><rect x="40" y="245" width="353" height="5" fill="url(#g51)"/><rect x="40" y="249" width="357" height="5" fill="url(#g52)"/><rect x="40" y="253" width="361" height="5" fill="url(#g53)"/><rect x="40" y="257" width="365" height="5" fill="url(#g54)"/><rect x="40" y="261" width="369" height="5" fill="url(#g55)"/><rect x="40" y="265" width="373" height="5" fill="url(#g56)"/><rect x="41" y="269" width="376" height="5" fill="url(#g57)"/><rect x="41" y="273" width="381" height="5" fill="url(#g58)"/><rect x="41" y="277" width="385" height="5" fill="url(#g59)"/><rect x="42" y="281" width="388" height="5" fill="url(#g60)"/><rect x="42" y="285" width="392" height="5" fill="url(#g61)"/><rect x="42" y="289" width="396" height="5" fill="url(#g62)"/><rect x="42" y="293" width="400" height="5" fill="url(#g63)"/><rect x="43" y="297" width="403" height="5" fill="url(#g64)"/><rect x="43" y="301" width="407" height="5" fill="url(#g65)"/><rect x="43" y="305" width="411" height="5" fill="url(#g66)"/><rect x="43" y="309" width="414" height="5" fill="url(#g67)"/><rect x="44" y="313" width="417" height="5" fill="url(#g68)"/><rect x="44" y="317" width="421" height="5" fill="url(#g69)"/><rect x="45" y="321" width="425" height="5" fill="url(#g70)"/><rect x="45" y="325" width="429" height="5" fill="url(#g71)"/><rect x="45" y="329" width="433" height="5" fill="url(#g72)"/><rect x="46" y="333" width="436" height="5" fill="url(#g73)"/><rect x="46" y="337" width="440" height="5" fill="url(#g74)"/><rect x="46" y="341" width="444" height="5" fill="url(#g75)"/><rect x="47" y="345" width="447" height="5" fill="url(#g76)"/><rect x="47" y="349" width="451" height="5" fill="url(#g77)"/><rect x="48" y="353" width="454" height="5" fill="url(#g78)"/><rect x="48" y="357" width="458" height="5" fill="url(#g79)"/><rect x="49" y="361" width="461" height="5" fill="url(#g80)"/><rect x="49" y="365" width="465" height="5" fill="url(#g81)"/><rect x="50" y="369" width="468" height="5" fill="url(#g82)"/><rect x="51" y="373" width="471" height="5" fill="url(#g83)"/><rect x="51" y="377" width="475" height="5" fill="url(#g84)"/><rect x="52" y="381" width="478" height="5" fill="url(#g85)"/><rect x="52" y="385" width="482" height="5" fill="url(#g86)"/><rect x="53" y="389" width="485" height="5" fill="url(#g87)"/><rect x="53" y="393" width="489" height="5" fill="url(#g88)"/><rect x="54" y="397" width="492" height="5" fill="url(#g89)"/><rect x="54" y="401" width="496" height="5" fill="url(#g90)"/><rect x="55" y="405" width="499" height="5" fill="url(#g91)"/><rect x="56" y="409" width="502" height="5" fill="url(#g92)"/><rect x="56" y="413" width="506" height="5" fill="url(#g93)"/><rect x="57" y="417" width="509" height="5" fill="url(#g94)"/><rect x="58" y="421" width="512" height="5" fill="url(#g95)"/><rect x="58" y="425" width="516" height="5" fill="url(#g96)"/><rect x="59" y="429" width="519" height="5" fill="url(#g97)"/><rect x="60" y="433" width="522" height="5" fill="url(#g98)"/><rect x="60" y="437" width="526" height="5" fill="url(#g99)"/><rect x="61" y="441" width="529" height="5" fill="url(#g100)"/><rect x="62" y="445" width="532" height="5" fill="url(#g101)"/><rect x="62" y="449" width="536" height="5" fill="url(#g102)"/><rect x="63" y="453" width="539" height="5" fill="url(#g103)"/><rect x="63" y="457" width="544" height="5" fill="url(#g104)"/><rect x="64" y="461" width="547" height="5" fill="url(#g105)"/><rect x="65" y="465" width="550" height="5" fill="url(#g106)"/><rect x="66" y="469" width="553" height="5" fill="url(#g107)"/><rect x="67" y="473" width="555" height="5" fill="url(#g108)"/><rect x="67" y="477" width="559" height="5" fill="url(#g109)"/><rect x="68" y="481" width="563" height="5" fill="url(#g110)"/><rect x="69" y="485" width="565" height="5" fill="url(#g111)"/><rect x="70" y="489" width="569" height="5" fill="url(#g112)"/><rect x="71" y="493" width="571" height="5" fill="url(#g113)"/><rect x="71" y="497" width="575" height="5" fill="url(#g114)"/><rect x="72" y="501" width="578" height="5" fill="url(#g115)"/><rect x="73" y="505" width="582" height="5" fill="url(#g116)"/><rect x="74" y="509" width="584" height="5" fill="url(#g117)"/><rect x="75" y="513" width="588" height="5" fill="url(#g118)"/><rect x="76" y="517" width="591" height="5" fill="url(#g119)"/><rect x="77" y="521" width="594" height="5" fill="url(#g120)"/><rect x="77" y="525" width="598" height="5" fill="url(#g121)"/><rect x="78" y="529" width="600" height="5" fill="url(#g122)"/><rect x="79" y="533" width="599" height="5" fill="url(#g123)"/><rect x="80" y="537" width="598" height="5" fill="url(#g124)"/><rect x="81" y="541" width="593" height="5" fill="url(#g125)"/><rect x="82" y="545" width="583" height="5" fill="url(#g126)"/><rect x="83" y="549" width="574" height="5" fill="url(#g127)"/><rect x="84" y="553" width="564" height="5" fill="url(#g128)"/><rect x="85" y="557" width="554" height="5" fill="url(#g129)"/><rect x="86" y="561" width="545" height="5" fill="url(#g130)"/><rect x="87" y="565" width="535" height="5" fill="url(#g131)"/><rect x="88" y="569" width="526" height="5" fill="url(#g132)"/><rect x="89" y="573" width="516" height="5" fill="url(#g133)"/><rect x="90" y="577" width="506" height="5" fill="url(#g134)"/><rect x="91" y="581" width="497" height="5" fill="url(#g135)"/><rect x="92" y="585" width="487" height="5" fill="url(#g136)"/><rect x="93" y="589" width="478" height="5" fill="url(#g137)"/><rect x="94" y="593" width="468" height="5" fill="url(#g138)"/><rect x="96" y="597" width="457" height="5" fill="url(#g139)"/><rect x="97" y="601" width="448" height="5" fill="url(#g140)"/><rect x="98" y="605" width="438" height="5" fill="url(#g141)"/><rect x="99" y="609" width="429" height="5" fill="url(#g142)"/><rect x="101" y="613" width="418" height="5" fill="url(#g143)"/><rect x="102" y="617" width="409" height="5" fill="url(#g144)"/><rect x="103" y="621" width="399" height="5" fill="url(#g145)"/><rect x="104" y="625" width="389" height="5" fill="url(#g146)"/><rect x="106" y="629" width="379" height="5" fill="url(#g147)"/><rect x="107" y="633" width="369" height="5" fill="url(#g148)"/><rect x="108" y="637" width="360" height="5" fill="url(#g149)"/><rect x="110" y="641" width="349" height="5" fill="url(#g150)"/><rect x="111" y="645" width="339" height="5" fill="url(#g151)"/><rect x="113" y="649" width="329" height="5" fill="url(#g152)"/><rect x="115" y="653" width="318" height="5" fill="url(#g153)"/><rect x="116" y="657" width="309" height="5" fill="url(#g154)"/><rect x="117" y="661" width="299" height="5" fill="url(#g155)"/><rect x="119" y="665" width="289" height="5" fill="url(#g156)"/><rect x="120" y="669" width="279" height="5" fill="url(#g157)"/><rect x="122" y="673" width="268" height="5" fill="url(#g158)"/><rect x="124" y="677" width="258" height="5" fill="url(#g159)"/><rect x="126" y="681" width="247" height="5" fill="url(#g160)"/><rect x="128" y="685" width="237" height="5" fill="url(#g161)"/><rect x="129" y="689" width="227" height="5" fill="url(#g162)"/><rect x="130" y="693" width="217" height="5" fill="url(#g163)"/><rect x="132" y="697" width="207" height="5" fill="url(#g164)"/><rect x="134" y="701" width="196" height="5" fill="url(#g165)"/><rect x="136" y="705" width="186" height="5" fill="url(#g166)"/><rect x="138" y="709" width="175" height="5" fill="url(#g167)"/><rect x="140" y="713" width="164" height="5" fill="url(#g168)"/><rect x="143" y="717" width="153" height="5" fill="url(#g169)"/><rect x="145" y="721" width="142" height="5" fill="url(#g170)"/><rect x="147" y="725" width="132" height="5" fill="url(#g171)"/><rect x="150" y="729" width="120" height="5" fill="url(#g172)"/><rect x="153" y="733" width="109" height="5" fill="url(#g173)"/><rect x="156" y="737" width="97" height="5" fill="url(#g174)"/><rect x="159" y="741" width="85" height="5" fill="url(#g175)"/><rect x="163" y="745" width="73" height="5" fill="url(#g176)"/><rect x="167" y="749" width="60" height="5" fill="url(#g177)"/><rect x="171" y="753" width="48" height="5" fill="url(#g178)"/><rect x="176" y="757" width="34" height="5" fill="url(#g179)"/><rect x="180" y="761" width="21" height="4" fill="url(#g180)"/></g></g><path d="M40.6 42V764.3M40.6 764.3H765M126.7 42V764.3M40.6 678.2H765M212.9 42V764.3M40.6 592.0H765M299.0 42V764.3M40.6 505.9H765M385.1 42V764.3M40.6 419.8H765M471.2 42V764.3M40.6 333.6H765M557.4 42V764.3M40.6 247.5H765M643.5 42V764.3M40.6 161.4H765M729.6 42V764.3M40.6 75.3H765" stroke="#555" stroke-opacity="0.8" stroke-width="1.2" stroke-dasharray="2.4 2.3" fill="none"/><g fill="#969696" stroke="#000" stroke-width="0.6" paint-order="fill" style="font:26.4px 'Liberation Sans', Arial, sans-serif"><text x="39.8" y="772.2" text-anchor="end" textLength="31.5" lengthAdjust="spacingAndGlyphs">0.0</text><text x="40.0" y="788.4" text-anchor="middle" textLength="31.3" lengthAdjust="spacingAndGlyphs">0.0</text><text x="39.8" y="686.1" text-anchor="end" textLength="31.5" lengthAdjust="spacingAndGlyphs">0.1</text><text x="126.1" y="788.4" text-anchor="middle" textLength="31.3" lengthAdjust="spacingAndGlyphs">0.1</text><text x="39.8" y="599.9" text-anchor="end" textLength="31.5" lengthAdjust="spacingAndGlyphs">0.2</text><text x="212.3" y="788.4" text-anchor="middle" textLength="31.3" lengthAdjust="spacingAndGlyphs">0.2</text><text x="39.8" y="513.8" text-anchor="end" textLength="31.5" lengthAdjust="spacingAndGlyphs">0.3</text><text x="298.4" y="788.4" text-anchor="middle" textLength="31.3" lengthAdjust="spacingAndGlyphs">0.3</text><text x="39.8" y="427.7" text-anchor="end" textLength="31.5" lengthAdjust="spacingAndGlyphs">0.4</text><text x="384.5" y="788.4" text-anchor="middle" textLength="31.3" lengthAdjust="spacingAndGlyphs">0.4</text><text x="39.8" y="341.5" text-anchor="end" textLength="31.5" lengthAdjust="spacingAndGlyphs">0.5</text><text x="470.6" y="788.4" text-anchor="middle" textLength="31.3" lengthAdjust="spacingAndGlyphs">0.5</text><text x="39.8" y="255.4" text-anchor="end" textLength="31.5" lengthAdjust="spacingAndGlyphs">0.6</text><text x="556.8" y="788.4" text-anchor="middle" textLength="31.3" lengthAdjust="spacingAndGlyphs">0.6</text><text x="39.8" y="169.3" text-anchor="end" textLength="31.5" lengthAdjust="spacingAndGlyphs">0.7</text><text x="642.9" y="788.4" text-anchor="middle" textLength="31.3" lengthAdjust="spacingAndGlyphs">0.7</text><text x="39.8" y="83.2" text-anchor="end" textLength="31.5" lengthAdjust="spacingAndGlyphs">0.8</text><text x="729.0" y="788.4" text-anchor="middle" textLength="31.3" lengthAdjust="spacingAndGlyphs">0.8</text></g><text x="771.3" y="779" fill="#969696" stroke="#000" stroke-width="0.7" style="font:38px 'Liberation Sans', Arial, sans-serif" textLength="17" lengthAdjust="spacingAndGlyphs">x</text><text x="11" y="38.3" fill="#969696" stroke="#000" stroke-width="0.7" style="font:38px 'Liberation Sans', Arial, sans-serif" textLength="17" lengthAdjust="spacingAndGlyphs">y</text><path d="M54.5 584.7H170.0M176.0 589.7V747M54.5 292.7H227.4M233.4 300.3V747" stroke="#fff" stroke-width="1.8" stroke-dasharray="3.3 8.4" fill="none"/><circle cx="176.0" cy="582.7" r="7.6" fill="#fff"/><circle cx="233.4" cy="293.3" r="7.6" fill="#fff"/><text x="147" y="567.4" fill="#fff" style="font:bold 37.5px 'Liberation Sans', Arial, sans-serif" textLength="22.6" lengthAdjust="spacingAndGlyphs">A</text><text x="196.6" y="284.3" fill="#fff" style="font:37px 'Liberation Sans', Arial, sans-serif">B</text><text x="348" y="44.7" fill="#fff" style="font:bold 41px 'Liberation Sans', Arial, sans-serif" textLength="429.5" lengthAdjust="spacingAndGlyphs">CIE 1931 Cromaticity</text><path d="M787.3 21Q793.3 19.4 793.3 24.5V33.8" stroke="#fff" stroke-width="2.7" fill="none"/><g style="font:37px 'Liberation Sans', Arial, sans-serif" fill="#fff"><text x="385.5" y="110.5" textLength="294" lengthAdjust="spacingAndGlyphs">Color coordinates</text><text x="385" y="152.3"><tspan textLength="57.5">A - </tspan><tspan fill="#00b0f0" textLength="333" lengthAdjust="spacingAndGlyphs">x=0.1564, y=0.2087</tspan></text><text x="385" y="194"><tspan textLength="59">B - </tspan><tspan fill="#92d050" textLength="332" lengthAdjust="spacingAndGlyphs">x=0.2222, y=0.5394</tspan></text></g><text x="652" y="654.5" fill="#fff" style="font:bold 59px 'Liberation Serif', 'Times New Roman', serif">(a)</text><path d="M915.80 427.1l.2 -5.1l.2 5.4l.2 -2.4l.2 -8.5l.2 5.3l.2 -0.3l.2 -2.8l.2 6.5l.2 4.3l.2 -13.1l.2 -0.5l.2 -12.1l.2 12.1l.2 -2.5l.2 -11.0l.2 14.1l.2 1.2l.2 -8.6l.2 1.5l.2 -4.2l.2 9.7l.2 -14.3l.2 6.6l.2 12.9l.2 -12.0l.2 1.9l.2 -4.4l.2 -6.8l.2 -53.4l.2 -13.3l.2 3.9l.2 -5.6l.2 -1.8l.2 10.0l.2 -15.8l.2 0.8l.2 2.9l.2 -12.9l.2 -2.1l.2 -3.6l.2 -5.9l.2 -12.0l.2 -3.0l.2 -2.5l.2 -19.6l.2 -0.2l.2 -10.7l.2 -9.3l.2 1.6l.2 -10.4l.2 -10.5l.2 -2.7l.2 -3.6l.2 -6.7l.2 -2.7l.2 -6.5l.2 -3.0l.2 -3.0l.2 -8.9l.2 -3.4l.2 -6.1l.2 -4.5l.2 -7.1l.2 -4.7l.2 -4.7l.2 -3.3l.2 -4.1l.2 -7.0l.2 -3.2l.2 -1.9l.2 -5.7l.2 -1.6l.2 -2.4l.2 -1.0l.2 -3.0l.2 -3.4l.2 -2.0l.2 -2.0l.2 0.0l.2 -3.8l.2 -1.6l.2 -1.0l.2 -2.1l.2 -1.5l.2 -2.1l.2 -0.6l.2 -1.6l.2 0.1l.2 -1.7l.2 -1.8l.2 -0.4l.2 -2.0l.2 0.2l.2 -1.9l.2 -0.4l.2 -2.2l.2 0.2l.2 -1.9l.2 -0.8l.2 0.4l.2 -1.0l.2 0.1l.2 1.1l.2 -2.7l.2 -0.3l.2 0.2l.2 -0.1l.2 -0.8l.2 -0.4l.2 0.3l.2 -0.4l.2 -1.4l.2 0.2l.2 -0.3l.2 -0.6l.2 0.8l.2 -0.7l.2 1.2l.2 -0.6l.2 -0.1l.2 -0.4l.2 0.3l.2 -1.1l.2 0.5l.2 0.9l.2 -1.5l.2 1.9l.2 -1.7l.2 1.6l.2 -1.1l.2 1.1l.2 -0.5l.2 -0.8l.2 2.1l.2 0.3l.2 -1.1l.2 0.0l.2 0.3l.2 -0.4l.2 1.6l.2 -1.0l.2 0.4l.2 -0.2l.2 0.2l.2 -0.2l.2 1.9l.2 -1.0l.2 1.1l.2 -0.7l.2 -0.2l.2 0.3l.2 0.0l.2 0.5l.2 0.0l.2 0.1l.2 -0.4l.2 0.5l.2 2.0l.2 -1.7l.2 0.0l.2 1.0l.2 1.1l.2 -1.9l.2 0.9l.2 -0.1l.2 -0.5l.2 1.8l.2 -0.5l.2 0.2l.2 -0.3l.2 0.9l.2 -0.5l.2 0.4l.2 -0.4l.2 0.0l.2 2.1l.2 -1.3l.2 0.7l.2 -0.1l.2 -0.1l.2 0.1l.2 1.0l.2 -0.6l.2 0.2l.2 0.3l.2 1.2l.2 -0.3l.2 -0.1l.2 -0.5l.2 -0.4l.2 1.8l.2 0.2l.2 -0.8l.2 0.7l.2 0.4l.2 0.2l.2 0.2l.2 -0.9l.2 1.8l.2 -2.0l.2 1.7l.2 -0.2l.2 0.5l.2 1.1l.2 -0.2l.2 -1.9l.2 -0.2l.2 1.9l.2 -1.2l.2 0.8l.2 0.9l.2 -1.6l.2 -0.2l.2 1.7l.2 0.0l.2 -0.1l.2 0.4l.2 -0.4l.2 -0.3l.2 1.0l.2 -0.3l.2 -0.3l.2 1.6l.2 -0.3l.2 0.5l.2 -0.8l.2 0.4l.2 -0.1l.2 0.2l.2 0.9l.2 -0.5l.2 1.0l.2 0.1l.2 1.7l.2 -2.6l.2 1.9l.2 -0.8l.2 0.2l.2 -0.7l.2 0.8l.2 1.1l.2 -0.6l.2 0.3l.2 -0.1l.2 1.4l.2 -0.9l.2 -1.3l.2 1.1l.2 -0.7l.2 -0.2l.2 1.5l.2 1.7l.2 -1.0l.2 -0.7l.2 0.3l.2 1.9l.2 -0.8l.2 0.0l.2 0.1l.2 0.2l.2 0.9l.2 -0.1l.2 -0.1l.2 -0.8l.2 1.3l.2 -0.8l.2 1.7l.2 -1.7l.2 0.9l.2 0.2l.2 -0.7l.2 2.7l.2 -0.1l.2 -1.6l.2 1.2l.2 -0.2l.2 -2.0l.2 2.2l.2 -0.2l.2 0.3l.2 -0.7l.2 0.8l.2 0.2l.2 1.4l.2 -0.7l.2 -0.2l.2 1.7l.2 -1.7l.2 0.2l.2 -0.8l.2 3.0l.2 -0.5l.2 0.1l.2 -0.1l.2 -0.4l.2 0.3l.2 -0.3l.2 0.2l.2 0.4l.2 1.6l.2 -0.8l.2 -0.5l.2 -0.2l.2 0.1l.2 2.3l.2 -1.0l.2 -0.3l.2 -0.2l.2 -0.4l.2 0.9l.2 1.1l.2 -1.0l.2 0.3l.2 0.1l.2 0.5l.2 -1.1l.2 1.1l.2 -0.3l.2 1.7l.2 -1.3l.2 1.3l.2 1.1l.2 -1.7l.2 0.0l.2 0.8l.2 -0.1l.2 -0.6l.2 1.4l.2 1.8l.2 -2.2l.2 0.2l.2 -0.4l.2 1.2l.2 -1.1l.2 0.3l.2 2.3l.2 -1.9l.2 2.0l.2 0.6l.2 -1.2l.2 0.5l.2 1.7l.2 -2.1l.2 -0.2l.2 -0.4l.2 1.2l.2 1.7l.2 -0.4l.2 -1.6l.2 0.2l.2 0.4l.2 0.9l.2 -0.3l.2 0.5l.2 0.2l.2 -0.4l.2 0.4l.2 0.4l.2 -0.1l.2 0.7l.2 1.7l.2 -1.3l.2 -0.4l.2 -1.2l.2 1.9l.2 -1.8l.2 0.6l.2 2.2l.2 -0.1l.2 -0.7l.2 -1.1l.2 1.2l.2 -0.1l.2 1.4l.2 2.0l.2 -2.1l.2 -0.8l.2 -0.1l.2 1.0l.2 0.1l.2 -0.6l.2 1.1l.2 -0.8l.2 2.3l.2 0.1l.2 0.2l.2 -1.5l.2 1.1l.2 -0.5l.2 -0.1l.2 0.2l.2 -0.6l.2 0.0l.2 2.3l.2 -1.0l.2 0.6l.2 1.1l.2 -2.5l.2 1.0l.2 1.0l.2 0.4l.2 -0.7l.2 1.7l.2 -0.8l.2 -1.1l.2 0.4l.2 1.9l.2 -0.3l.2 -1.9l.2 3.3l.2 -0.8l.2 1.1l.2 -1.8l.2 0.2l.2 -0.5l.2 4.1l.2 -3.0l.2 2.2l.2 -2.3l.2 0.9l.2 -1.5l.2 1.3l.2 1.6l.2 -2.1l.2 2.5l.2 -0.7l.2 -1.1l.2 0.6l.2 0.2l.2 0.5l.2 -0.3l.2 -0.1l.2 0.6l.2 -0.5l.2 0.0l.2 1.2l.2 1.2l.2 -2.2l.2 1.5l.2 -0.4l.2 -0.2l.2 2.1l.2 -1.4l.2 2.5l.2 -2.4l.2 1.3l.2 -0.5l.2 -0.3l.2 1.5l.2 -0.7l.2 1.0l.2 -0.6l.2 -0.8l.2 1.0l.2 0.3l.2 1.3l.2 -1.8l.2 0.9l.2 -1.3l.2 2.5l.2 -1.7l.2 -0.4l.2 1.6l.2 1.7l.2 -2.7l.2 0.6l.2 0.4l.2 -0.2l.2 1.7l.2 -1.1l.2 0.3l.2 1.5l.2 -1.3l.2 1.4l.2 -1.3l.2 0.0l.2 -0.4l.2 4.2l.2 -2.6l.2 0.8l.2 -0.2l.2 0.4l.2 0.0l.2 2.6l.2 -3.3l.2 -0.3l.2 0.6l.2 -0.1l.2 2.3l.2 0.3l.2 -1.9l.2 -0.2l.2 1.1l.2 2.3l.2 -4.1l.2 3.3l.2 -1.6l.2 2.6l.2 -2.3l.2 0.9l.2 -1.0l.2 0.7l.2 2.9l.2 -0.6l.2 -1.3l.2 -0.3l.2 -0.8l.2 1.5l.2 0.5l.2 0.1l.2 0.2l.2 -0.9l.2 1.2l.2 0.2l.2 1.9l.2 1.0l.2 -2.6l.2 -0.4l.2 0.8l.2 -0.4l.2 0.1l.2 0.8l.2 -0.8l.2 2.0l.2 -0.8l.2 0.6l.2 -0.4l.2 -0.4l.2 0.0l.2 0.8l.2 -0.2l.2 1.1l.2 -0.2l.2 -1.2l.2 1.6l.2 -1.3l.2 0.9l.2 0.4l.2 -1.5l.2 2.3l.2 0.2l.2 -0.2l.2 -0.1l.2 0.2l.2 -0.5l.2 0.9l.2 -0.2l.2 0.9l.2 -1.2l.2 1.7l.2 0.0l.2 -0.2l.2 -0.1l.2 1.4l.2 -2.4l.2 2.5l.2 -0.1l.2 0.2l.2 0.3l.2 -1.1l.2 0.5l.2 1.4l.2 -0.2l.2 -0.1l.2 -1.7l.2 2.5l.2 1.0l.2 0.0l.2 -1.0l.2 -1.8l.2 3.1l.2 -1.4l.2 -2.3l.2 3.3l.2 -1.9l.2 0.3l.2 0.9l.2 2.7l.2 -2.2l.2 1.0l.2 2.4l.2 -0.1l.2 -2.4l.2 0.0l.2 -0.9l.2 0.8l.2 1.5l.2 0.1l.2 -0.3l.2 1.5l.2 -2.2l.2 0.9l.2 1.4l.2 -0.1l.2 0.9l.2 -0.9l.2 -0.8l.2 1.1l.2 -1.5l.2 -0.6l.2 2.8l.2 -0.8l.2 0.7l.2 -2.1l.2 1.6l.2 -0.1l.2 -0.2l.2 -1.3l.2 2.2l.2 1.9l.2 -0.6l.2 -1.1l.2 0.7l.2 1.4l.2 -3.9l.2 2.9l.2 1.1l.2 0.4l.2 1.8l.2 -0.8l.2 -1.1l.2 0.1l.2 0.9l.2 -1.7l.2 0.7l.2 1.7l.2 1.8l.2 -3.2l.2 0.3l.2 0.5l.2 2.0l.2 -2.0l.2 2.5l.2 -3.3l.2 1.1l.2 0.1l.2 1.6l.2 0.6l.2 -3.2l.2 0.8l.2 1.7l.2 -1.1l.2 -0.8l.2 3.5l.2 -0.7l.2 0.1l.2 -1.2l.2 2.4l.2 -1.8l.2 2.2l.2 -2.7l.2 0.3l.2 1.4l.2 -1.0l.2 2.1l.2 -0.5l.2 -1.4l.2 1.4l.2 -0.4l.2 2.1l.2 -2.2l.2 0.4l.2 2.7l.2 1.9l.2 -0.2l.2 -3.2l.2 0.5l.2 2.3l.2 -2.6l.2 -0.8l.2 1.5l.2 0.7l.2 -1.6l.2 -0.8l.2 0.4l.2 3.0l.2 -1.9l.2 0.9l.2 0.7l.2 0.8l.2 -1.3l.2 1.4l.2 -1.8l.2 0.8l.2 -0.6l.2 3.3l.2 -1.8l.2 -0.7l.2 0.6l.2 0.3l.2 1.6l.2 -3.0l.2 0.8l.2 1.0l.2 5.0l.2 -2.6l.2 -1.6l.2 1.5l.2 2.5l.2 -3.7l.2 -0.1l.2 2.8l.2 -1.1l.2 0.4l.2 -1.6l.2 4.2l.2 -0.3l.2 -1.8l.2 0.3l.2 -3.6l.2 3.8l.2 -1.2l.2 1.2l.2 0.6l.2 -1.5l.2 -1.6l.2 3.0l.2 -1.5l.2 0.7l.2 -0.2l.2 0.5l.2 -2.4l.2 5.3l.2 -1.6l.2 1.7l.2 1.8l.2 -3.5l.2 -2.1l.2 1.3l.2 -0.3l.2 1.1l.2 0.9l.2 -2.6l.2 3.4l.2 -2.4l.2 2.6l.2 -0.6l.2 -0.1l.2 0.5l.2 -0.5l.2 0.1l.2 -1.2l.2 2.3l.2 3.6l.2 0.4l.2 -1.1l.2 -1.0l.2 -2.0l.2 3.7l.2 -2.6l.2 0.1l.2 -0.1l.2 0.7l.2 -0.6l.2 0.6l.2 -1.2l.2 1.1l.2 5.0l.2 -4.3l.2 -0.1l.2 1.5l.2 0.5l.2 -2.7l.2 1.4l.2 2.2l.2 -1.1l.2 -0.2l.2 3.0l.2 -3.8l.2 1.2l.2 -0.7l.2 3.7l.2 -5.4l.2 1.9l.2 0.4l.2 2.1l.2 0.1l.2 1.7l.2 -4.8l.2 3.8l.2 -1.7l.2 -0.4l.2 2.1l.2 -2.1l.2 -1.5l.2 2.5l.2 -1.4l.2 1.3l.2 1.8l.2 0.0l.2 2.8l.2 -3.4l.2 -1.7l.2 1.3l.2 -0.1l.2 -0.3l.2 2.7l.2 -1.6l.2 -1.7l.2 4.3l.2 -1.4l.2 1.0l.2 -0.3l.2 1.2l.2 -1.1l.2 2.6l.2 -1.5l.2 0.1l.2 0.2l.2 -2.8l.2 2.0l.2 0.0l.2 1.0l.2 -2.2l.2 5.4l.2 -3.0l.2 -1.8l.2 -0.6l.2 2.2l.2 0.5l.2 -0.8l.2 1.4l.2 -1.0l.2 2.2l.2 -2.0l.2 1.1l.2 2.3l.2 3.5l.2 -6.7l.2 0.9l.2 -0.4l.2 3.0l.2 -3.2l.2 1.2l.2 0.8l.2 -1.3l.2 0.2l.2 0.9l.2 -2.3l.2 1.1l.2 1.7l.2 1.1l.2 -0.5l.2 -2.2l.2 2.1l.2 2.6l.2 -0.4l.2 -1.2l.2 -1.0l.2 2.8l.2 -2.1l.2 -0.7l.2 0.7l.2 4.5l.2 -2.5l.2 2.2l.2 -3.1l.2 2.9l.2 -2.8l.2 0.8l.2 5.9l.2 -3.7l.2 -2.3l.2 0.8l.2 1.0l.2 2.1l.2 -3.3l.2 -1.7l.2 2.4l.2 0.6l.2 0.3l.2 2.9l.2 -2.1l.2 1.3l.2 -3.4l.2 3.8l.2 2.9l.2 -2.8l.2 -1.1l.2 0.0l.2 3.8l.2 -5.3l.2 1.4l.2 1.4l.2 0.8l.2 -2.3l.2 1.6l.2 -1.0l.2 0.8l.2 -0.3l.2 -1.5l.2 2.0l.2 2.2l.2 -3.4l.2 1.3l.2 2.0l.2 -3.1l.2 2.3l.2 -2.0l.2 4.5l.2 2.9l.2 -0.5l.2 -4.9l.2 2.2l.2 -1.3l.2 0.1l.2 3.5l.2 -5.6l.2 4.8l.2 -2.4l.2 3.5l.2 -2.7l.2 -1.4l.2 1.9l.2 1.2l.2 -1.5l.2 1.3l.2 -1.9l.2 -2.5l.2 5.8l.2 -0.3l.2 -1.2l.2 -0.1l.2 2.5l.2 -3.1l.2 -0.2l.2 1.0l.2 3.3l.2 -5.0l.2 5.3l.2 -3.8l.2 -0.6l.2 5.0l.2 -3.1l.2 -1.8l.2 1.7l.2 3.0l.2 0.8l.2 -3.5l.2 1.9l.2 0.9l.2 -2.7l.2 2.1l.2 -0.8l.2 -0.7l.2 0.2l.2 1.2l.2 0.0l.2 -0.9l.2 0.4l.2 3.7l.2 -2.1l.2 1.8l.2 1.0l.2 -1.4l.2 4.3l.2 -6.9l.2 3.6l.2 -2.5l.2 5.4l.2 -0.2l.2 -7.6l.2 1.9l.2 3.5l.2 0.5l.2 0.0l.2 -1.9l.2 1.5l.2 0.6l.2 -1.6l.2 2.9l.2 -6.5l.2 5.8l.2 -3.3l.2 4.4l.2 -2.7l.2 -1.0l.2 2.6l.2 -2.4l.2 0.1l.2 -1.0l.2 2.9l.2 1.5l.2 1.5l.2 -2.7l.2 3.1l.2 -2.5l.2 -0.1l.2 1.8l.2 1.4l.2 -3.2l.2 0.3l.2 0.3l.2 0.6l.2 -1.7l.2 4.5l.2 -3.3l.2 2.1l.2 -2.5l.2 2.6l.2 0.2l.2 -1.7l.2 6.3l.2 -4.2l.2 3.9l.2 -2.0l.2 -3.7l.2 0.7l.2 2.0l.2 -0.9l.2 0.2l.2 -0.6l.2 -2.7l.2 3.1l.2 -3.5l.2 5.3l.2 -2.3l.2 0.2l.2 1.1l.2 1.3l.2 -3.3l.2 -0.5l.2 1.5l.2 -1.7l.2 2.1l.2 6.4l.2 -6.3l.2 4.0l.2 -4.3l.2 3.6l.2 -1.3l.2 0.7l.2 1.8l.2 3.5l.2 -4.2l.2 -0.1l.2 -2.1l.2 3.7l.2 -2.0l.2 3.0l.2 -2.3l.2 5.1l.2 -8.6l.2 3.5l.2 3.2l.2 -3.1l.2 -0.7l.2 1.2l.2 -2.0l.2 3.1l.2 6.8l.2 -3.5l.2 -5.3l.2 0.6l.2 1.0l.2 3.9l.2 -4.4l.2 0.4l.2 4.1l.2 0.1l.2 -3.1l.2 -1.4l.2 -0.7l.2 1.9l.2 -3.0l.2 6.8l.2 -3.3l.2 2.8l.2 4.2l.2 -1.9l.2 -5.6l.2 5.1l.2 0.9l.2 -4.7l.2 -0.3l.2 1.9l.2 -2.9l.2 7.7l.2 -9.1l.2 2.8l.2 1.9l.2 0.2l.2 1.1l.2 0.5l.2 -1.1l.2 3.9l.2 -7.6l.2 4.5l.2 -1.3l.2 2.0l.2 0.4l.2 -2.4l.2 0.7l.2 3.9l.2 -1.2l.2 -2.3l.2 7.7l.2 1.0l.2 -9.9l.2 4.1l.2 6.8l.2 -5.1l.2 -1.5l.2 -1.0l.2 -0.6l.2 0.9l.2 -0.6l.2 3.6l.2 -3.0l.2 0.1l.2 -1.5l.2 2.6l.2 -1.7l.2 1.7l.2 3.8l.2 -2.0l.2 0.6l.2 -0.3l.2 -0.8l.2 -0.3l.2 -0.3l.2 3.2l.2 -4.6l.2 6.7l.2 -3.9l.2 -1.6l.2 0.7l.2 -0.3l.2 2.2l.2 -2.0l.2 5.3l.2 -5.1l.2 -3.2l.2 3.6l.2 -2.7l.2 4.5l.2 3.6l.2 -1.2l.2 -4.9l.2 1.4l.2 7.6l.2 -4.6l.2 -0.8l.2 3.5l.2 4.7l.2 -3.6l.2 -3.6l.2 0.8l.2 1.0l.2 -3.2l.2 -0.9l.2 2.7l.2 -2.1l.2 2.1l.2 0.6l.2 7.5l.2 -9.5l.2 1.8l.2 0.1l.2 1.9l.2 2.2l.2 -4.4l.2 -0.6l.2 -1.8l.2 1.8l.2 4.0l.2 -1.5l.2 -2.3l.2 1.6l.2 1.1l.2 1.7l.2 -2.9l.2 1.0l.2 -3.5l.2 1.7l.2 8.2l.2 -10.3l.2 4.4l.2 1.6l.2 -1.4l.2 -0.9l.2 1.9l.2 0.3l.2 -0.1l.2 -4.0l.2 4.2l.2 -1.6l.2 0.9l.2 2.2l.2 1.6l.2 1.0l.2 -4.1l.2 4.5l.2 1.0l.2 0.0l.2 1.0l.2 -5.0l.2 0.1l.2 3.4l.2 -6.0l.2 4.2l.2 -1.9l.2 0.5l.2 -3.1l.2 2.2l.2 2.2l.2 3.3l.2 0.5l.2 -3.5l.2 -0.1l.2 -1.4l.2 3.5l.2 -1.9l.2 2.9l.2 4.2l.2 -6.1l.2 -3.4l.2 1.7l.2 -1.4l.2 0.8l.2 7.7l.2 -3.7l.2 -4.4l.2 6.2l.2 2.4l.2 -5.3l.2 -0.6l.2 0.9l.2 2.0l.2 1.5l.2 2.1l.2 0.2l.2 0.1l.2 0.7l.2 -2.3l.2 -6.1l.2 3.6l.2 1.6l.2 -1.9l.2 4.4l.2 -4.1l.2 -1.3l.2 7.8l.2 -2.7l.2 -1.5l.2 2.7l.2 0.7l.2 -2.5l.2 -7.4l.2 4.7l.2 0.7l.2 -1.3l.2 3.4l.2 3.9l.2 -5.6l.2 -1.5l.2 10.6l.2 -8.6l.2 -1.8l.2 4.2l.2 0.8l.2 -3.3l.2 5.0l.2 -4.1l.2 -1.0l.2 3.2l.2 2.4l.2 -4.4l.2 3.0l.2 -1.4l.2 11.1l.2 -12.4l.2 7.3l.2 -5.3l.2 0.0l.2 3.2l.2 0.8l.2 1.6l.2 -3.5l.2 -2.7l.2 0.3l.2 3.5l.2 0.4l.2 3.3l.2 -3.6l.2 2.6l.2 1.9l.2 -5.1l.2 -4.4l.2 0.9l.2 -0.5l.2 10.2l.2 -8.4l.2 7.3l.2 -2.4l.2 4.5l.2 -2.6l.2 -4.1l.2 -0.1l.2 1.0l.2 0.5l.2 -2.0l.2 1.5l.2 6.6l.2 -10.9l.2 5.8l.2 -3.3l.2 3.3l.2 2.8l.2 -3.4l.2 3.4l.2 -7.3l.2 8.9l.2 -5.9l.2 4.3l.2 -1.7l.2 -7.7l.2 5.2l.2 3.1l.2 5.5l.2 -4.9l.2 0.0l.2 -4.9l.2 9.9l.2 1.7l.2 -7.1l.2 -0.6l.2 -3.8l.2 8.3l.2 7.6l.2 -8.0l.2 2.4l.2 -2.8l.2 -4.9l.2 8.5l.2 -8.9l.2 3.0l.2 1.9l.2 2.7l.2 -1.8l.2 0.0l.2 -3.7l.2 -1.3l.2 4.0l.2 -2.1l.2 -1.6l.2 0.3l.2 2.3l.2 -3.8l.2 1.6l.2 -0.7l.2 5.7l.2 1.1l.2 6.8l.2 -12.7l.2 2.6l.2 5.9l.2 -4.3l.2 -0.2l.2 8.4l.2 -8.2l.2 -2.2l.2 -0.4l.2 5.5l.2 0.0l.2 -5.2l.2 1.2l.2 5.4l.2 0.3l.2 -4.2l.2 4.7l.2 -0.1l.2 -7.6l.2 4.5l.2 2.9l.2 -3.4l.2 -4.6l.2 5.7l.2 4.3l.2 3.7l.2 -13.3l.2 18.1l.2 -14.6l.2 7.7l.2 1.3l.2 -0.9l.2 -3.5l.2 -4.1l.2 6.4l.2 -4.8l.2 -5.3l.2 20.3l.2 -9.2l.2 5.0l.2 -10.7l.2 9.5l.2 0.7l.2 -0.1l.2 -6.8l.2 -3.5l.2 3.3l.2 -6.1l.2 1.6l.2 5.8l.2 -3.3l.2 2.7l.2 0.3l.2 9.2l.2 -2.7l.2 -5.9l.2 5.8l.2 -7.8l.2 1.5l.2 5.3l.2 -7.9l.2 3.2l.2 -3.2l.2 4.9l.2 7.0l.2 -9.7l.2 3.6l.2 -3.8l.2 -0.6l.2 -0.2l.2 10.8l.2 4.3l.2 -8.5l.2 -4.4l.2 5.7l.2 -4.2l.2 4.9l.2 -2.2l.2 0.1l.2 1.6l.2 -4.5l.2 0.7l.2 -4.1l.2 4.2l.2 -3.0l.2 4.3l.2 -2.5l.2 3.7l.2 1.8l.2 -6.7l.2 2.1l.2 -0.2l.2 6.7l.2 4.7l.2 -3.9l.2 -5.1l.2 8.3l.2 -11.8l.2 12.2l.2 -9.1l.2 -6.3l.2 21.4l.2 -5.0l.2 -10.9l.2 4.4l.2 -1.4l.2 1.3l.2 -5.2l.2 2.8l.2 4.6l.2 -1.0l.2 4.8l.2 -5.2l.2 11.1l.2 -13.7l.2 3.8l.2 -7.5l.2 2.3l.2 10.9l.2 -9.6l.2 5.9l.2 -2.6l.2 -3.2l.2 2.5l.2 -0.5l.2 0.3l.2 5.5l.2 -0.4l.2 -5.1l.2 -1.0l.2 4.7l.2 -1.6l.2 5.6l.2 8.2l.2 -8.9l.2 -4.2l.2 -0.3l.2 -2.2l.2 -0.1l.2 -0.2l.2 2.2l.2 0.1l.2 5.3l.2 -5.0l.2 0.9l.2 -3.5l.2 12.7l.2 -5.6l.2 6.7l.2 -4.9l.2 3.6l.2 -8.3l.2 4.7l.2 10.3l.2 -18.0l.2 10.4l.2 2.9l.2 -6.5l.2 1.9l.2 2.8l.2 -8.8l.2 4.7l.2 -5.2l.2 0.8l.2 0.4l.2 1.8l.2 1.5l.2 1.7l.2 -7.4l.2 15.8l.2 -4.2l.2 -2.2l.2 -5.0l.2 1.1l.2 3.4l.2 -0.6l.2 -8.3l.2 10.3l.2 11.9l.2 -22.5l.2 12.4l.2 -3.2l.2 -2.3l.2 8.0l.2 -11.8l.2 5.5l.2 7.2l.2 -8.6l.2 -0.7l.2 2.4l.2 -2.2l.2 10.3l.2 -11.8l.2 8.4l.2 -9.5l.2 8.6l.2 -3.9l.2 -9.2l.2 9.8l.2 -3.9l.2 2.5l.2 10.4l.2 -12.7l.2 0.3l.2 12.2l.2 -7.2l.2 8.1l.2 -6.7l.2 -5.1l.2 3.3l.2 7.3l.2 -1.5l.2 -5.1l.2 0.4l.2 -0.6l.2 -1.7l.2 13.3l.2 -10.7l.2 -4.4l.2 2.7l.2 6.1l.2 -0.3l.2 -4.1l.2 -1.9l.2 2.9l.2 -6.6l.2 1.6l.2 9.8l.2 -6.3l.2 4.2l.2 4.9l.2 -3.1l.2 -3.5l.2 12.3l.2 -8.3l.2 -5.1l.2 5.8l.2 -1.8l.2 -5.7l.2 4.0l.2 -0.9l.2 -7.1l.2 7.3l.2 -0.3l.2 -0.5l.2 -4.8l.2 5.4l.2 1.4l.2 0.9l.2 -5.1l.2 8.5l.2 -8.6l.2 4.2l.2 8.8l.2 -10.5l.2 0.9l.2 8.6l.2 -7.8l.2 0.5l.2 2.6l.2 5.1l.2 -15.2l.2 5.7l.2 -0.6l.2 -0.2l.2 1.1l.2 0.1l.2 5.4l.2 -5.3l.2 4.5l.2 1.8l.2 -5.4l.2 4.0l.2 9.2l.2 -7.8l.2 -4.5l.2 2.5l.2 -3.5l.2 5.6l.2 3.7l.2 -8.5l.2 2.6l.2 7.8l.2 -8.8l.2 3.4l.2 -5.4l.2 1.0l.2 1.4l.2 15.3l.2 -14.6l.2 -0.4l.2 0.0l.2 1.7l.2 4.8l.2 -2.7l.2 11.4l.2 -11.0l.2 7.6l.2 -7.0l.2 2.1l.2 -9.6l.2 5.6l.2 0.4l.2 -0.7l.2 -7.9l.2 14.6l.2 -6.9l.2 -0.1l.2 0.8l.2 0.3l.2 3.5l.2 -7.7l.2 1.5l.2 5.9l.2 -0.8l.2 -2.4l.2 -0.7l.2 -1.1l.2 3.5l.2 7.7l.2 -11.8l.2 14.2l.2 -4.2l.2 -7.1l.2 7.0l.2 -11.1l.2 -1.1l.2 2.0l.2 4.0l.2 0.4l.2 -0.7l.2 3.0l.2 -9.8l.2 12.5l.2 -9.2l.2 3.4l.2 1.2l.2 -3.1l.2 -0.9l.2 1.7l.2 4.5l.2 3.9l.2 0.0l.2 -7.9l.2 1.0l.2 -0.5l.2 7.1l.2 -11.8l.2 17.1l.2 -10.0l.2 -1.2l.2 5.7l.2 4.6l.2 -4.3l.2 4.7l.2 -5.8l.2 7.2l.2 0.2l.2 -8.4l.2 9.9l.2 -8.2l.2 -0.4l.2 -4.6l.2 3.0l.2 6.5l.2 -11.0l.2 10.4l.2 -1.9l.2 -0.4l.2 -11.7l.2 9.6l.2 4.9l.2 -7.6l.2 4.1l.2 -11.3l.2 15.4l.2 -7.4l.2 9.0l.2 -14.2l.2 13.2l.2 -5.6l.2 6.6l.2 -9.6l.2 1.6l.2 18.0l.2 -18.8l.2 0.7l.2 2.1l.2 -3.4l.2 12.9l.2 3.7l.2 -14.8l.2 -4.7l.2 16.1l.2 -0.3l.2 -1.8l.2 2.4l.2 -11.9l.2 3.4l.2 -5.6l.2 0.0l.2 13.5l.2 -9.8l.2 18.9l.2 -15.0l.2 -3.5l.2 8.7l.2 7.0l.2 -9.0l.2 -9.0l.2 8.5l.2 7.0l.2 -11.7l.2 -1.3l.2 10.9l.2 -6.0l.2 -6.2l.2 3.6l.2 -1.7l.2 5.8l.2 -1.2l.2 7.4l.2 -3.0l.2 -12.4l.2 10.5l.2 3.6l.2 -3.0l.2 4.2l.2 -9.9l.2 -1.8l.2 11.3l.2 -11.7l.2 -5.2l.2 17.9l.2 -10.7l.2 2.1l.2 -5.2l.2 0.4l.2 1.0l.2 4.0l.2 4.5l.2 -13.9l.2 16.9l.2 -11.2l.2 0.7l.2 10.3l.2 -5.2l.2 -7.1l.2 21.0l.2 -17.5l.2 6.2l.2 -0.2l.2 8.8l.2 -12.4l.2 9.7l.2 -10.9l.2 12.0l.2 -11.9l.2 2.1l.2 15.8l.2 -11.4l.2 -1.5l.2 15.8l.2 -13.7l.2 -6.7l.2 9.7l.2 -11.3l.2 14.4l.2 0.7l.2 -11.8l.2 -0.1l.2 4.6l.2 -1.1l.2 -5.0l.2 9.3l.2 -14.6l.2 8.4l.2 0.2l.2 0.8l.2 3.8l.2 -8.5l.2 10.8l.2 -5.2l.2 -2.4l.2 -3.6l.2 1.1l.2 8.9l.2 -7.6l.2 5.6l.2 7.6l.2 -0.1l.2 4.1l.2 -13.2l.2 -4.1l.2 13.6l.2 -5.3l.2 6.3l.2 -8.4l.2 9.2l.2 -2.6l.2 -0.9l.2 -1.5l.2 -0.7l.2 -1.2l.2 0.1l.2 6.0l.2 -10.3l.2 16.2l.2 -13.8l.2 8.3l.2 -8.0l.2 -0.8l.2 17.2l.2 -17.3l.2 -5.1l.2 3.1l.2 2.2l.2 18.6l.2 -15.0l.2 5.7l.2 -12.6l.2 8.3l.2 2.6l.2 9.0l.2 -17.8l.2 8.6l.2 -2.3l.2 -7.8l.2 5.5l.2 -1.2l.2 -11.1l.2 17.5l.2 -0.4l.2 -6.6l.2 -4.8l.2 19.2l.2 -9.5l.2 6.0l.2 3.3l.2 -14.0l.2 9.4l.2 -7.7l.2 1.1l.2 0.0l.2 0.5l.2 9.1l.2 -7.9l.2 -1.7l.2 -0.6l.2 4.4l.2 -7.7l.2 2.3l.2 2.6l.2 -2.8l.2 2.6l.2 -2.6l.2 19.8l.2 -5.4l.2 -7.0l.2 -3.9l.2 18.3l.2 -15.2l.2 -3.0l.2 3.1l.2 0.1l.2 9.2l.2 -11.6l.2 17.5l.2 -22.2l.2 10.8l.2 -11.3l.2 20.8l.2 -16.8l.2 1.6l.2 8.1l.2 2.9l.2 -16.7l.2 4.5l.2 -6.0l.2 9.3l.2 -1.6l.2 -1.4l.2 -1.8l.2 1.8l.2 -2.0l.2 8.9l.2 8.4l.2 -23.9l.2 10.6l.2 -1.6l.2 6.7l.2 -9.7l.2 4.8l.2 -5.1l.2 12.1l.2 -5.0l.2 -1.7l.2 4.2l.2 -4.5l.2 -7.6l.2 14.3l.2 -2.5l.2 -3.3l.2 9.5l.2 2.1l.2 -16.8l.2 1.9l.2 18.0l.2 -1.0l.2 -16.5l.2 -2.5l.2 3.3l.2 0.9l.2 -6.4l.2 9.8l.2 -7.8l.2 0.5l.2 15.3l.2 -11.9l.2 3.7l.2 6.0l.2 1.7l.2 -9.0l.2 2.5l.2 -5.3l.2 20.4l.2 -9.5l.2 -12.3l.2 6.8l.2 6.4l.2 -2.0l.2 12.0l.2 -3.9l.2 -15.3l.2 2.8l.2 -7.2l.2 10.1l.2 -0.7l.2 22.7l.2 -23.0l.2 -13.6l.2 8.8l.2 5.2l.2 -8.6l.2 2.4l.2 3.2l.2 5.4l.2 -4.0l.2 -4.4l.2 12.7l.2 -10.3l.2 0.3l.2 -5.4l.2 3.8l.2 10.9l.2 -15.9l.2 9.7l.2 7.1l.2 -8.8l.2 4.6l.2 -9.1l.2 19.1l.2 -1.8l.2 -7.8l.2 -13.1l.2 4.5l.2 15.6l.2 6.9l.2 -12.9l.2 8.8l.2 -15.2l.2 2.7l.2 1.3l.2 4.0l.2 -13.5l.2 18.5l.2 3.6l.2 -19.4l.2 -1.3l.2 12.0l.2 -7.3l.2 -10.9l.2 22.7l.2 -5.9l.2 -4.5l.2 22.9l.2 -18.3l.2 -6.1l.2 5.9l.2 -7.6l.2 1.9l.2 8.7l.2 -7.2l.2 0.8l.2 18.7l.2 -7.5l.2 -0.5l.2 -2.4l.2 -0.4l.2 9.3l.2 -13.8l.2 17.8l.2 -23.7l.2 4.6l.2 -7.3l.2 6.9l.2 7.3l.2 9.0l.2 -18.1l.2 4.5l.2 -2.3l.2 -2.4l.2 -2.8l.2 8.5l.2 -11.9l.2 12.6l.2 -0.7l.2 -4.5l.2 -2.2l.2 -2.4l.2 27.4l.2 -26.9l.2 24.1l.2 -9.1l.2 -8.2l.2 -5.2l.2 18.0l.2 6.8l.2 -23.0l.2 4.4l.2 12.4l.2 -6.9l.2 16.4l.2 -23.3l.2 9.3l.2 -13.7l.2 29.1l.2 -25.4l.2 -9.9l.2 14.2l.2 0.0l.2 20.0l.2 -21.1l.2 2.3l.2 6.1l.2 10.0l.2 -16.1l.2 10.9l.2 -5.1l.2 -7.1l.2 3.0l.2 -0.4l.2 -6.5l.2 18.5l.2 -21.5l.2 21.3l.2 -2.0l.2 -10.1l.2 -4.6l.2 3.9l.2 6.4l.2 2.8l.2 -4.4l.2 7.2l.2 -13.8l.2 6.4l.2 -13.2l.2 18.7l.2 -6.0l.2 -4.4l.2 14.8l.2 -4.6l.2 -25.2l.2 18.8l.2 -10.6l.2 21.2l.2 14.7l.2 -29.0l.2 4.5l.2 -2.4l.2 5.5l.2 3.1l.2 6.7l.2 -20.1l.2 23.3l.2 -22.7l.2 9.6l.2 9.2l.2 -4.5l.2 -13.9l.2 1.7l.2 1.9l.2 3.0l.2 12.4l.2 -21.1l.2 14.2l.2 1.6l.2 -0.4l.2 -0.8l.2 11.0l.2 -10.6l.2 4.0l.2 -3.0l.2 13.0l.2 -32.4l.2 27.3l.2 -15.3l.2 0.0l.2 -4.9l.2 -6.4l.2 10.9l.2 -2.2l.2 10.4l.2 -15.9l.2 26.0l.2 -12.2l.2 -4.6l.2 -3.2l.2 -0.5l.2 -2.4l.2 4.4l.2 4.1l.2 -1.2l.2 -9.0l.2 8.5l.2 -4.5l.2 8.4l.2 18.4l.2 -13.2l.2 -8.9l.2 -9.6l.2 1.6l.2 -1.9l.2 20.4l.2 -13.4l.2 6.5l.2 -5.2l.2 5.7l.2 14.3l.2 -20.2l.2 2.7l.2 -3.4l.2 15.6l.2 -17.1l.2 -0.7l.2 -1.8l.2 -0.1l.2 15.9l.2 23.0l.2 -35.5l.2 18.1l.2 -7.6l.2 -11.0l.2 6.3l.2 0.5l.2 -3.4l.2 26.6l.2 -35.7l.2 18.8l.2 -0.4l.2 -8.0l.2 6.2l.2 8.1l.2 -7.9l.2 3.1l.2 3.1l.2 -23.1l.2 32.1l.2 9.0l.2 -14.3l.2 0.4l.2 -22.0l.2 10.0l.2 -5.2l.2 1.8l.2 15.5l.2 -17.0l.2 5.3l.2 -13.7l.2 13.7l.2 2.3l.2 -6.4l.2 0.0l.2 27.0l.2 -30.6l.2 1.3l.2 2.0l.2 20.0l.2 10.3l.2 -19.9l.2 -9.3l.2 2.3l.2 15.6l.2 -19.2l.2 23.8l.2 -0.3l.2 -15.2l.2 6.6l.2 1.3l.2 9.3l.2 -26.0l.2 22.0l.2 -16.4l.2 -3.0l.2 7.3l.2 -2.8l.2 -6.0l.2 -4.8l.2 5.3l.2 24.4l.2 6.0l.2 -15.1l.2 6.3l.2 -17.7l.2 3.6l.2 4.0l.2 -11.9l.2 0.8l.2 9.2l.2 -3.6l.2 -5.9l.2 13.2l.2 -6.6l.2 14.2l.2 -11.9l.2 -2.3l.2 4.0l.2 -2.8l.2 -3.9l.2 2.3l.2 12.1l.2 -1.1l.2 7.6l.2 -28.8l.2 10.7l.2 -0.1l.2 5.5l.2 -5.6l.2 -0.4l.2 13.5l.2 -7.1l.2 -11.5l.2 25.5l.2 -3.9l.2 -16.5l.2 14.7l.2 -15.8l.2 19.5l.2 -15.1l.2 -4.7l.2 3.6l.2 -3.2l.2 8.7l.2 -0.1l.2 -1.5l.2 -5.0l.2 -16.8l.2 22.7l.2 -16.8l.2 18.8l.2 10.8l.2 -10.2l.2 -6.5l.2 1.8l.2 0.5l.2 -3.4l.2 -0.2l.2 -2.7l.2 22.2l.2 -14.4l.2 11.8l.2 -13.6l.2 3.0l.2 -2.2l.2 7.2l.2 4.5l.2 -7.1l.2 -8.5l.2 -0.8l.2 27.0l.2 -22.6l.2 0.0l.2 20.5l.2 -4.5l.2 -6.7l.2 -9.9l.2 32.5l.2 -24.1l.2 2.0l.2 -8.1l.2 -10.5l.2 0.8l.2 16.5l.2 -0.1l.2 -6.8l.2 -7.9l.2 -2.3l.2 9.7l.2 -9.6l.2 23.7l.2 3.3l.2 21.0l.2 -24.2l.2 -16.0l.2 -2.3l.2 -14.9l.2 17.4l.2 3.7l.2 13.8l.2 -4.4l.2 -0.2l.2 -4.6l.2 5.7l.2 10.0l.2 -27.4l.2 5.4l.2 -8.1l.2 32.6l.2 -3.9l.2 -6.8l.2 -19.9l.2 12.7l.2 -4.1l.2 3.1l.2 -2.5l.2 8.3l.2 -10.0l.2 14.4l.2 -7.7l.2 -5.5l.2 1.6l.2 -2.8l.2 14.4l.2 -12.7l.2 6.2l.2 -7.1l.2 -9.6l.2 24.8l.2 -20.9l.2 18.2l.2 -3.2l.2 -20.1l.2 6.4l.2 3.9l.2 -2.6l.2 -3.2l.2 20.2l.2 -11.6l.2 7.2l.2 -8.7l.2 7.8l.2 -10.6l.2 6.6l.2 7.9l.2 -6.9l.2 -4.6l.2 -5.6l.2 12.0l.2 2.4l.2 -6.7l.2 -4.5l.2 14.1l.2 25.4l.2 -35.1l.2 7.2l.2 0.6l.2 -28.0l.2 24.9l.2 -7.9l.2 24.6l.2 -20.4l.2 -4.7l.2 5.2l.2 4.2l.2 -7.2l.2 4.7l.2 -11.7l.2 10.3l.2 12.4l.2 15.9l.2 -16.6l.2 -5.7l.2 12.2l.2 -2.1l.2 8.6l.2 -7.6l.2 -15.4l.2 4.6l.2 -1.0l.2 1.7l.2 -1.2l.2 -9.8l.2 -12.1l.2 13.2l.2 -12.4l.2 19.7l.2 -0.8l.2 -15.4l.2 24.8l.2 2.4l.2 -10.2l.2 21.2l.2 2.8l.2 -36.3l.2 25.3l.2 -8.0l.2 -0.2l.2 7.0l.2 -19.2l.2 1.3l.2 -2.2l.2 0.8l.2 6.2l.2 -12.6l.2 3.9l.2 17.7l.2 -8.5l.2 6.0l.2 -22.9l.2 10.5l.2 2.2l.2 5.7l.2 -5.9l.2 18.4l.2 -13.2l.2 0.8l.2 0.0l.2 9.6l.2 -14.0l.2 19.9l.2 -9.0l.2 -4.1l.2 -1.5l.2 6.6l.2 6.9l.2 -0.9l.2 -7.7l.2 7.0l.2 -10.4l.2 15.7l.2 -17.5l.2 -19.4l.2 38.3l.2 -16.9l.2 -12.6l.2 9.4l.2 -6.5l.2 37.7l.2 -22.2l.2 -21.9l.2 22.7l.2 -11.3l.2 30.6l.2 -36.8l.2 -11.4l.2 22.6l.2 -4.2l.2 -0.6l.2 -16.5l.2 26.7l.2 17.5l.2 -41.8l.2 34.9l.2 -21.8l.2 38.5l.2 -26.8l.2 -7.8l.2 17.4l.2 -8.1l.2 -13.1l.2 15.9l.2 -14.9l.2 -12.4l.2 46.1l.2 -32.0l.2 -2.4l.2 10.8l.2 -20.0l.2 2.1l.2 8.4l.2 -0.1l.2 6.2l.2 14.9l.2 -20.5l.2 11.8l.2 1.6l.2 -19.1l.2 13.9l.2 -12.4l.2 24.5l.2 -8.6l.2 -6.2l.2 -13.4l.2 14.9l.2 -9.1l.2 17.7l.2 -11.2l.2 -6.8l.2 21.4l.2 -2.9l.2 -16.1l.2 22.6l.2 -19.6l.2 0.0l.2 4.9l.2 -9.2l.2 3.2l.2 2.8l.2 23.8l.2 -0.4l.2 -24.2l.2 26.0l.2 -23.7l.2 6.0l.2 7.4l.2 -8.5l.2 30.8l.2 -31.4l.2 -15.4l.2 31.0l.2 -23.0l.2 1.1l.2 -23.0l.2 40.7l.2 -2.5l.2 -0.2l.2 2.6l.2 10.5l.2 -25.1l.2 14.3l.2 -21.2l.2 4.0l.2 19.1l.2 -9.6l.2 -19.2l.2 18.9l.2 -7.1l.2 -6.4l.2 14.7l.2 -10.4l.2 -11.7l.2 4.7l.2 37.4l.2 -41.4l.2 18.7l.2 5.8l.2 0.5l.2 -21.8l.2 9.2l.2 5.4l.2 9.9l.2 -18.4l.2 -5.2l.2 26.8l.2 1.5l.2 -10.8l.2 -11.6l.2 12.3l.2 -4.4l.2 10.9l.2 -25.2l.2 14.6l.2 -3.3l.2 -9.7l.2 14.7l.2 -2.6l.2 -4.7l.2 10.2l.2 -20.5l.2 14.1l.2 7.1l.2 -2.1l.2 11.9l.2 -28.5l.2 -3.1l.2 19.3l.2 3.3l.2 25.0l.2 -22.5l.2 -18.3l.2 21.3l.2 -20.8l.2 -6.6l.2 54.8l.2 -34.4l.2 6.0l.2 -2.3l.2 18.9l.2 -23.0l.2 14.2l.2 -29.0l.2 -3.8l.2 36.2l.2 0.8l.2 -14.6l.2 -4.2l.2 -0.9l.2 -9.6l.2 30.6l.2 -13.3l.2 -2.3l.2 -1.9l.2 10.3l.2 -8.2l.2 3.7l.2 -23.5l.2 20.1l.2 25.6l.2 -38.7l.2 4.1l.2 15.1l.2 1.0l.2 -5.0l.2 -26.6l.2 24.9l.2 -20.2l.2 3.9l.2 17.1l.2 -11.4l.2 15.6l.2 36.0l.2 -36.4l.2 -0.8l.2 -20.5l.2 2.7l.2 -4.4l.2 5.7l.2 -5.9l.2 4.6l.2 4.9l.2 -8.4l.2 -4.4l.2 0.7l.2 21.6l.2 -6.1l.2 15.0l.2 0.4l.2 -19.8l.2 14.1l.2 -25.7l.2 50.9l.2 -16.9l.2 -20.8l.2 -10.1l.2 18.5l.2 -26.0l.2 11.8l.2 20.1l.2 -10.5l.2 -6.4l.2 20.2l.2 -26.0l.2 15.7l.2 -9.7l.2 -3.7l.2 16.4l.2 -17.9l.2 40.5l.2 -36.0l.2 37.5l.2 -42.9l.2 21.4l.2 -22.5l.2 -1.5l.2 17.1l.2 8.2l.2 -24.4l.2 32.5l.2 -27.2l.2 10.7l.2 4.0l.2 3.5l.2 -28.9l.2 45.1l.2 -16.6l.2 -13.4l.2 -6.5l.2 -7.3l.2 3.7l.2 23.5l.2 -12.3l.2 -8.5l.2 6.6l.2 30.6l.2 -28.4l.2 -2.7l.2 27.9l.2 -14.1l.2 -6.5l.2 -7.3l.2 -10.4l.2 4.3l.2 7.6l.2 2.9l.2 8.1l.2 3.2l.2 -5.2l.2 0.0l.2 -14.5l.2 -12.6l.2 18.0l.2 -4.7l.2 3.4l.2 4.2l.2 -10.7l.2 1.6l.2 11.2l.2 3.0l.2 -9.1l.2 15.3l.2 -10.4l.2 -8.8l.2 12.0l.2 29.7l.2 -37.7l.2 26.3l.2 3.4l.2 2.0l.2 -33.2l.2 41.7l.2 -30.6l.2 -4.6l.2 0.3l.2 12.3l.2 -8.8l.2 -2.8l.2 22.8l.2 -28.8l.2 -3.5l.2 24.5l.2 -1.4l.2 6.4l.2 -29.7l.2 29.6l.2 -9.7l.2 20.9l.2 -42.6l.2 17.6l.2 -6.6l.2 -14.7l.2 9.9l.2 26.4l.2 -23.6l.2 -2.8l.2 22.3l.2 2.0l.2 0.1l.2 -25.0l.2 8.3l.2 17.5l.2 -24.1l.2 -1.0l.2 22.0l.2 12.0l.2 -38.4l.2 -16.3l.2 13.0l.2 5.0l.2 9.9l.2 11.7l.2 -11.7l.2 -6.3l.2 10.5l.2 -13.3l.2 10.4l.2 -6.7l.2 51.3l.2 -30.5l.2 -22.9l.2 -1.8l.2 6.4l.2 -13.7l.2 10.5l.2 -0.1l.2 23.0l.2 -19.4l.2 -4.1l.2 -6.2l.2 1.9l.2 12.7l.2 -1.6l.2 21.2l.2 -25.9l.2 24.8l.2 -13.3l.2 -4.2l.2 -22.9l.2 8.3l.2 27.0l.2 11.0l.2 -19.7l.2 9.2l.2 -17.2l.2 0.4l.2 -3.3l.2 23.9l.2 -10.5l.2 -8.3l.2 -1.1l.2 13.1l.2 -3.8l.2 -15.0l.2 38.3l.2 -24.3l.2 -4.1l.2 24.5l.2 -7.5l.2 -18.1l.2 10.1l.2 -21.3l.2 5.0l.2 -18.6l.2 46.5l.2 -42.3l.2 33.4l.2 -21.0l.2 -1.7l.2 9.1l.2 6.8l.2 5.8l.2 19.5l.2 -23.6l.2 8.8l.2 -21.7l.2 19.0l.2 -9.4l.2 -7.9l.2 4.3l.2 0.4l.2 4.0l.2 3.6l.2 -12.7l.2 -2.6l.2 21.2l.2 -32.3l.2 12.6l.2 33.5l.2 -56.5l.2 22.2l.2 19.8l.2 -30.8l.2 63.2l.2 -74.1l.2 54.5l.2 2.1l.2 -10.8l.2 -18.1l.2 8.7l.2 -16.5l.2 24.3l.2 -26.8l.2 9.9l.2 20.2l.2 -29.9l.2 8.8l.2 7.1l.2 -18.5l.2 35.6l.2 -14.0l.2 -23.6l.2 17.3l.2 -8.5l.2 1.4l.2 9.1l.2 -9.6l.2 24.8l.2 -24.7l.2 25.1l.2 -17.2l.2 15.1l.2 -20.9l.2 0.4l.2 -7.6l.2 23.6l.2 6.1l.2 20.3l.2 -14.1l.2 -17.8l.2 -6.7l.2 9.2l.2 -7.0l.2 25.5l.2 -8.9l.2 -26.1l.2 1.8l.2 31.7l.2 -18.2l.2 -8.0l.2 23.2l.2 -24.9l.2 1.3l.2 -2.1l.2 -17.8l.2 38.2l.2 -29.2l.2 7.6l.2 -2.0l.2 21.4l.2 -13.3l.2 1.1l.2 -20.2l.2 18.9l.2 -16.5l.2 23.0l.2 1.0l.2 -6.5l.2 35.6l.2 -26.2l.2 1.2l.2 -7.8l.2 -4.7l.2 19.1l.2 2.4l.2 -34.6l.2 33.8l.2 -9.3l.2 7.8l.2 -8.6l.2 -22.9l.2 0.9l.2 45.7l.2 -27.2l.2 -21.4l.2 23.1l.2 -10.4l.2 -17.7l.2 -5.3l.2 8.2l.2 24.1l.2 -5.3l.2 -2.4l.2 8.0l.2 5.5l.2 -35.7l.2 21.7l.2 -6.3l.2 -4.9l.2 8.3l.2 5.2l.2 -1.7l.2 -14.3l.2 11.7l.2 41.1l.2 -47.9l.2 -7.6l.2 25.2l.2 5.7l.2 -2.3l.2 -21.6l.2 31.0l.2 -26.9l.2 -4.2l.2 6.4l.2 6.0l.2 13.9l.2 -1.5l.2 -11.2l.2 16.7l.2 -15.0l.2 14.4l.2 -32.7l.2 -2.1l.2 32.8l.2 -30.5l.2 13.2l.2 2.5l.2 -4.7l.2 0.5l.2 30.1l.2 -55.3l.2 46.4l.2 24.9l.2 -40.0l.2 -0.6l.2 13.0l.2 19.5l.2 -46.7l.2 16.1l.2 -3.8l.2 12.2l.2 -7.1l.2 8.9l.2 -16.8l.2 6.1l.2 -9.1l.2 0.1l.2 6.5l.2 0.0l.2 -12.6l.2 42.2l.2 -29.4l.2 -15.3l.2 36.5l.2 -28.7l.2 18.3l.2 -9.2l.2 4.6l.2 -1.3l.2 -10.1l.2 7.8l.2 35.5l.2 -63.6l.2 28.6l.2 6.6l.2 -20.6l.2 -3.9l.2 55.3l.2 -42.9l.2 41.6l.2 -27.5l.2 -8.1l.2 7.1l.2 2.9l.2 9.7l.2 -13.2l.2 -5.2l.2 0.6l.2 21.1l.2 -9.6l.2 -26.9l.2 4.6l.2 13.7l.2 -13.5l.2 3.0l.2 -7.1l.2 8.6l.2 10.9l.2 10.2l.2 -17.6l.2 37.0l.2 -38.1l.2 58.3l.2 -39.3l.2 -9.0l.2 -15.1l.2 -26.0l.2 30.3l.2 5.2l.2 31.3l.2 -51.6l.2 51.4l.2 -37.3l.2 16.1l.2 -44.5l.2 34.1l.2 -6.8l.2 16.6l.2 -10.6l.2 -15.8l.2 31.3l.2 -4.5l.2 -1.8l.2 7.5l.2 1.7l.2 -20.1l.2 -16.6l.2 -0.3l.2 41.6l.2 -11.5l.2 -11.0l.2 -7.2l.2 6.0l.2 -0.1l.2 -4.6l.2 -4.5l.2 47.9l.2 -35.0l.2 -11.7l.2 -8.6l.2 7.2l.2 22.1l.2 0.7l.2 -16.4l.2 3.7l.2 -4.7l.2 -10.0l.2 37.4l.2 -16.8l.2 38.2l.2 -54.3l.2 7.7l.2 17.8l.2 -19.1l.2 -14.3l.2 5.6l.2 13.7l.2 4.4l.2 -7.4l.2 19.5l.2 -0.2l.2 -12.1l.2 -5.4l.2 -3.6l.2 13.2l.2 6.7l.2 -15.6l.2 7.1l.2 -12.2l.2 -13.6l.2 5.1l.2 26.6l.2 -5.8l.2 20.9l.2 -27.9l.2 14.7l.2 8.4l.2 -5.9l.2 -25.8l.2 5.3l.2 4.7l.2 -14.7l.2 21.1l.2 10.1l.2 -24.8l.2 42.2l.2 -39.7l.2 1.1l.2 -0.4l.2 -5.9l.2 16.6l.2 -7.3l.2 30.1l.2 -19.3l.2 -1.2l.2 -12.7l.2 -15.0l.2 16.8l.2 -9.6l.2 28.2l.2 -17.8l.2 31.0l.2 -17.1l.2 1.9l.2 -11.1l.2 -0.4l.2 8.2l.2 5.0l.2 -26.0l.2 18.1l.2 39.2l.2 -49.3l.2 -2.1l.2 -5.5l.2 -9.6l.2 40.3l.2 -20.7l.2 4.4l.2 28.5l.2 12.2l.2 -57.5l.2 30.8l.2 -7.9l.2 -4.1l.2 1.5l.2 -9.1l.2 29.6l.2 -17.9l.2 -5.0l.2 16.7l.2 -6.4l.2 -8.1l.2 -2.4l.2 26.4l.2 -23.0l.2 -10.5l.2 -9.8l.2 6.6l.2 -9.0l.2 15.4l.2 2.8l.2 -30.9l.2 26.5l.2 11.7l.2 -8.9l.2 -15.3l.2 35.8l.2 -32.4l.2 -6.8l.2 1.9l.2 13.6l.2 18.5l.2 3.4l.2 -17.7l.2 -19.2l.2 6.9l.2 -3.0l.2 9.2l.2 -20.4l.2 24.8l.2 9.9l.2 -13.9l.2 10.5l.2 -20.5l.2 -6.6l.2 10.5l.2 29.7l.2 -2.4l.2 -25.0l.2 28.3l.2 -26.5l.2 32.3l.2 -19.1l.2 -14.8l.2 20.6l.2 -24.7l.2 -2.1l.2 -6.6l.2 23.5l.2 -5.5l.2 -0.2l.2 -4.3l.2 32.1l.2 -32.2l.2 -3.9l.2 32.6l.2 3.3l.2 -20.2l.2 -28.7l.2 14.7l.2 19.2l.2 -11.1l.2 28.7l.2 -46.6l.2 30.3l.2 -20.7l.2 32.8l.2 -25.7l.2 20.3l.2 -27.6l.2 -9.8l.2 3.8l.2 6.6l.2 -5.4l.2 35.7l.2 2.6l.2 -19.9l.2 -18.5l.2 11.9l.2 -7.3l.2 36.1l.2 -21.3l.2 3.3l.2 -14.4l.2 -20.8l.2 16.1l.2 -4.5l.2 21.4l.2 -5.1l.2 -12.2l.2 5.4l.2 34.5l.2 -41.9l.2 0.6l.2 9.0l.2 -6.1l.2 3.5l.2 15.6l.2 22.6l.2 -55.7l.2 22.9l.2 1.0l.2 -1.8l.2 -1.3l.2 -2.0l.2 23.3l.2 -24.9l.2 4.4l.2 1.7l.2 2.0l.2 -4.2l.2 21.1l.2 -18.9l.2 3.4l.2 -4.0l.2 -12.3l.2 2.2l.2 -2.8l.2 17.3l.2 -12.9l.2 -4.5l.2 18.3l.2 5.5l.2 -32.9l.2 54.9l.2 -31.3l.2 -1.9l.2 21.5l.2 -18.8l.2 -9.2l.2 49.4l.2 -55.5l.2 12.8l.2 17.3l.2 -30.0l.2 12.7l.2 8.6l.2 38.2l.2 -57.1l.2 11.0l.2 13.2l.2 -11.0l.2 -17.2l.2 23.5l.2 -5.7l.2 6.4l.2 13.0l.2 -2.2l.2 -11.4l.2 -1.9l.2 -20.2l.2 12.6l.2 6.0l.2 -9.4l.2 7.1l.2 -12.7l.2 40.0l.2 11.8l.2 -46.0l.2 12.7l.2 -10.6l.2 27.1l.2 -15.8l.2 -6.8l.2 -4.3l.2 5.3l.2 -15.5l.2 26.0l.2 -22.2l.2 19.6l.2 -7.7l.2 18.4l.2 -21.1l.2 19.7l.2 -31.6l.2 23.8l.2 -14.5l.2 6.6l.2 -2.3l.2 16.5l.2 -44.4l.2 32.7l.2 -25.8l.2 42.7l.2 -48.9l.2 12.7l.2 -8.8l.2 53.4l.2 -48.3l.2 19.2l.2 -9.2l.2 -16.7l.2 19.3l.2 17.1l.2 -15.0l.2 20.4l.2 -22.7l.2 4.9l.2 -5.2l.2 11.6l.2 29.8l.2 -29.4l.2 -3.2l.2 -11.8l.2 -1.8l.2 38.0l.2 -42.7l.2 2.6l.2 10.8l.2 -4.3l.2 43.1l.2 -68.7l.2 38.2l.2 6.8l.2 -28.5l.2 6.3l.2 16.8l.2 23.0l.2 -43.4l.2 -8.7l.2 39.6l.2 10.6l.2 -33.7l.2 -24.8l.2 57.1l.2 -30.4l.2 24.2l.2 -22.2l.2 -4.3l.2 -1.0l.2 34.3l.2 -0.8l.2 -55.8l.2 15.9l.2 46.6l.2 -39.0l.2 -13.2l.2 18.2l.2 -1.6l.2 0.2l.2 -5.0l.2 2.2l.2 -1.9l.2 12.5l.2 -17.2l.2 6.9l.2 2.0l.2 27.1l.2 -18.0l.2 -8.6l.2 11.8l.2 -2.5l.2 13.2l.2 -11.2l.2 24.8l.2 -8.6l.2 -26.5l.2 -4.9l.2 22.5l.2 -7.0l.2 -11.2l.2 -18.4l.2 -4.7l.2 31.1l.2 8.1l.2 0.7l.2 -32.6l.2 37.1l.2 -27.1l.2 14.6l.2 0.6l.2 -18.7l.2 2.8l.2 -19.7l.2 15.4l.2 -11.8l.2 32.5l.2 -7.3l.2 16.5l.2 -10.8l.2 -15.3" stroke="#000" stroke-width="1.15" fill="none"/><path d="M915.6 435.7 916.0 431.6 916.4 427.5 916.8 423.4 917.1 419.3 917.5 415.2 917.8 411.0 918.2 406.9 918.5 402.8 918.8 398.7 919.1 394.6 919.3 390.5 919.6 386.4 919.9 382.2 920.1 378.1 920.4 374.0 920.6 369.9 920.9 365.8 921.1 361.6 921.4 357.5 921.6 353.4 921.9 349.3 922.1 345.2 922.4 341.0 922.6 336.9 922.8 332.8 923.0 328.7 923.2 324.6 923.4 320.4 923.5 316.3 923.7 312.2 923.8 308.1 924.0 304.0 924.1 299.8 924.2 295.7 924.3 291.6 924.4 287.5 924.5 283.3 924.6 279.2 924.7 275.1 924.8 271.0 924.9 266.8 925.0 262.7 925.1 258.6 925.2 254.5 925.3 250.3 925.4 246.2 925.6 242.1 925.7 238.0 925.8 233.8 926.0 229.7 926.1 225.6 926.3 221.5 926.5 217.3 926.6 213.2 926.8 209.1 927.0 205.0 927.2 200.9 927.3 196.7 927.5 192.6 927.7 188.5 927.9 184.4 928.0 180.2 928.2 176.1 928.3 172.0 928.5 167.9 928.6 163.7 928.8 159.6 929.0 155.5 929.1 151.4 929.3 147.2 929.5 143.1 929.8 139.0 930.0 134.9 930.3 130.8 930.7 126.7 931.0 122.6 931.4 118.5 931.9 114.4 932.4 110.3 932.9 106.1 933.6 102.0 934.3 98.0 935.2 94.0 936.4 90.1 938.6 86.4 942.1 86.3 945.4 88.8 948.7 91.3 952.0 93.8 953.0 94.5 954.0 95.3 955.0 96.1 956.0 96.8 957.0 97.6 958.0 98.3 959.0 99.1 960.0 99.9 961.0 100.6 962.0 101.4 963.0 102.1 964.0 102.9 965.0 103.7 966.0 104.4 967.0 105.2 968.0 105.9 969.0 106.7 970.0 107.5 971.0 108.2 972.0 109.0 973.0 109.7 974.0 110.5 975.0 111.3 976.0 112.0 977.0 112.8 978.0 113.5 979.0 114.3 980.0 115.1 981.0 115.8 982.0 116.6 983.0 117.3 984.0 118.1 985.0 118.9 986.0 119.6 987.0 120.4 988.0 121.1 989.0 121.9 990.0 122.6 991.0 123.4 992.0 124.2 993.0 124.9 994.0 125.7 995.0 126.4 996.0 127.2 997.0 128.0 998.0 128.7 999.0 129.5 1000.0 130.2 1001.0 131.0 1002.0 131.7 1003.0 132.5 1004.0 133.3 1005.0 134.0 1006.0 134.8 1007.0 135.5 1008.0 136.3 1009.0 137.0 1010.0 137.8 1011.0 138.6 1012.0 139.3 1013.0 140.1 1014.0 140.8 1015.0 141.6 1016.0 142.3 1017.0 143.1 1018.0 143.9 1019.0 144.6 1020.0 145.4 1021.0 146.1 1022.0 146.9 1023.0 147.6 1024.0 148.4 1025.0 149.1 1026.0 149.9 1027.0 150.7 1028.0 151.4 1029.0 152.2 1030.0 152.9 1031.0 153.7 1032.0 154.4 1033.0 155.2 1034.0 155.9 1035.0 156.7 1036.0 157.4 1037.0 158.2 1038.0 159.0 1039.0 159.7 1040.0 160.5 1041.0 161.2 1042.0 162.0 1043.0 162.7 1044.0 163.5 1045.0 164.2 1046.0 165.0 1047.0 165.7 1048.0 166.5 1049.0 167.2 1050.0 168.0 1051.0 168.7 1052.0 169.5 1053.0 170.2 1054.0 171.0 1055.0 171.7 1056.0 172.5 1057.0 173.2 1058.0 174.0 1059.0 174.7 1060.0 175.5 1061.0 176.2 1062.0 177.0 1063.0 177.7 1064.0 178.5 1065.0 179.2 1066.0 180.0 1067.0 180.7 1068.0 181.5 1069.0 182.2 1070.0 183.0 1071.0 183.7 1072.0 184.5 1073.0 185.2 1074.0 186.0 1075.0 186.7 1076.0 187.5 1077.0 188.2 1078.0 189.0 1079.0 189.7 1080.0 190.4 1081.0 191.2 1082.0 191.9 1083.0 192.7 1084.0 193.4 1085.0 194.2 1086.0 194.9 1087.0 195.7 1088.0 196.4 1089.0 197.1 1090.0 197.9 1091.0 198.6 1092.0 199.4 1093.0 200.1 1094.0 200.8 1095.0 201.6 1096.0 202.3 1097.0 203.1 1098.0 203.8 1099.0 204.5 1100.0 205.3 1101.0 206.0 1102.0 206.8 1103.0 207.5 1104.0 208.2 1105.0 209.0 1106.0 209.7 1107.0 210.4 1108.0 211.2 1109.0 211.9 1110.0 212.7 1111.0 213.4 1112.0 214.1 1113.0 214.9 1114.0 215.6 1115.0 216.3 1116.0 217.1 1117.0 217.8 1118.0 218.5 1119.0 219.3 1120.0 220.0 1121.0 220.7 1122.0 221.4 1123.0 222.2 1124.0 222.9 1125.0 223.6 1126.0 224.4 1127.0 225.1 1128.0 225.8 1129.0 226.5 1130.0 227.3 1131.0 228.0 1132.0 228.7 1133.0 229.4 1134.0 230.2 1135.0 230.9 1136.0 231.6 1137.0 232.3 1138.0 233.1 1139.0 233.8 1140.0 234.5 1141.0 235.2 1142.0 235.9 1143.0 236.7 1144.0 237.4 1145.0 238.1 1146.0 238.8 1147.0 239.5 1148.0 240.2 1149.0 241.0 1150.0 241.7 1151.0 242.4 1152.0 243.1 1153.0 243.8 1154.0 244.5 1155.0 245.2 1156.0 245.9 1157.0 246.7 1158.0 247.4 1159.0 248.1 1160.0 248.8 1161.0 249.5 1162.0 250.2 1163.0 250.9 1164.0 251.6 1165.0 252.3 1166.0 253.0 1167.0 253.7 1168.0 254.4 1169.0 255.1 1170.0 255.8 1171.0 256.5 1172.0 257.2 1173.0 257.9 1174.0 258.6 1175.0 259.3 1176.0 260.0 1177.0 260.7 1178.0 261.4 1179.0 262.1 1180.0 262.8 1181.0 263.5 1182.0 264.2 1183.0 264.9 1184.0 265.6 1185.0 266.3 1186.0 267.0 1187.0 267.6 1188.0 268.3 1189.0 269.0 1190.0 269.7 1191.0 270.4 1192.0 271.1 1193.0 271.8 1194.0 272.5 1195.0 273.1 1196.0 273.8 1197.0 274.5 1198.0 275.2 1199.0 275.9 1200.0 276.5 1201.0 277.2 1202.0 277.9 1203.0 278.6 1204.0 279.3 1205.0 279.9 1206.0 280.6 1207.0 281.3 1208.0 282.0 1209.0 282.6 1210.0 283.3 1211.0 284.0 1212.0 284.6 1213.0 285.3 1214.0 286.0 1215.0 286.7 1216.0 287.3 1217.0 288.0 1218.0 288.7 1219.0 289.3 1220.0 290.0 1221.0 290.6 1222.0 291.3 1223.0 292.0 1224.0 292.6 1225.0 293.3 1226.0 294.0 1227.0 294.6 1228.0 295.3 1229.0 295.9 1230.0 296.6 1231.0 297.2 1232.0 297.9 1233.0 298.6 1234.0 299.2 1235.0 299.9 1236.0 300.5 1237.0 301.2 1238.0 301.8 1239.0 302.5 1240.0 303.1 1241.0 303.8 1242.0 304.4 1243.0 305.1 1244.0 305.7 1245.0 306.4 1246.0 307.0 1247.0 307.6 1248.0 308.3 1249.0 308.9 1250.0 309.6 1251.0 310.2 1252.0 310.9 1253.0 311.5 1254.0 312.1 1255.0 312.8 1256.0 313.4 1257.0 314.0 1258.0 314.7 1259.0 315.3 1260.0 315.9 1261.0 316.6 1262.0 317.2 1263.0 317.8 1264.0 318.5 1265.0 319.1 1266.0 319.7 1267.0 320.4 1268.0 321.0 1269.0 321.6 1270.0 322.2 1271.0 322.9 1272.0 323.5 1273.0 324.1 1274.0 324.7 1275.0 325.3 1276.0 326.0 1277.0 326.6 1278.0 327.2 1279.0 327.8 1280.0 328.4 1281.0 329.0 1282.0 329.7 1283.0 330.3 1284.0 330.9 1285.0 331.5 1286.0 332.1 1287.0 332.7 1288.0 333.3 1289.0 333.9 1290.0 334.5 1291.0 335.1 1292.0 335.7 1293.0 336.3 1294.0 336.9 1295.0 337.5 1296.0 338.1 1297.0 338.7 1298.0 339.3 1299.0 339.9 1300.0 340.5 1301.0 341.1 1302.0 341.7 1303.0 342.3 1304.0 342.9 1305.0 343.5 1306.0 344.1 1307.0 344.7 1308.0 345.2 1309.0 345.8 1310.0 346.4 1311.0 347.0 1312.0 347.6 1313.0 348.2 1314.0 348.7 1315.0 349.3 1316.0 349.9 1317.0 350.5 1318.0 351.0 1319.0 351.6 1320.0 352.2 1321.0 352.7 1322.0 353.3 1323.0 353.9 1324.0 354.4 1325.0 355.0 1326.0 355.5 1327.0 356.1 1328.0 356.7 1329.0 357.2 1330.0 357.8 1331.0 358.3 1332.0 358.9 1333.0 359.4 1334.0 360.0 1335.0 360.5 1336.0 361.0 1337.0 361.6 1338.0 362.1 1339.0 362.7 1340.0 363.2 1341.0 363.7 1342.0 364.3 1343.0 364.8 1344.0 365.3 1345.0 365.9 1346.0 366.4 1347.0 366.9 1348.0 367.4 1349.0 367.9 1350.0 368.5 1351.0 369.0 1352.0 369.5 1353.0 370.0 1354.0 370.5 1355.0 371.0 1356.0 371.5 1357.0 372.0 1358.0 372.5 1359.0 373.0 1360.0 373.5 1361.0 374.0 1362.0 374.5 1363.0 375.0 1364.0 375.5 1365.0 376.0 1366.0 376.5 1367.0 377.0 1368.0 377.4 1369.0 377.9 1370.0 378.4 1371.0 378.9 1372.0 379.3 1373.0 379.8 1374.0 380.3 1375.0 380.7 1376.0 381.2 1377.0 381.7 1378.0 382.1 1379.0 382.6 1380.0 383.0 1381.0 383.5 1382.0 383.9 1383.0 384.4 1384.0 384.8 1385.0 385.3 1386.0 385.7 1387.0 386.1 1388.0 386.6 1389.0 387.0 1390.0 387.4 1391.0 387.9 1392.0 388.3 1393.0 388.7 1394.0 389.1 1395.0 389.5 1396.0 390.0 1397.0 390.4 1398.0 390.8 1399.0 391.2 1400.0 391.6 1401.0 392.0 1402.0 392.4 1403.0 392.8 1404.0 393.2 1405.0 393.6 1406.0 394.0 1407.0 394.4 1408.0 394.7 1409.0 395.1 1410.0 395.5 1411.0 395.9 1412.0 396.3 1413.0 396.6 1414.0 397.0 1415.0 397.4 1416.0 397.7 1417.0 398.1 1418.0 398.5 1419.0 398.8 1420.0 399.2 1421.0 399.5 1422.0 399.9 1423.0 400.2 1424.0 400.6 1425.0 400.9 1426.0 401.3 1427.0 401.6 1428.0 402.0 1429.0 402.3 1430.0 402.6 1431.0 402.9 1432.0 403.3 1433.0 403.6 1434.0 403.9 1435.0 404.2 1436.0 404.6 1437.0 404.9 1438.0 405.2 1439.0 405.5 1440.0 405.8 1441.0 406.1 1442.0 406.4 1443.0 406.7 1444.0 407.0 1445.0 407.3 1446.0 407.6 1447.0 407.9 1448.0 408.2 1449.0 408.5 1450.0 408.8 1451.0 409.1 1452.0 409.3 1453.0 409.6 1454.0 409.9 1455.0 410.2 1456.0 410.5 1457.0 410.7 1458.0 411.0 1459.0 411.3 1460.0 411.5 1461.0 411.8 1462.0 412.0 1463.0 412.3 1464.0 412.6 1465.0 412.8 1466.0 413.1 1467.0 413.3 1468.0 413.6 1469.0 413.8 1470.0 414.1 1471.0 414.3 1472.0 414.5 1473.0 414.8 1474.0 415.0 1475.0 415.2 1476.0 415.5 1477.0 415.7 1478.0 415.9 1479.0 416.2 1480.0 416.4 1481.0 416.6 1482.0 416.8 1483.0 417.1 1484.0 417.3 1485.0 417.5 1486.0 417.7 1487.0 417.9 1488.0 418.1 1489.0 418.3 1490.0 418.5 1491.0 418.7 1492.0 418.9 1493.0 419.1 1494.0 419.3 1495.0 419.5 1496.0 419.7 1497.0 419.9 1498.0 420.1 1499.0 420.3 1500.0 420.5 1501.0 420.7 1502.0 420.9 1503.0 421.1 1504.0 421.2 1505.0 421.4 1506.0 421.6 1507.0 421.8 1508.0 422.0 1509.0 422.1 1510.0 422.3 1511.0 422.5 1512.0 422.7 1513.0 422.8 1514.0 423.0 1515.0 423.2 1516.0 423.3 1517.0 423.5 1518.0 423.6 1519.0 423.8 1520.0 424.0 1521.0 424.1 1522.0 424.3 1523.0 424.4 1524.0 424.6 1525.0 424.7 1526.0 424.9 1527.0 425.0 1528.0 425.2 1529.0 425.3 1530.0 425.5 1531.0 425.6 1532.0 425.8 1533.0 425.9 1534.0 426.1 1535.0 426.2 1536.0 426.3 1537.0 426.5 1538.0 426.6 1539.0 426.7 1540.0 426.9 1541.0 427.0 1542.0 427.1 1543.0 427.3 1544.0 427.4 1545.0 427.5 1546.0 427.7 1547.0 427.8 1548.0 427.9 1549.0 428.0 1550.0 428.1 1551.0 428.3 1552.0 428.4 1553.0 428.5 1554.0 428.6 1555.0 428.7 1556.0 428.9 1557.0 429.0 1558.0 429.1 1559.0 429.2 1560.0 429.3 1561.0 429.4 1562.0 429.5 1563.0 429.6 1564.0 429.8 1565.0 429.9 1566.0 430.0 1567.0 430.1 1568.0 430.2 1569.0 430.3 1570.0 430.4 1571.0 430.5 1572.0 430.6 1573.0 430.7 1574.0 430.8 1575.0 430.9 1576.0 431.0 1577.0 431.1 1578.0 431.2 1579.0 431.3 1580.0 431.4 1581.0 431.5 1582.0 431.6 1583.0 431.6 1584.0 431.7 1585.0 431.8 1586.0 431.9 1587.0 432.0 1588.0 432.1 1589.0 432.2 1590.0 432.3 1591.0 432.4 1592.0 432.4 1593.0 432.5 1594.0 432.6 1595.0 432.7 1596.0 432.8 1597.0 432.9 1598.0 432.9 1599.0 433.0 1600.0 433.1 1601.0 433.2 1602.0 433.3 1603.0 433.3 1604.0 433.4 1605.0 433.5 1606.0 433.6 1607.0 433.6 1608.0 433.7 1609.0 433.8 1610.0 433.9 1611.0 433.9 1612.0 434.0 1613.0 434.1 1614.0 434.2" stroke="#f00" stroke-width="2.8" fill="none" stroke-linejoin="round"/><path d="M909.4 21.3H1642.7M909.4 525.8H1642.7M915.4 21.3V525.8M1636.7 21.3V525.8M965.5 525.8v10.5M965.5 21.3v-10.5M1057.0 525.8v10.5M1057.0 21.3v-10.5M1148.6 525.8v10.5M1148.6 21.3v-10.5M1240.1 525.8v10.5M1240.1 21.3v-10.5M1331.6 525.8v10.5M1331.6 21.3v-10.5M1423.1 525.8v10.5M1423.1 21.3v-10.5M1514.7 525.8v10.5M1514.7 21.3v-10.5M1606.2 525.8v10.5M1606.2 21.3v-10.5M919.7 525.8v5.8M919.7 21.3v-5.8M1011.3 525.8v5.8M1011.3 21.3v-5.8M1102.8 525.8v5.8M1102.8 21.3v-5.8M1194.3 525.8v5.8M1194.3 21.3v-5.8M1285.8 525.8v5.8M1285.8 21.3v-5.8M1377.4 525.8v5.8M1377.4 21.3v-5.8M1468.9 525.8v5.8M1468.9 21.3v-5.8M1560.4 525.8v5.8M1560.4 21.3v-5.8M915.4 462.7h-11.5M1636.7 462.7h10.5M915.4 336.6h-11.5M1636.7 336.6h10.5M915.4 210.4h-11.5M1636.7 210.4h10.5M915.4 84.3h-11.5M1636.7 84.3h10.5M915.4 399.6h-6.5M1636.7 399.6h5.8M915.4 273.5h-6.5M1636.7 273.5h5.8M915.4 147.4h-6.5M1636.7 147.4h5.8" stroke="#000" stroke-width="3" stroke-linecap="round" fill="none"/><g style="font:bold 23px 'Liberation Sans', Arial, sans-serif" fill="#000"><text x="897.6" y="470.2" text-anchor="end">1</text><text x="897.6" y="344.1" text-anchor="end">2</text><text x="897.6" y="217.9" text-anchor="end">3</text><text x="897.6" y="91.8" text-anchor="end">4</text><text x="966.1" y="561" text-anchor="middle">1.8</text><text x="1057.6" y="561" text-anchor="middle">3.6</text><text x="1149.2" y="561" text-anchor="middle">5.4</text><text x="1240.7" y="561" text-anchor="middle">7.2</text><text x="1332.2" y="561" text-anchor="middle">9.0</text><text x="1423.7" y="561" text-anchor="middle">10.8</text><text x="1515.3" y="561" text-anchor="middle">12.6</text><text x="1606.8" y="561" text-anchor="middle">14.4</text></g><text x="1273.5" y="604.5" text-anchor="middle" style="font:bold 29.6px 'Liberation Sans', Arial, sans-serif">Time (ns)</text><text transform="translate(848.8 268.9) rotate(-90)" text-anchor="middle" style="font:bold 30.5px 'Liberation Sans', Arial, sans-serif">Decay (log)</text><rect x="1294.1" y="62.7" width="321.4" height="89.3" fill="#000"/><rect x="1287.6" y="56.2" width="320.9" height="88.2" fill="#fff" stroke="#555" stroke-width="1.2"/><path d="M1311.5 83.8H1380.5" stroke="#333" stroke-width="1.5"/><path d="M1311.5 127.7H1381" stroke="#f00" stroke-width="2.6" stroke-linecap="round"/><text x="1388" y="94.5" style="font:bold 29px 'Liberation Sans', Arial, sans-serif">Decay</text><text x="1388" y="137.6" style="font:bold 29px 'Liberation Sans', Arial, sans-serif">Fit (</text><text x="1450.4" y="137.6" style="font:italic 30px 'Liberation Serif', 'Times New Roman', serif">&#967;</text><text x="1463.8" y="121" style="font:20px 'Liberation Sans', Arial, sans-serif">2</text><text x="1474" y="137.6" style="font:31px 'Liberation Sans', Arial, sans-serif" textLength="122.5" lengthAdjust="spacingAndGlyphs">=1.0224)</text><text x="1508" y="278.7" style="font:bold 59px 'Liberation Serif', 'Times New Roman', serif">(b)</text><path d="M915.80 664.1l.25 18.7l.25 -2.0l.25 -25.1l.25 3.4l.25 -3.9l.25 15.8l.25 -8.8l.25 11.6l.25 -37.6l.25 49.0l.25 -24.4l.25 10.6l.25 -11.9l.25 -4.2l.25 12.6l.25 5.2l.25 -14.8l.25 0.7l.25 11.7l.25 -22.4l.25 -9.9l.25 27.7l.25 -15.5l.25 -18.1l.25 16.6l.25 5.3l.25 -9.5l.25 -3.8l.25 21.6l.25 12.3l.25 -16.3l.25 -7.2l.25 16.3l.25 4.8l.25 -14.7l.25 12.5l.25 7.5l.25 -18.1l.25 -8.6l.25 17.1l.25 -1.4l.25 13.1l.25 -34.3l.25 8.9l.25 -2.7l.25 -13.1l.25 26.9l.25 6.2l.25 -18.5l.25 31.5l.25 -8.0l.25 -3.4l.25 -3.5l.25 8.2l.25 -33.5l.25 27.8l.25 -0.2l.25 -34.6l.25 30.9l.25 -7.9l.25 14.9l.25 -18.0l.25 5.5l.25 5.0l.25 -17.9l.25 21.4l.25 -10.5l.25 8.7l.25 -14.2l.25 23.8l.25 -7.5l.25 -11.2l.25 11.6l.25 8.7l.25 7.1l.25 -49.0l.25 35.5l.25 -5.8l.25 -8.3l.25 -13.8l.25 33.0l.25 -36.3l.25 25.4l.25 10.1l.25 -42.5l.25 18.8l.25 -15.1l.25 22.2l.25 18.2l.25 7.6l.25 -55.2l.25 17.8l.25 18.8l.25 12.3l.25 -16.5l.25 -17.1l.25 14.7l.25 -4.6l.25 -2.7l.25 -7.6l.25 16.2l.25 -1.9l.25 -5.5l.25 -1.4l.25 -15.3l.25 11.6l.25 24.4l.25 -20.5l.25 -18.1l.25 40.0l.25 -11.4l.25 22.5l.25 -29.3l.25 -8.0l.25 -14.6l.25 40.3l.25 18.3l.25 -48.8l.25 2.8l.25 18.6l.25 -21.1l.25 7.9l.25 -1.4l.25 8.0l.25 12.8l.25 -15.9l.25 12.9l.25 -19.8l.25 10.1l.25 -35.4l.25 10.4l.25 33.2l.25 -20.1l.25 17.5l.25 -0.6l.25 11.6l.25 -6.7l.25 3.1l.25 -16.6l.25 -8.8l.25 0.0l.25 3.7l.25 -8.9l.25 8.4l.25 6.6l.25 4.5l.25 -8.6l.25 -23.1l.25 26.6l.25 4.4l.25 12.6l.25 -7.2l.25 -17.9l.25 -1.4l.25 40.1l.25 -18.8l.25 15.1l.25 4.4l.25 -43.0l.25 16.8l.25 0.6l.25 0.6l.25 -0.6l.25 -4.2l.25 -0.2l.25 -23.9l.25 19.4l.25 -8.7l.25 13.2l.25 -8.8l.25 15.8l.25 3.8l.25 -7.1l.25 0.5l.25 -3.3l.25 -8.3l.25 4.3l.25 -4.9l.25 12.3l.25 -5.9l.25 8.2l.25 -27.0l.25 32.7l.25 -24.1l.25 0.7l.25 8.0l.25 -5.1l.25 12.3l.25 -13.2l.25 -7.1l.25 2.9l.25 31.3l.25 -18.4l.25 -17.1l.25 17.4l.25 -22.4l.25 48.8l.25 -48.0l.25 29.4l.25 1.5l.25 -28.6l.25 25.2l.25 10.3l.25 -7.5l.25 -3.4l.25 10.7l.25 -11.2l.25 2.4l.25 -6.5l.25 10.6l.25 -23.0l.25 24.9l.25 -18.9l.25 -8.7l.25 20.5l.25 19.2l.25 -10.4l.25 -21.4l.25 17.1l.25 -16.8l.25 5.0l.25 3.3l.25 -35.0l.25 35.7l.25 -17.4l.25 4.7l.25 -11.1l.25 -0.9l.25 8.7l.25 25.7l.25 12.2l.25 -24.4l.25 16.3l.25 -19.3l.25 -23.7l.25 29.7l.25 4.0l.25 -13.8l.25 9.9l.25 3.4l.25 -20.8l.25 -8.4l.25 18.7l.25 0.4l.25 -2.0l.25 19.5l.25 10.9l.25 -30.8l.25 16.6l.25 3.5l.25 -3.5l.25 4.6l.25 -21.5l.25 16.6l.25 18.6l.25 -18.4l.25 -20.8l.25 17.6l.25 10.1l.25 -12.3l.25 -13.5l.25 30.1l.25 -41.6l.25 26.1l.25 -7.5l.25 -17.3l.25 35.3l.25 -13.0l.25 -21.8l.25 25.3l.25 -15.2l.25 -22.0l.25 18.4l.25 13.7l.25 5.3l.25 -6.3l.25 -1.8l.25 5.7l.25 -9.8l.25 20.9l.25 -14.8l.25 2.5l.25 3.6l.25 -23.4l.25 4.5l.25 32.0l.25 -17.4l.25 -8.9l.25 7.8l.25 -12.6l.25 10.8l.25 -13.6l.25 13.2l.25 -27.4l.25 42.8l.25 -26.5l.25 -15.8l.25 19.6l.25 -2.5l.25 7.9l.25 -18.9l.25 22.3l.25 46.5l.25 -70.8l.25 23.3l.25 -9.4l.25 7.0l.25 -28.4l.25 9.6l.25 23.8l.25 -7.1l.25 24.5l.25 -33.8l.25 12.6l.25 39.6l.25 -53.7l.25 -1.7l.25 13.2l.25 -0.3l.25 12.8l.25 -10.8l.25 -13.2l.25 13.8l.25 35.0l.25 -19.5l.25 -59.9l.25 38.8l.25 -10.3l.25 21.6l.25 -12.0l.25 31.2l.25 -14.5l.25 -0.7l.25 -10.7l.25 -2.3l.25 6.0l.25 13.8l.25 -10.6l.25 -12.2l.25 24.0l.25 -15.4l.25 -3.7l.25 -9.9l.25 3.6l.25 -1.2l.25 -30.9l.25 54.3l.25 -6.2l.25 -11.5l.25 18.3l.25 -8.9l.25 -1.0l.25 -41.3l.25 32.5l.25 11.0l.25 16.1l.25 3.3l.25 -5.1l.25 -37.4l.25 -14.8l.25 40.3l.25 -8.6l.25 13.2l.25 -15.7l.25 5.1l.25 -25.3l.25 27.1l.25 -13.0l.25 11.5l.25 1.7l.25 -7.5l.25 6.6l.25 -4.3l.25 10.9l.25 -3.7l.25 -15.0l.25 -0.5l.25 34.2l.25 -27.3l.25 15.2l.25 -8.4l.25 -14.0l.25 -2.0l.25 12.5l.25 2.0l.25 5.6l.25 -27.1l.25 10.3l.25 7.4l.25 24.6l.25 -57.0l.25 41.1l.25 -14.4l.25 14.1l.25 -13.6l.25 12.3l.25 17.9l.25 -17.6l.25 1.4l.25 -1.0l.25 -16.5l.25 17.8l.25 -11.3l.25 -8.5l.25 11.9l.25 -2.9l.25 14.3l.25 -11.3l.25 -6.8l.25 28.6l.25 -7.5l.25 3.5l.25 -9.2l.25 -10.1l.25 -4.6l.25 1.5l.25 18.2l.25 -12.1l.25 -23.0l.25 20.7l.25 -20.3l.25 22.2l.25 -20.3l.25 -1.4l.25 20.0l.25 -3.1l.25 -22.4l.25 33.8l.25 20.8l.25 -53.3l.25 48.0l.25 -36.8l.25 2.4l.25 4.2l.25 -17.9l.25 40.0l.25 -12.0l.25 -18.2l.25 6.7l.25 -18.1l.25 17.1l.25 19.4l.25 -37.9l.25 18.8l.25 8.7l.25 13.4l.25 4.7l.25 -26.6l.25 -3.8l.25 18.2l.25 -12.1l.25 1.0l.25 20.6l.25 9.8l.25 -21.6l.25 -6.7l.25 10.9l.25 -36.2l.25 27.2l.25 -15.3l.25 49.3l.25 -24.8l.25 -9.2l.25 -4.6l.25 -33.8l.25 46.2l.25 14.4l.25 -34.1l.25 20.7l.25 0.3l.25 -32.4l.25 35.9l.25 5.4l.25 -16.6l.25 -4.5l.25 12.2l.25 -33.4l.25 23.2l.25 14.2l.25 -32.7l.25 32.3l.25 -20.2l.25 -24.0l.25 27.9l.25 -12.4l.25 19.3l.25 -21.0l.25 32.5l.25 -26.1l.25 15.8l.25 -14.6l.25 3.7l.25 21.5l.25 -13.9l.25 -8.9l.25 -12.5l.25 34.4l.25 -6.7l.25 -15.3l.25 8.6l.25 -18.8l.25 0.3l.25 2.6l.25 17.1l.25 -1.0l.25 -14.6l.25 21.3l.25 0.9l.25 -9.0l.25 13.0l.25 -19.9l.25 2.4l.25 7.9l.25 -7.8l.25 11.7l.25 -29.2l.25 38.9l.25 -31.5l.25 8.8l.25 -18.5l.25 29.0l.25 10.4l.25 -2.5l.25 -4.0l.25 -34.9l.25 10.9l.25 5.2l.25 -6.9l.25 30.2l.25 -13.1l.25 -2.3l.25 7.5l.25 -21.0l.25 0.1l.25 0.3l.25 20.1l.25 -3.1l.25 3.8l.25 7.2l.25 -35.5l.25 11.5l.25 10.6l.25 -20.9l.25 12.4l.25 22.6l.25 1.0l.25 -0.6l.25 -14.4l.25 -3.6l.25 18.7l.25 -21.3l.25 10.5l.25 14.5l.25 -23.7l.25 -3.6l.25 8.8l.25 8.7l.25 -1.7l.25 -4.7l.25 5.6l.25 -31.7l.25 10.8l.25 14.9l.25 -15.7l.25 -6.2l.25 2.5l.25 3.3l.25 11.3l.25 -12.8l.25 17.7l.25 21.1l.25 -26.9l.25 20.4l.25 -14.4l.25 -20.3l.25 12.1l.25 -10.1l.25 25.8l.25 -28.0l.25 35.9l.25 -10.0l.25 -37.8l.25 40.9l.25 11.2l.25 -33.7l.25 26.0l.25 -40.5l.25 29.6l.25 -27.6l.25 30.9l.25 -33.5l.25 -12.1l.25 44.5l.25 28.0l.25 -41.6l.25 20.6l.25 -10.5l.25 -5.8l.25 13.3l.25 14.2l.25 -41.8l.25 26.2l.25 -2.9l.25 -25.6l.25 44.0l.25 4.1l.25 -42.2l.25 38.6l.25 -24.4l.25 -3.4l.25 24.2l.25 -18.4l.25 1.8l.25 16.7l.25 -3.7l.25 -5.8l.25 -32.7l.25 -1.9l.25 40.1l.25 -29.9l.25 15.3l.25 -17.5l.25 13.0l.25 -16.3l.25 41.8l.25 -39.0l.25 12.9l.25 -1.8l.25 20.0l.25 -38.1l.25 19.8l.25 -2.5l.25 10.7l.25 0.1l.25 -13.0l.25 9.6l.25 -8.7l.25 11.7l.25 -7.7l.25 -6.8l.25 9.1l.25 6.0l.25 27.8l.25 -40.1l.25 12.1l.25 17.1l.25 -51.4l.25 5.0l.25 8.6l.25 16.0l.25 36.7l.25 -29.8l.25 12.0l.25 -20.5l.25 -32.4l.25 3.0l.25 49.0l.25 -11.8l.25 -21.6l.25 35.1l.25 -38.3l.25 38.4l.25 3.9l.25 -32.3l.25 -5.4l.25 29.2l.25 -28.0l.25 28.1l.25 -30.4l.25 29.2l.25 -9.9l.25 -7.8l.25 -6.3l.25 15.6l.25 -31.2l.25 23.9l.25 -2.6l.25 15.3l.25 -27.6l.25 43.3l.25 -29.1l.25 -12.6l.25 35.9l.25 3.5l.25 -26.9l.25 -10.8l.25 13.4l.25 -10.6l.25 5.8l.25 26.8l.25 -16.6l.25 -3.7l.25 2.9l.25 -6.3l.25 12.6l.25 1.2l.25 -18.1l.25 7.2l.25 33.5l.25 -28.4l.25 -8.8l.25 32.8l.25 -29.3l.25 -16.7l.25 25.6l.25 -22.6l.25 5.3l.25 12.4l.25 -6.5l.25 -8.7l.25 3.5l.25 -0.2l.25 25.3l.25 -27.9l.25 1.9l.25 38.2l.25 -37.7l.25 29.0l.25 -1.7l.25 -21.2l.25 -17.8l.25 27.4l.25 2.8l.25 4.7l.25 -13.3l.25 16.7l.25 2.8l.25 -35.2l.25 36.5l.25 -18.2l.25 -10.4l.25 3.7l.25 31.9l.25 -12.1l.25 -39.9l.25 27.7l.25 -3.5l.25 -1.1l.25 -5.5l.25 -14.1l.25 33.5l.25 -26.2l.25 8.1l.25 -3.5l.25 -2.0l.25 21.0l.25 -5.1l.25 -14.7l.25 -3.9l.25 6.6l.25 21.6l.25 -12.0l.25 1.5l.25 -8.1l.25 0.7l.25 7.6l.25 -30.0l.25 50.0l.25 -35.4l.25 2.8l.25 28.0l.25 -16.8l.25 -2.8l.25 -8.6l.25 -14.3l.25 24.9l.25 14.1l.25 -30.5l.25 32.1l.25 -36.3l.25 6.0l.25 18.0l.25 -8.3l.25 10.4l.25 -20.3l.25 -4.3l.25 -12.0l.25 8.6l.25 2.5l.25 -5.0l.25 25.6l.25 -14.1l.25 -19.1l.25 64.8l.25 -47.5l.25 -6.6l.25 36.0l.25 -1.2l.25 -33.3l.25 -4.9l.25 6.8l.25 31.3l.25 -20.9l.25 -6.8l.25 11.5l.25 17.4l.25 -36.6l.25 14.8l.25 -14.7l.25 51.4l.25 -4.7l.25 -12.1l.25 -15.4l.25 12.0l.25 -40.1l.25 34.0l.25 -23.4l.25 0.5l.25 8.7l.25 5.4l.25 13.8l.25 1.6l.25 -6.5l.25 -17.3l.25 24.3l.25 -11.6l.25 18.5l.25 -31.1l.25 -27.0l.25 32.6l.25 37.7l.25 -24.6l.25 -9.5l.25 15.9l.25 -4.8l.25 -0.4l.25 -14.0l.25 8.2l.25 1.6l.25 -12.3l.25 -7.0l.25 17.9l.25 12.1l.25 -4.1l.25 -1.3l.25 -0.2l.25 30.0l.25 -33.1l.25 11.4l.25 13.4l.25 -27.7l.25 2.7l.25 11.4l.25 9.5l.25 -19.5l.25 1.4l.25 -3.4l.25 -19.5l.25 33.6l.25 -19.8l.25 -22.1l.25 22.9l.25 -22.9l.25 10.1l.25 14.6l.25 -14.3l.25 28.9l.25 -37.0l.25 24.9l.25 4.7l.25 13.4l.25 -7.7l.25 -10.0l.25 -2.4l.25 -1.8l.25 17.8l.25 -25.9l.25 16.9l.25 -8.7l.25 4.8l.25 -7.9l.25 34.2l.25 -40.4l.25 12.8l.25 0.3l.25 4.3l.25 -2.9l.25 -0.2l.25 8.2l.25 -36.7l.25 21.3l.25 -17.7l.25 21.8l.25 -20.5l.25 3.5l.25 13.8l.25 21.2l.25 -12.0l.25 -4.2l.25 16.4l.25 -34.2l.25 -16.4l.25 25.1l.25 1.9l.25 21.7l.25 12.7l.25 -50.2l.25 55.5l.25 -14.0l.25 -10.6l.25 -6.8l.25 30.0l.25 -34.0l.25 -7.8l.25 8.5l.25 -22.5l.25 26.4l.25 -8.6l.25 6.2l.25 0.2l.25 -20.5l.25 34.8l.25 -34.2l.25 27.6l.25 -36.2l.25 27.7l.25 -17.7l.25 12.1l.25 -10.1l.25 -22.2l.25 14.9l.25 17.1l.25 8.3l.25 -30.7l.25 -9.7l.25 18.7l.25 9.9l.25 -6.0l.25 -2.8l.25 24.6l.25 1.4l.25 -2.8l.25 -23.8l.25 14.5l.25 -3.9l.25 -18.4l.25 33.5l.25 -11.7l.25 -7.8l.25 28.1l.25 -9.0l.25 1.8l.25 4.6l.25 -6.4l.25 -29.2l.25 12.8l.25 20.4l.25 -25.8l.25 11.5l.25 5.5l.25 14.8l.25 -2.2l.25 -5.3l.25 -15.7l.25 15.9l.25 -5.4l.25 -9.8l.25 22.2l.25 -12.6l.25 -18.3l.25 28.8l.25 -22.5l.25 12.8l.25 -31.0l.25 21.4l.25 -13.6l.25 -1.1l.25 -13.5l.25 58.4l.25 -33.1l.25 6.4l.25 12.6l.25 -17.5l.25 9.3l.25 -26.7l.25 22.8l.25 -8.9l.25 13.8l.25 -4.5l.25 -22.2l.25 -6.6l.25 11.9l.25 25.6l.25 -4.3l.25 0.5l.25 -35.7l.25 -10.1l.25 29.7l.25 4.4l.25 -4.0l.25 14.0l.25 -7.9l.25 -14.5l.25 4.8l.25 15.4l.25 -1.1l.25 -1.6l.25 33.9l.25 -37.2l.25 6.4l.25 -15.6l.25 9.3l.25 12.2l.25 0.7l.25 -10.8l.25 7.5l.25 -4.7l.25 -28.0l.25 -20.0l.25 80.5l.25 -21.4l.25 -13.2l.25 -24.9l.25 7.1l.25 38.5l.25 -60.0l.25 35.4l.25 17.6l.25 -10.7l.25 8.9l.25 -13.1l.25 36.5l.25 -49.4l.25 -5.3l.25 23.8l.25 16.9l.25 -21.3l.25 16.5l.25 -23.2l.25 -9.5l.25 37.4l.25 1.7l.25 -0.1l.25 -28.8l.25 -10.0l.25 0.8l.25 13.8l.25 12.3l.25 -1.5l.25 -27.8l.25 24.0l.25 -2.5l.25 0.7l.25 -1.8l.25 -2.6l.25 11.7l.25 -7.0l.25 1.0l.25 -12.9l.25 15.2l.25 -7.9l.25 -29.2l.25 37.6l.25 -10.3l.25 16.9l.25 -15.1l.25 0.7l.25 4.9l.25 -4.0l.25 -6.7l.25 -20.0l.25 52.3l.25 -49.6l.25 17.8l.25 13.9l.25 -4.1l.25 2.8l.25 3.1l.25 7.3l.25 -14.2l.25 37.8l.25 -56.9l.25 17.6l.25 -8.9l.25 -3.1l.25 11.6l.25 17.1l.25 -32.0l.25 -0.3l.25 20.9l.25 -2.2l.25 20.8l.25 -14.1l.25 -11.2l.25 -8.7l.25 8.0l.25 -5.0l.25 -17.2l.25 20.4l.25 -2.5l.25 -0.8l.25 -3.7l.25 30.3l.25 -14.4l.25 3.2l.25 -22.4l.25 -6.0l.25 9.8l.25 7.5l.25 -9.3l.25 2.1l.25 16.7l.25 -9.8l.25 -18.4l.25 8.1l.25 -3.1l.25 12.8l.25 -19.5l.25 14.1l.25 12.2l.25 -8.9l.25 -13.6l.25 4.5l.25 10.4l.25 4.6l.25 5.1l.25 -14.3l.25 -16.7l.25 40.4l.25 -16.7l.25 1.2l.25 -1.2l.25 -19.8l.25 10.4l.25 8.3l.25 11.0l.25 -14.5l.25 -46.2l.25 41.3l.25 9.2l.25 13.7l.25 -8.7l.25 26.1l.25 -15.5l.25 -1.4l.25 -6.3l.25 -34.3l.25 31.8l.25 -2.9l.25 -16.2l.25 15.7l.25 -2.2l.25 -13.1l.25 5.0l.25 -2.3l.25 7.5l.25 -9.0l.25 13.9l.25 -35.5l.25 24.2l.25 -19.9l.25 17.3l.25 14.8l.25 -6.7l.25 -2.6l.25 2.9l.25 21.5l.25 -39.0l.25 29.0l.25 -35.5l.25 15.4l.25 9.0l.25 -14.3l.25 15.7l.25 7.8l.25 -28.0l.25 15.9l.25 -4.2l.25 -22.6l.25 25.5l.25 -8.6l.25 31.0l.25 -32.7l.25 37.0l.25 -32.5l.25 35.9l.25 -20.2l.25 -1.6l.25 5.4l.25 1.6l.25 7.6l.25 5.1l.25 -29.4l.25 -13.5l.25 -20.4l.25 33.8l.25 16.3l.25 -5.3l.25 -3.8l.25 -7.3l.25 -4.1l.25 5.4l.25 9.2l.25 -31.1l.25 36.3l.25 -31.5l.25 18.8l.25 -6.9l.25 3.7l.25 -10.2l.25 -2.0l.25 13.7l.25 -12.2l.25 51.7l.25 -40.8l.25 -3.8l.25 1.9l.25 -7.4l.25 -20.6l.25 31.8l.25 7.8l.25 -25.5l.25 22.4l.25 -17.4l.25 17.0l.25 5.8l.25 2.1l.25 0.4l.25 -16.6l.25 23.0l.25 -18.9l.25 11.8l.25 5.2l.25 -14.6l.25 -14.9l.25 27.7l.25 -25.3l.25 3.3l.25 -2.8l.25 28.7l.25 -14.8l.25 -29.0l.25 42.7l.25 19.3l.25 -3.1l.25 -34.2l.25 9.3l.25 5.8l.25 5.7l.25 -12.2l.25 -16.0l.25 26.6l.25 -1.6l.25 -28.5l.25 14.2l.25 9.6l.25 -3.5l.25 7.4l.25 4.3l.25 -4.8l.25 -9.9l.25 -17.3l.25 28.4l.25 11.6l.25 7.9l.25 -28.9l.25 0.3l.25 21.8l.25 -0.6l.25 -16.4l.25 5.5l.25 -21.0l.25 19.5l.25 -20.0l.25 9.7l.25 0.4l.25 -5.4l.25 -23.6l.25 18.7l.25 16.3l.25 -6.1l.25 -4.3l.25 11.7l.25 3.1l.25 2.1l.25 -24.6l.25 12.5l.25 -5.2l.25 -7.3l.25 -8.6l.25 20.6l.25 -11.3l.25 43.4l.25 -32.4l.25 -1.7l.25 -2.4l.25 32.8l.25 -41.1l.25 11.4l.25 -8.8l.25 9.7l.25 1.7l.25 17.4l.25 -36.1l.25 20.5l.25 23.9l.25 -30.5l.25 5.2l.25 -10.4l.25 -25.7l.25 35.7l.25 18.6l.25 -24.7l.25 -20.0l.25 30.8l.25 -3.9l.25 13.1l.25 -1.5l.25 -17.1l.25 10.0l.25 -31.9l.25 41.6l.25 -13.1l.25 12.9l.25 -0.5l.25 -19.2l.25 1.8l.25 -10.3l.25 -17.0l.25 28.4l.25 4.7l.25 -18.0l.25 26.3l.25 -9.2l.25 4.8l.25 -17.8l.25 -15.0l.25 37.3l.25 -1.8l.25 -9.9l.25 -4.5l.25 2.0l.25 1.1l.25 -5.7l.25 -22.2l.25 40.9l.25 -32.9l.25 16.2l.25 0.6l.25 8.5l.25 -27.0l.25 41.1l.25 -8.0l.25 1.5l.25 7.6l.25 -29.8l.25 -34.3l.25 50.0l.25 14.5l.25 -2.4l.25 -24.8l.25 5.9l.25 5.7l.25 -30.0l.25 15.6l.25 0.7l.25 31.7l.25 -32.4l.25 31.6l.25 -22.8l.25 -24.9l.25 56.2l.25 -46.1l.25 22.9l.25 15.5l.25 -32.4l.25 -10.5l.25 33.4l.25 -13.8l.25 -18.0l.25 2.5l.25 9.6l.25 19.4l.25 -18.8l.25 13.7l.25 14.7l.25 -5.4l.25 2.5l.25 -2.7l.25 -40.6l.25 40.5l.25 -13.7l.25 -6.4l.25 -14.1l.25 -7.1l.25 6.7l.25 15.7l.25 -16.5l.25 4.7l.25 2.5l.25 18.5l.25 -15.0l.25 1.7l.25 21.9l.25 -23.6l.25 13.5l.25 -24.3l.25 20.0l.25 -3.1l.25 1.3l.25 -9.8l.25 -8.0l.25 11.2l.25 -2.8l.25 22.1l.25 -2.1l.25 -30.1l.25 27.3l.25 -15.8l.25 13.4l.25 -13.7l.25 -14.9l.25 35.6l.25 -9.0l.25 -24.2l.25 -10.6l.25 19.7l.25 -9.5l.25 12.1l.25 15.3l.25 12.5l.25 -26.8l.25 25.0l.25 -3.2l.25 -23.2l.25 -17.6l.25 36.9l.25 -3.9l.25 25.0l.25 -13.4l.25 -9.3l.25 13.2l.25 -39.7l.25 18.4l.25 -6.8l.25 28.6l.25 -16.7l.25 -52.4l.25 64.3l.25 -33.6l.25 23.6l.25 -18.4l.25 10.0l.25 5.1l.25 -6.0l.25 -16.4l.25 34.2l.25 -14.5l.25 -6.1l.25 9.5l.25 -17.4l.25 35.2l.25 -23.5l.25 2.7l.25 0.3l.25 -18.1l.25 -4.0l.25 20.4l.25 1.6l.25 14.2l.25 -14.0l.25 -22.5l.25 23.3l.25 4.2l.25 1.8l.25 -10.4l.25 -22.3l.25 34.7l.25 -27.4l.25 18.9l.25 -30.9l.25 33.2l.25 -22.6l.25 26.7l.25 10.4l.25 -8.4l.25 -33.2l.25 3.2l.25 1.4l.25 22.1l.25 -4.6l.25 -2.1l.25 2.3l.25 4.0l.25 1.4l.25 15.4l.25 -25.5l.25 4.2l.25 -29.6l.25 7.8l.25 9.4l.25 -7.0l.25 21.1l.25 12.0l.25 -21.4l.25 -0.8l.25 -0.4l.25 9.3l.25 -10.3l.25 13.7l.25 -1.3l.25 1.0l.25 5.5l.25 -10.8l.25 1.6l.25 23.4l.25 -26.0l.25 11.8l.25 -9.9l.25 -7.0l.25 0.2l.25 -4.5l.25 12.4l.25 -8.9l.25 2.8l.25 23.8l.25 -18.9l.25 18.2l.25 -12.4l.25 8.2l.25 -21.5l.25 10.2l.25 35.7l.25 -26.6l.25 2.0l.25 -10.9l.25 9.0l.25 -30.1l.25 3.9l.25 18.6l.25 5.2l.25 -18.1l.25 3.9l.25 -2.1l.25 2.2l.25 -14.0l.25 -3.1l.25 19.3l.25 -24.3l.25 10.0l.25 4.6l.25 -5.0l.25 20.0l.25 -10.0l.25 4.6l.25 -13.0l.25 4.3l.25 18.7l.25 -1.6l.25 -12.0l.25 12.1l.25 -1.9l.25 -0.5l.25 20.8l.25 -29.1l.25 12.3l.25 -0.1l.25 -10.3l.25 -13.6l.25 26.8l.25 -6.0l.25 -3.6l.25 0.1l.25 0.3l.25 -13.7l.25 17.3l.25 -30.4l.25 25.3l.25 -22.2l.25 17.1l.25 15.1l.25 -14.3l.25 -3.2l.25 13.8l.25 -11.5l.25 -2.2l.25 0.3l.25 27.6l.25 -11.7l.25 -2.3l.25 -23.2l.25 26.2l.25 -27.7l.25 26.2l.25 -22.4l.25 45.1l.25 -52.9l.25 42.3l.25 -6.7l.25 -37.3l.25 22.2l.25 24.8l.25 -4.7l.25 -40.5l.25 16.8l.25 -9.5l.25 1.3l.25 5.7l.25 36.2l.25 -24.7l.25 -5.0l.25 -1.8l.25 14.1l.25 0.2l.25 -23.3l.25 33.9l.25 -36.8l.25 11.7l.25 10.3l.25 18.2l.25 -30.3l.25 8.9l.25 14.3l.25 -10.1l.25 7.9l.25 -1.5l.25 -11.0l.25 5.6l.25 4.6l.25 -13.5l.25 24.1l.25 -52.2l.25 16.0l.25 34.1l.25 -15.2l.25 -14.9l.25 14.8l.25 10.4l.25 -24.3l.25 19.4l.25 -13.3l.25 0.4l.25 0.7l.25 17.1l.25 -32.0l.25 10.4l.25 14.6l.25 -27.2l.25 -5.5l.25 31.6l.25 -7.8l.25 -1.7l.25 5.3l.25 -15.7l.25 56.2l.25 -56.4l.25 7.5l.25 -13.5l.25 15.2l.25 28.7l.25 -21.1l.25 8.8l.25 -16.5l.25 33.0l.25 -23.4l.25 -20.8l.25 29.0l.25 -16.5l.25 13.9l.25 -6.3l.25 2.5l.25 -2.2l.25 -16.4l.25 -8.9l.25 37.0l.25 -16.8l.25 5.5l.25 -11.2l.25 -22.7l.25 10.7l.25 38.8l.25 -31.8l.25 5.7l.25 -15.9l.25 13.4l.25 2.1l.25 2.3l.25 2.7l.25 -8.4l.25 1.1l.25 8.4l.25 5.4l.25 -7.6l.25 26.9l.25 -22.1l.25 -1.0l.25 -12.0l.25 24.5l.25 -29.2l.25 -8.9l.25 9.4l.25 23.4l.25 -25.7l.25 35.6l.25 -19.4l.25 -21.9l.25 18.2l.25 29.2l.25 -38.7l.25 -6.9l.25 26.2l.25 11.8l.25 -4.1l.25 -19.9l.25 7.3l.25 1.9l.25 12.8l.25 14.4l.25 -32.7l.25 20.3l.25 -23.6l.25 13.4l.25 -21.6l.25 2.5l.25 16.9l.25 -19.6l.25 26.5l.25 -20.5l.25 9.1l.25 -2.0l.25 -3.6l.25 6.7l.25 14.0l.25 29.3l.25 -62.5l.25 21.5l.25 -7.2l.25 -11.5l.25 16.6l.25 -16.7l.25 11.9l.25 19.3l.25 -46.9l.25 33.0l.25 2.4l.25 -20.6l.25 21.6l.25 -2.4l.25 -9.9l.25 22.4l.25 -36.8l.25 27.9l.25 -12.4l.25 -11.6l.25 13.5l.25 -2.7l.25 16.6l.25 -33.5l.25 19.2l.25 -4.0l.25 29.9l.25 -39.1l.25 31.1l.25 -41.5l.25 29.9l.25 -6.4l.25 6.9l.25 -15.4l.25 -18.1l.25 5.8l.25 40.7l.25 -16.6l.25 -16.2l.25 26.0l.25 -23.7l.25 -0.1l.25 -6.5l.25 33.9l.25 11.4l.25 -43.0l.25 18.1l.25 10.3l.25 16.9l.25 -64.8l.25 36.3l.25 7.6l.25 -31.0l.25 28.3l.25 -2.8l.25 7.3l.25 -18.7l.25 14.0l.25 -14.4l.25 17.8l.25 -6.7l.25 -7.4l.25 -14.6l.25 44.6l.25 -8.4l.25 -3.7l.25 -22.1l.25 4.6l.25 29.2l.25 -13.5l.25 -22.5l.25 12.6l.25 1.8l.25 -4.9l.25 -10.6l.25 32.3l.25 -9.5l.25 -11.8l.25 -19.0l.25 15.0l.25 8.6l.25 12.4l.25 -18.2l.25 21.5l.25 -14.1l.25 -13.3l.25 -29.8l.25 23.4l.25 -4.9l.25 19.8l.25 7.2l.25 15.3l.25 -20.5l.25 -16.6l.25 50.8l.25 -29.4l.25 -8.6l.25 0.1l.25 -16.6l.25 28.9l.25 -3.8l.25 17.4l.25 -7.5l.25 -3.8l.25 6.0l.25 -22.2l.25 -2.5l.25 5.7l.25 -17.1l.25 16.1l.25 -2.5l.25 14.7l.25 -10.1l.25 -27.5l.25 27.8l.25 19.4l.25 -47.2l.25 15.7l.25 10.8l.25 -19.2l.25 11.0l.25 9.1l.25 -20.0l.25 24.4l.25 2.1l.25 -24.2l.25 18.1l.25 15.4l.25 -18.5l.25 9.1l.25 3.4l.25 -12.9l.25 17.8l.25 -9.3l.25 -19.9l.25 22.2l.25 4.7l.25 -0.3l.25 -21.3l.25 15.5l.25 12.9l.25 -16.4l.25 13.5l.25 1.6l.25 -19.2l.25 10.1l.25 -14.0l.25 19.8l.25 -16.2l.25 -6.0l.25 7.1l.25 -0.8l.25 7.3l.25 0.8l.25 -23.4l.25 7.3l.25 14.8l.25 2.6l.25 -5.4l.25 36.3l.25 -21.6l.25 -17.8l.25 11.6l.25 9.1l.25 -14.2l.25 -30.3l.25 26.5l.25 -0.4l.25 29.9l.25 -58.6l.25 49.6l.25 -24.9l.25 15.4l.25 -18.0l.25 6.6l.25 13.7l.25 -15.5l.25 14.7l.25 -15.9l.25 -5.0l.25 2.0l.25 -4.2l.25 5.2l.25 21.5l.25 -36.6l.25 -6.9l.25 23.1l.25 24.9l.25 -8.7l.25 3.9l.25 -1.1l.25 -28.2l.25 11.5l.25 -40.3l.25 29.9l.25 18.1l.25 -31.4l.25 -7.3l.25 10.8l.25 21.7l.25 13.8l.25 20.2l.25 -16.7l.25 -42.7l.25 -11.4l.25 36.5l.25 13.6l.25 -39.4l.25 16.3l.25 0.4l.25 6.8l.25 -2.9l.25 10.3l.25 8.1l.25 -14.1l.25 9.4l.25 18.2l.25 -43.3l.25 0.2l.25 22.9l.25 19.7l.25 -24.5l.25 13.1l.25 -20.1l.25 17.1l.25 -22.3l.25 18.9l.25 -3.6l.25 -0.3l.25 14.6l.25 -5.1l.25 -23.7l.25 21.9l.25 -37.3l.25 39.1l.25 26.1l.25 -32.3l.25 -0.1l.25 -5.9l.25 11.1l.25 -18.5l.25 16.0l.25 -13.2l.25 -2.6l.25 8.3l.25 -2.4l.25 -23.4l.25 55.3l.25 -28.2l.25 -27.2l.25 40.2l.25 -15.4l.25 3.0l.25 7.7l.25 -23.7l.25 -30.4l.25 41.6l.25 4.8l.25 11.0l.25 -25.5l.25 7.3l.25 9.7l.25 -9.5l.25 1.6l.25 6.9l.25 -17.9l.25 36.9l.25 -36.6l.25 13.3l.25 -5.6l.25 -4.5l.25 18.5l.25 6.8l.25 6.7l.25 -12.9l.25 -15.1l.25 18.8l.25 -33.6l.25 21.1l.25 6.6l.25 0.3l.25 -25.4l.25 -5.0l.25 46.1l.25 -31.8l.25 -16.3l.25 5.9l.25 17.3l.25 16.7l.25 -16.4l.25 17.4l.25 -14.6l.25 3.8l.25 7.3l.25 -19.8l.25 10.3l.25 -10.7l.25 -4.1l.25 18.3l.25 -21.3l.25 13.0l.25 -13.0l.25 10.2l.25 -6.8l.25 23.6l.25 -14.1l.25 0.5l.25 22.5l.25 -65.7l.25 26.1l.25 -23.8l.25 39.6l.25 7.0l.25 3.5l.25 -5.3l.25 -17.4l.25 38.2l.25 -20.7l.25 -8.1l.25 -12.2l.25 22.5l.25 -13.0l.25 0.9l.25 8.9l.25 0.3l.25 -14.7l.25 30.2l.25 -32.4l.25 -1.8l.25 21.2l.25 -2.2l.25 -0.9l.25 -6.7l.25 6.7l.25 -9.0l.25 -15.3l.25 34.0l.25 -26.2l.25 11.1l.25 13.6l.25 -10.7l.25 39.9l.25 -59.2l.25 9.0l.25 12.5l.25 18.5l.25 -22.9l.25 -17.1l.25 37.3l.25 -30.3l.25 10.4l.25 15.4l.25 -22.5l.25 3.1l.25 13.4l.25 -10.7l.25 7.0l.25 -18.2l.25 11.4l.25 -13.9l.25 -6.9l.25 48.2l.25 -18.7l.25 6.8l.25 -27.5l.25 13.4l.25 -3.2l.25 -18.0l.25 29.0l.25 -18.3l.25 7.2l.25 -19.7l.25 36.8l.25 -3.1l.25 -5.5l.25 -18.6l.25 5.4l.25 25.5l.25 -21.3l.25 8.7l.25 -1.8l.25 -18.4l.25 37.7l.25 -51.3l.25 31.5l.25 -4.8l.25 -21.8l.25 27.9l.25 2.8l.25 -6.4l.25 -13.3l.25 18.4l.25 9.7l.25 -12.9l.25 21.7l.25 -12.5l.25 -1.0l.25 9.0l.25 -29.8l.25 2.6l.25 15.2l.25 0.7l.25 14.8l.25 -5.7l.25 -14.0l.25 0.5l.25 -7.5l.25 -1.0l.25 -0.3l.25 19.4l.25 -19.7l.25 2.1l.25 7.4l.25 -10.0l.25 4.1l.25 -28.5l.25 37.6l.25 -9.3l.25 7.1l.25 2.9l.25 -32.0l.25 63.1l.25 -32.3l.25 1.3l.25 -28.7l.25 34.7l.25 -3.0l.25 -11.3l.25 8.2l.25 15.0l.25 -23.5l.25 -8.4l.25 32.1l.25 -15.5l.25 -6.5l.25 36.1l.25 -30.9l.25 -4.5l.25 6.3l.25 -10.3l.25 8.1l.25 -0.3l.25 -11.8l.25 5.8l.25 7.9l.25 1.2l.25 2.5l.25 2.9l.25 -8.0l.25 3.3l.25 -12.3l.25 1.7l.25 18.8l.25 -43.9l.25 34.3l.25 40.0l.25 -72.9l.25 48.5l.25 -46.8l.25 31.4l.25 18.4l.25 -2.5l.25 -35.2l.25 -5.7l.25 -2.0l.25 31.1l.25 -16.4l.25 5.2l.25 3.9l.25 2.1l.25 2.0l.25 -6.3l.25 -25.1l.25 44.4l.25 -60.6l.25 58.0l.25 -26.3l.25 5.9l.25 -4.4l.25 2.3l.25 5.9l.25 -3.8l.25 -12.3l.25 28.1l.25 -20.5l.25 27.5l.25 -20.8l.25 -8.4l.25 16.7l.25 7.2l.25 -25.9l.25 9.5l.25 24.9l.25 -35.0l.25 2.7l.25 15.2l.25 -20.2l.25 -17.8l.25 11.3l.25 29.0l.25 3.8l.25 -0.8l.25 -3.2l.25 -23.3l.25 28.2l.25 6.7l.25 -26.7l.25 24.6l.25 -18.5l.25 7.4l.25 2.6l.25 -26.9l.25 42.1l.25 -33.7l.25 11.0l.25 -5.7l.25 13.9l.25 -0.1l.25 -5.5l.25 20.3l.25 -16.8l.25 -10.2l.25 -36.4l.25 37.2l.25 0.0l.25 -8.4l.25 -0.3l.25 21.0l.25 6.2l.25 12.2l.25 -11.2l.25 -26.6l.25 14.4l.25 -22.6l.25 30.6l.25 -5.6l.25 -14.2l.25 6.8l.25 -2.0l.25 -5.5l.25 28.8l.25 25.0l.25 -32.6l.25 3.3l.25 -12.3l.25 -7.4l.25 36.4l.25 -37.2l.25 11.2l.25 -7.4l.25 10.1l.25 -9.3l.25 9.8l.25 -27.2l.25 16.4l.25 20.9l.25 -35.3l.25 5.1l.25 29.7l.25 -13.2l.25 10.0l.25 -48.6l.25 35.0l.25 -20.5l.25 -1.1l.25 25.6l.25 11.1l.25 -38.9l.25 5.7l.25 8.1l.25 5.7l.25 -17.1l.25 52.2l.25 -23.7l.25 -14.1l.25 -1.6l.25 42.2l.25 -1.1l.25 -39.0l.25 11.9l.25 13.4l.25 -35.3l.25 8.7l.25 28.4l.25 -29.5l.25 3.5l.25 -13.4l.25 8.5l.25 21.2l.25 -21.7l.25 -6.6l.25 10.7l.25 35.0l.25 -22.8l.25 -10.8l.25 10.8l.25 3.7l.25 -4.5l.25 -27.7l.25 30.6l.25 -8.0l.25 15.5l.25 -31.9l.25 34.8l.25 -23.3l.25 -17.3l.25 44.0l.25 -26.5l.25 12.2l.25 -8.3l.25 18.6l.25 0.0l.25 -0.3l.25 -6.4l.25 -34.1l.25 -1.3l.25 27.6l.25 -17.4l.25 20.5l.25 -4.6l.25 -22.7l.25 5.3l.25 -1.2l.25 3.7l.25 10.0l.25 14.1l.25 9.6l.25 -34.0l.25 5.9l.25 32.1l.25 -9.1l.25 -9.9l.25 -37.3l.25 19.5l.25 17.0l.25 -11.0l.25 37.7l.25 -27.9l.25 2.8l.25 -20.1l.25 1.4l.25 6.0l.25 0.0l.25 6.2l.25 8.9l.25 -2.1l.25 12.5l.25 -34.2l.25 22.3l.25 0.6l.25 19.5l.25 -26.3l.25 7.6l.25 -18.1l.25 17.9l.25 -0.2l.25 -15.4l.25 3.1l.25 5.7l.25 9.2l.25 -25.5l.25 29.6l.25 -18.4l.25 32.4l.25 -6.4l.25 -27.4l.25 -3.8l.25 46.4l.25 -26.4l.25 -0.9l.25 -13.5l.25 4.2l.25 12.9l.25 -2.9l.25 -20.6l.25 30.6l.25 -13.4l.25 -18.8l.25 28.9l.25 -17.3l.25 13.5l.25 -19.3l.25 12.8l.25 -29.0l.25 28.7l.25 -26.9l.25 24.6l.25 -39.8l.25 36.3l.25 11.0l.25 -2.9l.25 10.3l.25 -32.9l.25 38.1l.25 0.2l.25 -41.4l.25 5.2l.25 3.1l.25 7.0l.25 2.6l.25 -39.5l.25 44.3l.25 -12.0l.25 -11.3l.25 28.7l.25 -18.5l.25 21.8l.25 -8.9l.25 -13.1l.25 22.1l.25 -5.5l.25 -19.7l.25 -15.8l.25 14.4l.25 17.0l.25 -12.8l.25 29.0l.25 -22.0l.25 -1.2l.25 3.0l.25 -19.2l.25 11.0l.25 -7.6l.25 -24.5l.25 8.8l.25 36.6l.25 -17.2l.25 4.8l.25 -18.7l.25 13.2l.25 19.5l.25 -9.4l.25 -8.9l.25 30.0l.25 -23.1l.25 -4.5l.25 21.2l.25 -41.2l.25 33.7l.25 -23.8l.25 4.7l.25 1.7l.25 11.8l.25 -0.7l.25 2.4l.25 -1.7l.25 17.5l.25 4.3l.25 -14.3l.25 -0.1l.25 -17.3l.25 -10.0l.25 24.8l.25 -8.0l.25 12.0l.25 -38.7l.25 66.3l.25 -57.6l.25 18.9l.25 13.7l.25 -34.6l.25 12.4l.25 -20.4l.25 8.3l.25 -7.2l.25 29.9l.25 2.5l.25 -9.9l.25 23.0l.25 1.9l.25 -20.6l.25 -3.2l.25 -0.8l.25 -1.8l.25 25.8l.25 -15.8l.25 -7.6l.25 1.5l.25 11.0l.25 -14.6l.25 11.3l.25 -5.0l.25 20.3l.25 -3.5l.25 -38.2l.25 18.6l.25 13.5l.25 -17.5l.25 17.9l.25 -6.8l.25 3.4l.25 -9.4l.25 5.6l.25 2.8l.25 -29.5l.25 7.8l.25 -1.5l.25 39.4l.25 -20.0l.25 0.9l.25 -2.2l.25 -9.9l.25 -2.9l.25 23.0l.25 -17.4l.25 27.9l.25 -20.7l.25 -1.2l.25 -4.9l.25 2.8l.25 1.4l.25 21.9l.25 12.1l.25 -51.0l.25 20.3l.25 6.3l.25 -23.0l.25 3.4l.25 2.6l.25 -28.1l.25 44.8l.25 -9.6l.25 -1.4l.25 3.3l.25 3.0l.25 29.6l.25 -31.4l.25 9.8l.25 -19.4l.25 12.4l.25 -9.9l.25 2.5l.25 -11.1l.25 2.4l.25 18.6l.25 4.2l.25 -3.6l.25 -15.9l.25 14.5l.25 -41.4l.25 51.6l.25 -13.8l.25 5.2l.25 12.9l.25 -23.1l.25 20.2l.25 -20.4l.25 14.1l.25 -15.0l.25 10.2l.25 16.4l.25 -30.8l.25 1.0l.25 4.5l.25 8.4l.25 36.1l.25 -47.8l.25 -21.5l.25 20.0l.25 -13.6l.25 14.4l.25 8.1l.25 -14.1l.25 4.2l.25 -17.0l.25 29.2l.25 -14.0l.25 26.7l.25 -0.8l.25 -27.6l.25 7.7l.25 5.6l.25 10.3l.25 -35.6l.25 23.3l.25 27.6l.25 -28.5l.25 4.1l.25 -3.7l.25 -17.8l.25 30.7l.25 -10.0l.25 -2.2l.25 9.1l.25 0.6l.25 -39.5l.25 34.9l.25 -14.8l.25 11.8l.25 -13.7l.25 -1.3l.25 26.4l.25 -13.9l.25 -4.1l.25 -0.3l.25 6.0l.25 -1.5l.25 -33.9l.25 21.9l.25 9.5l.25 13.4l.25 9.3l.25 -33.2l.25 42.3l.25 -26.6l.25 6.0l.25 -14.5l.25 -1.3l.25 29.6l.25 -23.4l.25 0.9l.25 18.6l.25 8.2l.25 -45.9l.25 19.3l.25 2.5l.25 26.0l.25 9.5l.25 -37.0l.25 5.9l.25 6.8l.25 3.6l.25 -21.9l.25 17.3l.25 -23.3l.25 -28.8l.25 19.1l.25 23.8l.25 8.1l.25 -44.3l.25 6.5l.25 25.8l.25 -48.9l.25 57.1l.25 7.6l.25 -57.8l.25 54.6l.25 -12.9l.25 23.4l.25 -16.3l.25 -7.3l.25 5.1l.25 12.3l.25 -11.5l.25 -3.0l.25 -21.2l.25 29.1l.25 -6.5l.25 26.1l.25 -27.1l.25 -1.2l.25 -8.5l.25 19.5l.25 -14.0l.25 -7.3l.25 33.8l.25 2.6l.25 -33.0l.25 -8.4l.25 31.2l.25 -28.9l.25 53.0l.25 -43.8l.25 16.6l.25 -33.0l.25 18.5l.25 16.2l.25 -9.4l.25 -14.0l.25 43.7l.25 -24.6l.25 -14.1l.25 -5.7l.25 4.7l.25 23.7l.25 -31.1l.25 11.9l.25 -12.8l.25 30.7l.25 -20.1l.25 15.6l.25 -4.0l.25 -16.3l.25 18.6l.25 3.4l.25 -30.9l.25 27.5l.25 39.8l.25 -54.1l.25 13.3l.25 -28.5l.25 26.5l.25 -15.5l.25 20.1l.25 -12.0l.25 -16.0l.25 33.7l.25 -19.3l.25 -11.3l.25 16.1l.25 -15.2l.25 20.5l.25 -6.4l.25 -5.1l.25 15.0l.25 -27.8l.25 32.2l.25 -43.9l.25 52.4l.25 -19.7l.25 -7.2l.25 -6.9l.25 18.6l.25 -10.7l.25 0.1l.25 17.1l.25 -21.7l.25 2.5l.25 9.8l.25 10.1l.25 -18.1l.25 4.7l.25 -1.6l.25 10.2l.25 10.9l.25 -35.7l.25 10.9l.25 1.6l.25 9.2l.25 12.2l.25 -22.0l.25 2.8l.25 13.5l.25 -35.5l.25 6.9l.25 5.4l.25 6.1l.25 3.4l.25 -10.8l.25 33.8l.25 -35.9l.25 7.7l.25 19.6l.25 -4.2l.25 -10.6l.25 6.4l.25 6.7l.25 -12.2l.25 10.3l.25 -23.6l.25 14.6l.25 -25.3l.25 9.9l.25 -2.9l.25 34.8l.25 -25.0l.25 11.0l.25 -18.1l.25 11.2l.25 -1.7l.25 -7.8l.25 25.0l.25 -37.3l.25 33.5l.25 30.2l.25 -51.3l.25 12.0l.25 -23.2l.25 22.7l.25 -24.8l.25 35.0" stroke="#000" stroke-width="1.1" fill="none"/><path d="M905.4 718.9H1646.7M915.4 601.3V718.9M1636.7 601.3V718.9M915.4 601.3h-10M1636.7 601.3h10M915.4 659.7h-10M1636.7 659.7h10M915.4 630.5h-5.6M1636.7 630.5h5.6M915.4 688.9h-5.6M1636.7 688.9h5.6M965.5 718.9v9M1057.0 718.9v9M1148.6 718.9v9M1240.1 718.9v9M1331.6 718.9v9M1423.1 718.9v9M1514.7 718.9v9M1606.2 718.9v9M919.7 718.9v5.6M1011.3 718.9v5.6M1102.8 718.9v5.6M1194.3 718.9v5.6M1285.8 718.9v5.6M1377.4 718.9v5.6M1468.9 718.9v5.6M1560.4 718.9v5.6" stroke="#000" stroke-width="2.6" stroke-linecap="round" fill="none"/><g style="font:bold 16.2px 'Liberation Sans', Arial, sans-serif"><text x="897.6" y="606.7" text-anchor="end">0.002</text><text x="897.6" y="665.1" text-anchor="end">0.000</text><text x="897.6" y="723.5" text-anchor="end">-0.002</text></g><g style="font:bold 16.3px 'Liberation Sans', Arial, sans-serif"><text x="965.9" y="748" text-anchor="middle">1.8</text><text x="1057.4" y="748" text-anchor="middle">3.6</text><text x="1149.0" y="748" text-anchor="middle">5.4</text><text x="1240.5" y="748" text-anchor="middle">7.2</text><text x="1332.0" y="748" text-anchor="middle">9.0</text><text x="1423.5" y="748" text-anchor="middle">10.8</text><text x="1515.1" y="748" text-anchor="middle">12.6</text><text x="1606.6" y="748" text-anchor="middle">14.4</text></g><text x="1268.6" y="791.6" text-anchor="middle" style="font:bold 29.6px 'Liberation Sans', Arial, sans-serif">Time (ns)</text><text transform="translate(842.6 653.6) rotate(-90)" text-anchor="middle" style="font:bold 25.8px 'Liberation Sans', Arial, sans-serif">Std. Dev.</text></svg></body></html>
